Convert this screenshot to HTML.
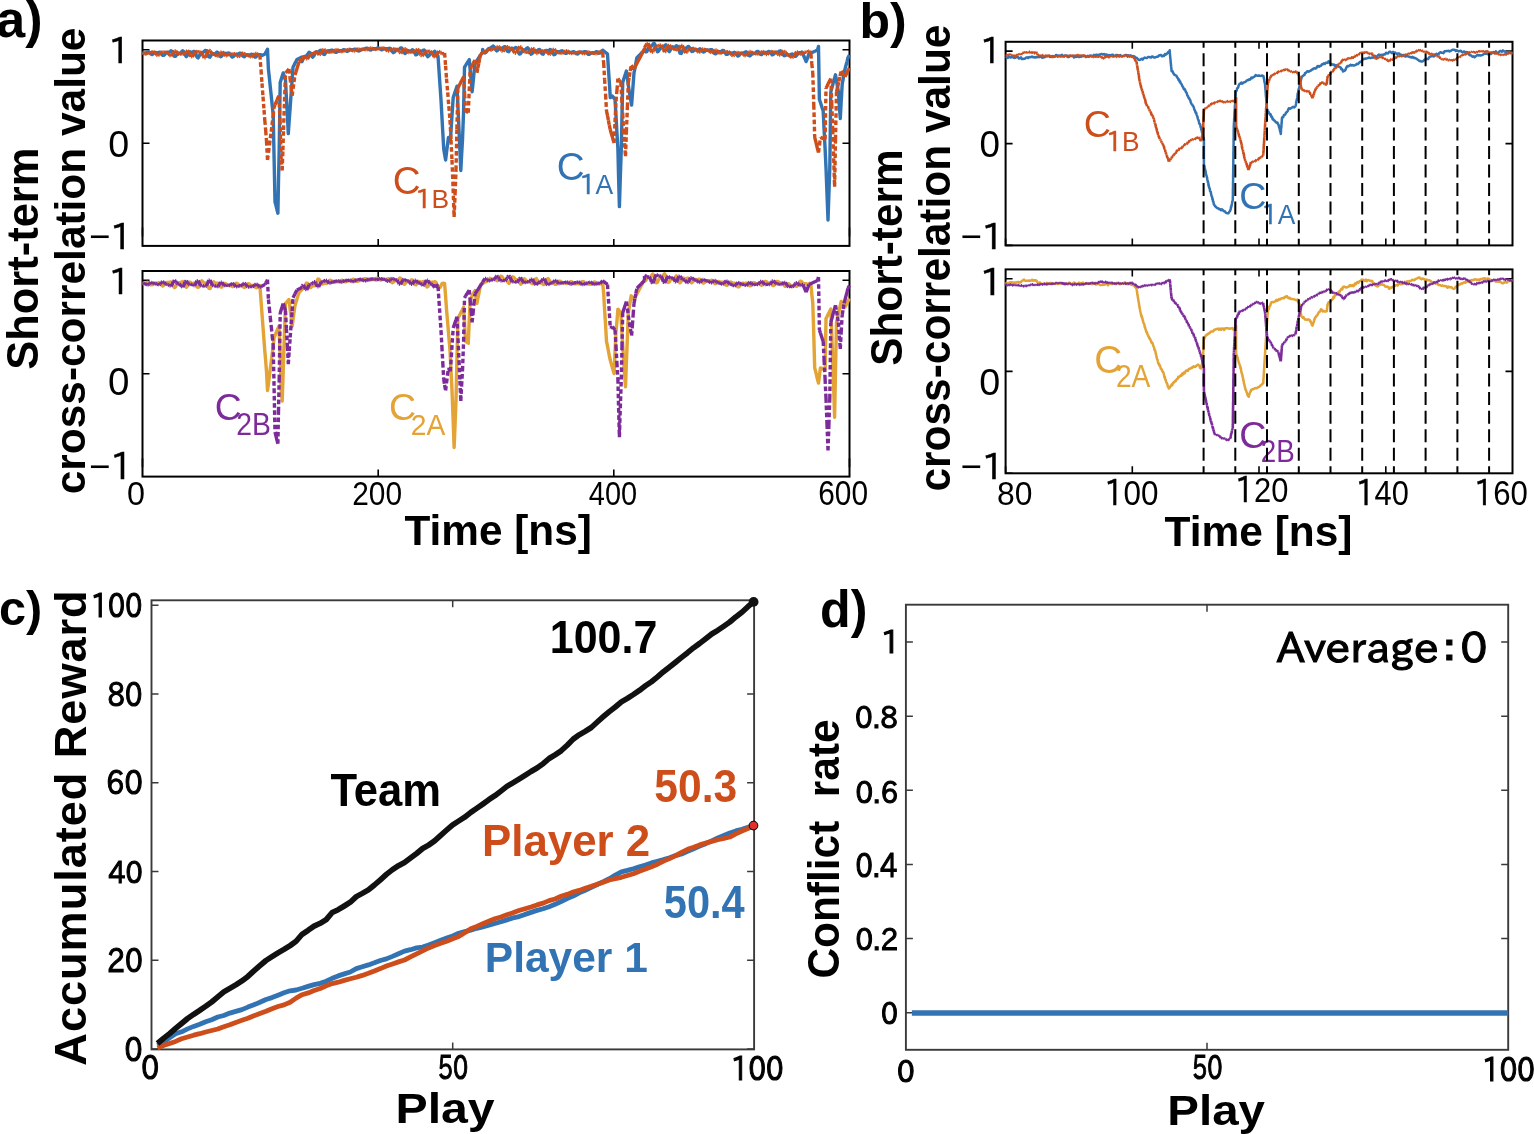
<!DOCTYPE html><html><head><meta charset="utf-8"><title>Figure</title><style>html,body{margin:0;padding:0;background:#fff;}svg{display:block;}text{font-family:'Liberation Sans','Noto Sans CJK JP',sans-serif;white-space:pre}.j{font-family:'IPAPGothic','Liberation Sans',sans-serif;stroke:#000;stroke-width:1.1px}.j1{font-family:IPAPGothic,'Liberation Sans',sans-serif;stroke-width:0.5px}</style></head><body>
<svg width="1534" height="1134" viewBox="0 0 1534 1134">
<rect x="0" y="0" width="1534" height="1134" fill="#fff"/>
<rect x="142.5" y="40.5" width="707" height="205.4" fill="none" stroke="#000" stroke-width="2.0"/>
<path d="M142.5 143.2h7M849.5 143.2h-7M142.5 49.8h7M849.5 49.8h-7M142.5 236.6v-9M849.5 236.6v-9M378.2 40.5v7M378.2 245.9v-7M613.8 40.5v7M613.8 245.9v-7" stroke="#000" stroke-width="1.6" fill="none"/>
<rect x="142.5" y="271" width="707" height="205.6" fill="none" stroke="#000" stroke-width="2.0"/>
<path d="M142.5 373.8h7M849.5 373.8h-7M142.5 280.3h7M849.5 280.3h-7M142.5 467.3v-9M849.5 467.3v-9M378.2 271v7M378.2 476.6v-7M613.8 271v7M613.8 476.6v-7" stroke="#000" stroke-width="1.6" fill="none"/>
<polyline points="142.5,53.5 143.1,53.2 143.7,52.9 144.3,52.9 144.9,52.9 145.5,52.9 146,52.8 146.6,52.5 147.2,52.2 147.8,52 148.4,51.7 149,52.1 149.6,52.4 150.2,53.1 150.8,53.9 151.4,54.2 152,54.6 152.6,54.2 153.1,53.9 153.7,53.3 154.3,52.7 154.9,52.6 155.5,52.4 156.1,52.6 156.7,52.8 157.3,52.8 157.9,52.7 158.5,52.5 159.1,52.2 159.7,52.2 160.2,52.2 160.8,52.9 161.4,53.6 162,54.4 162.6,55.2 163.2,55.3 163.8,55.4 164.4,54.8 165,54.1 165.6,53.4 166.2,52.7 166.8,52.5 167.3,52.2 167.9,52.3 168.5,52.3 169.1,52 169.7,51.7 170.3,51.3 170.9,50.8 171.5,51.1 172.1,51.3 172.7,52.6 173.3,53.8 173.9,55 174.4,56.3 175,56.3 175.6,56.4 176.2,55.4 176.8,54.5 177.4,53.8 178,53 178.6,53.1 179.2,53.1 179.8,53.2 180.4,53.2 181,52.6 181.5,51.9 182.1,51.4 182.7,50.8 183.3,51.3 183.9,51.9 184.5,53.4 185.1,54.8 185.7,55.7 186.3,56.6 186.9,55.9 187.5,55.3 188.1,54 188.6,52.8 189.2,52.3 189.8,51.7 190.4,52 191,52.3 191.6,52.4 192.2,52.4 192.8,52 193.4,51.5 194,51.4 194.6,51.4 195.2,52.5 195.7,53.7 196.3,55.3 196.9,56.9 197.5,57.4 198.1,57.9 198.7,56.9 199.3,55.9 199.9,54.6 200.5,53.3 201.1,52.8 201.7,52.4 202.2,52.4 202.8,52.5 203.4,52.1 204,51.8 204.6,51.1 205.2,50.4 205.8,50.6 206.4,50.7 207,52.2 207.6,53.6 208.2,55.2 208.8,56.8 209.3,57 209.9,57.2 210.5,56.2 211.1,55.3 211.7,54.4 212.3,53.6 212.9,53.6 213.5,53.6 214.1,53.8 214.7,54 215.3,53.6 215.9,53.2 216.4,52.6 217,52.1 217.6,52.5 218.2,52.9 218.8,54.1 219.4,55.2 220,56 220.6,56.7 221.2,56.4 221.8,56 222.4,55 223,54.1 223.5,53.6 224.1,53.1 224.7,53.3 225.3,53.4 225.9,53.5 226.5,53.6 227.1,53.4 227.7,53.2 228.3,53.1 228.9,53 229.5,53.6 230.1,54.2 230.6,55.2 231.2,56.2 231.8,56.6 232.4,57.1 233,56.7 233.6,56.3 234.2,55.6 234.8,54.9 235.4,54.6 236,54.3 236.6,54.3 237.2,54.3 237.7,54.2 238.3,54 238.9,53.6 239.5,53.2 240.1,53.2 240.7,53.1 241.3,53.8 241.9,54.5 242.5,55.3 243.1,56.2 243.7,56.4 244.3,56.7 244.8,56.2 245.4,55.8 246,55.3 246.6,54.8 247.2,54.8 247.8,54.8 248.4,54.9 249,55.1 249.6,55 250.2,54.8 250.8,54.5 251.4,54.2 251.9,54.3 252.5,54.5 253.1,55.2 253.7,55.9 254.3,56.5 254.9,57.1 255.5,57 256.1,56.9 256.7,56.2 257.3,55.5 257.9,55.1 258.5,54.6 259,54.6 259.6,54.6 260.2,54.7 260.8,54.8 261.4,55.1 262,55.5 263,55 264,54.5 265,54 265.8,52.4 266.7,50.8 267.5,49.2 268.4,69 269.4,78.1 270.3,87.2 271.3,96.4 272.2,105.5 273.2,114.6 274.1,158.2 275,201.8 276,205.6 276.9,209.4 277.9,213.2 278.5,180.9 279.2,148.7 280.2,82.4 281.2,79.2 282.2,76.1 283.2,72.9 284.4,76.5 285.5,80 286.4,97.9 287.4,115.7 288.3,133.6 289.2,120.3 290.2,107 291.1,93.7 292.1,80.5 293,67.2 294,65.3 294.9,63.4 295.9,61.5 296.9,59.6 297.9,59.1 298.9,58.6 300,58 301,57.5 302,57 302,61.7 302.6,60.2 303.2,58.8 303.8,57.7 304.4,56.6 305,56.3 305.6,56.1 306.2,55.9 306.7,55.7 307.3,54.8 307.9,53.9 308.5,53.1 309.1,52.2 309.7,52.6 310.3,53 310.9,54.3 311.5,55.7 312.1,56.4 312.7,57.2 313.3,56.5 313.9,55.8 314.5,54.5 315,53.1 315.6,52.5 316.2,51.8 316.8,51.9 317.4,52 318,51.9 318.6,51.8 319.2,51.2 319.8,50.6 320.4,50.4 321,50.3 321.6,51.1 322.2,52 322.8,53.1 323.3,54.1 323.9,54.3 324.5,54.5 325.1,53.7 325.7,53 326.3,52.1 326.9,51.3 327.5,51.1 328.1,50.8 328.7,50.8 329.3,50.9 329.9,50.7 330.5,50.6 331.1,50.3 331.6,50.1 332.2,50.2 332.8,50.2 333.4,50.7 334,51.2 334.6,51.7 335.2,52.2 335.8,52.2 336.4,52.3 337,51.9 337.6,51.5 338.2,51.2 338.8,50.8 339.4,50.8 339.9,50.7 340.5,50.7 341.1,50.7 341.7,50.5 342.3,50.3 342.9,50 343.5,49.7 344.1,49.8 344.7,49.9 345.3,50.4 345.9,50.8 346.5,51.1 347.1,51.4 347.7,51.2 348.2,51 348.8,50.6 349.4,50.1 350,49.9 350.6,49.6 351.2,49.7 351.8,49.7 352.4,49.7 353,49.7 353.6,49.5 354.2,49.3 354.8,49.2 355.4,49.1 356,49.4 356.5,49.7 357.1,50.2 357.7,50.7 358.3,50.9 358.9,51 359.5,50.7 360.1,50.4 360.7,50 361.3,49.5 361.9,49.3 362.5,49.1 363.1,49.1 363.7,49.1 364.3,48.9 364.8,48.8 365.4,48.5 366,48.2 366.6,48.2 367.2,48.2 367.8,48.6 368.4,48.9 369,49.4 369.6,49.8 370.2,49.9 370.8,50 371.4,49.6 372,49.3 372.6,49 373.2,48.7 373.7,48.7 374.3,48.6 374.9,48.7 375.5,48.7 376.1,48.5 376.7,48.3 377.3,48.1 377.9,47.8 378.5,48 379.1,48.1 379.7,48.6 380.3,49 380.9,49.4 381.5,49.7 382,49.7 382.6,49.6 383.2,49.3 383.8,49 384.4,48.8 385,48.7 385.6,48.7 386.2,48.8 386.8,48.8 387.4,48.9 388,48.7 388.6,48.5 389.2,48.4 389.8,48.3 390.3,48.8 390.9,49.3 391.5,50.3 392.1,51.3 392.7,52 393.3,52.7 393.9,52.3 394.5,52 395.1,51.2 395.7,50.4 396.3,50.1 396.9,49.7 397.5,49.7 398.1,49.8 398.6,49.5 399.2,49.3 399.8,48.7 400.4,48 401,48 401.6,47.9 402.2,48.9 402.8,50 403.4,51.3 404,52.7 404.6,53.1 405.2,53.5 405.8,52.8 406.4,52.2 406.9,51.5 407.5,50.8 408.1,50.8 408.7,50.8 409.3,51.1 409.9,51.3 410.5,51.1 411.1,50.8 411.7,50.3 412.3,49.8 412.9,50.1 413.5,50.4 414.1,51.6 414.7,52.8 415.2,53.8 415.8,54.8 416.4,54.6 417,54.4 417.6,53.4 418.2,52.3 418.8,51.6 419.4,50.9 420,50.9 420.6,51 421.2,51.1 421.8,51.2 422.4,50.8 423,50.4 423.5,50.2 424.1,49.9 424.7,50.8 425.3,51.6 425.9,53.2 426.5,54.8 427.1,55.7 427.7,56.7 428.3,56.3 428.9,55.8 429.5,54.8 430.1,53.8 430.7,53.4 431.3,52.9 431.8,53 432.4,53.1 433,52.9 433.6,52.6 434.2,51.9 434.8,51.2 435.4,52.6 436,54 437,55 438,56 439,70.7 440,85.3 441,100 441.9,116.2 442.8,132.5 443.7,148.7 444.6,154.3 445.6,160 446.5,152.5 447.5,144.9 448.4,137.4 449.4,139.2 450.3,141 451.3,126.5 452.2,112.1 453.2,97.6 454.1,94.8 455.1,91.9 456.1,89 457,86.2 458,108.1 459,130 459.9,150.2 460.8,170.5 461.6,155.2 462.5,140 463.6,110.8 464.5,67.2 465.5,65.7 466.4,64.2 467.4,62.6 468.3,61.1 469.3,59.6 470.2,70.4 471.2,81.1 472.1,91.9 473.1,82.4 474,72.9 475,63.4 476.1,61.8 477.2,60.1 478.3,58.5 479.3,56.9 480.4,55.3 481.5,53.6 482.6,52 482.6,49.4 483.2,50.5 483.8,51.5 484.4,52.2 485,53 485.6,52.5 486.2,52.1 486.8,51.1 487.3,50 487.9,49.3 488.5,48.6 489.1,48.5 489.7,48.4 490.3,48.2 490.9,47.9 491.5,47.3 492.1,46.7 492.7,46.4 493.3,46 493.9,46.7 494.5,47.3 495.1,48.5 495.6,49.7 496.2,50.3 496.8,50.9 497.4,50.4 498,50 498.6,49.3 499.2,48.6 499.8,48.4 500.4,48.2 501,48.4 501.6,48.6 502.2,48.4 502.8,48.2 503.4,47.5 503.9,46.9 504.5,46.8 505.1,46.7 505.7,47.7 506.3,48.8 506.9,50 507.5,51.3 508.1,51.5 508.7,51.7 509.3,50.8 509.9,49.9 510.5,49.1 511.1,48.3 511.7,48.3 512.2,48.3 512.8,48.6 513.4,48.9 514,48.6 514.6,48.3 515.2,47.9 515.8,47.5 516.4,48.1 517,48.6 517.6,50.2 518.2,51.7 518.8,52.9 519.4,54.1 520,53.9 520.5,53.7 521.1,52.6 521.7,51.5 522.3,50.7 522.9,50 523.5,50 524.1,50 524.7,49.9 525.3,49.8 525.9,49.1 526.5,48.5 527.1,48.1 527.7,47.8 528.3,48.6 528.8,49.3 529.4,50.9 530,52.4 530.6,53.3 531.2,54.2 531.8,53.7 532.4,53.3 533,52.4 533.6,51.5 534.2,51.3 534.8,51 535.4,51.2 536,51.4 536.6,51.2 537.1,51.1 537.7,50.4 538.3,49.8 538.9,49.6 539.5,49.5 540.1,50.4 540.7,51.3 541.3,52.5 541.9,53.8 542.5,54 543.1,54.2 543.7,53.3 544.3,52.4 544.9,51.5 545.5,50.6 546,50.5 546.6,50.4 547.2,50.6 547.8,50.8 548.4,50.5 549,50.3 549.6,49.9 550.2,49.5 550.8,49.9 551.4,50.3 552,51.5 552.6,52.8 553.2,53.7 553.8,54.7 554.3,54.5 554.9,54.4 555.5,53.6 556.1,52.9 556.7,52.4 557.3,51.8 557.9,51.8 558.5,51.8 559.1,51.7 559.7,51.7 560.3,51.4 560.9,51.1 561.5,51 562.1,50.8 562.6,51.1 563.2,51.3 563.8,52 564.4,52.6 565,53 565.6,53.4 566.2,53.3 566.8,53.1 567.4,52.8 568,52.4 568.6,52.3 569.2,52.2 569.8,52.3 570.4,52.4 570.9,52.4 571.5,52.4 572.1,52.1 572.7,51.9 573.3,51.8 573.9,51.7 574.5,52.1 575.1,52.5 575.7,53.1 576.3,53.7 576.9,53.8 577.5,54 578.1,53.6 578.7,53.2 579.2,52.8 579.8,52.3 580.4,52.2 581,52.1 581.6,52.2 582.2,52.2 582.8,52.1 583.4,52 584,51.8 584.6,51.6 585.2,51.7 585.8,51.8 586.4,52.4 587,53 587.5,53.6 588.1,54.2 588.7,54.3 589.3,54.3 589.9,53.9 590.5,53.5 591.1,53.2 591.7,52.9 592.3,52.8 592.9,52.8 593.5,52.8 594.1,52.7 594.7,52.5 595.3,52.2 595.8,51.9 596.4,51.7 597,51.9 597.6,52.1 598.2,52.7 598.8,53.2 599.4,53.1 600,53 600.9,52.1 601.8,51.1 602.7,50.2 603.7,51 604.6,51.7 605.6,52.5 606.5,53.2 607.5,54 608.4,68.5 609.4,83.1 610.3,97.6 611.3,96.8 612.3,96 613.2,97.2 614.1,98.3 615,99.5 616,115.9 616.9,132.3 617.9,148.7 618.6,177.6 619.4,206.6 620.3,177.6 621.3,148.7 622,115.5 622.7,82.4 623.6,79.6 624.5,76.7 625.5,73.8 626.4,71 627.4,78 628.3,84.9 629.3,91.9 630.5,98.5 631.6,105.1 632.4,94.4 633.2,83.6 634,72.9 635,67.8 635.9,62.8 636.9,57.7 638,56.6 639.1,55.5 640.2,54.4 641.2,53.3 642.3,52.2 643.4,51.1 644.5,50 644.5,49 645.1,50.4 645.7,51.8 646.3,51.7 646.9,51.6 647.5,50.2 648,48.8 648.6,47.7 649.2,46.6 649.8,46.4 650.4,46.3 651,46.2 651.6,46 652.2,45.2 652.8,44.4 653.4,43.7 654,43.1 654.6,44 655.1,44.9 655.7,46.9 656.3,49 656.9,50.4 657.5,51.8 658.1,51.4 658.7,51 659.3,49.8 659.9,48.5 660.5,48 661.1,47.5 661.7,47.7 662.2,47.9 662.8,47.7 663.4,47.5 664,46.5 664.6,45.6 665.2,45.2 665.8,44.7 666.4,45.8 667,46.9 667.6,48.6 668.2,50.4 668.7,51 669.3,51.6 669.9,50.7 670.5,49.7 671.1,48.5 671.7,47.3 672.3,47.1 672.9,46.8 673.5,47.2 674.1,47.5 674.7,47.3 675.3,47 675.8,46.4 676.4,45.7 677,46 677.6,46.3 678.2,47.9 678.8,49.6 679.4,51.4 680,53.1 680.6,53.3 681.2,53.5 681.8,52.3 682.4,51 682.9,49.9 683.5,48.8 684.1,48.6 684.7,48.4 685.3,48.4 685.9,48.4 686.5,47.9 687.1,47.3 687.7,46.9 688.3,46.4 688.9,46.9 689.4,47.4 690,48.6 690.6,49.8 691.2,50.7 691.8,51.5 692.4,51.4 693,51.3 693.6,50.7 694.2,50.2 694.8,49.9 695.4,49.7 696,49.8 696.5,50 697.1,50 697.7,50 698.3,49.6 698.9,49.3 699.5,49.1 700.1,48.8 700.7,49.2 701.3,49.7 701.9,50.5 702.5,51.3 703.1,51.7 703.6,52.1 704.2,51.8 704.8,51.4 705.4,50.8 706,50.2 706.6,50 707.2,49.9 707.8,50 708.4,50.2 709,50.2 709.6,50.1 710.1,49.8 710.7,49.6 711.3,49.6 711.9,49.7 712.5,50.5 713.1,51.3 713.7,52.3 714.3,53.3 714.9,53.6 715.5,53.9 716.1,53.5 716.7,53 717.2,52.5 717.8,51.9 718.4,51.8 719,51.7 719.6,51.8 720.2,51.8 720.8,51.5 721.4,51.2 722,50.8 722.6,50.4 723.2,50.5 723.8,50.7 724.3,51.6 724.9,52.5 725.5,53.3 726.1,54.2 726.7,54.3 727.3,54.4 727.9,53.9 728.5,53.4 729.1,53.1 729.7,52.8 730.3,53 730.8,53.1 731.4,53.3 732,53.4 732.6,53.1 733.2,52.8 733.8,52.6 734.4,52.3 735,52.7 735.6,53.1 736.2,54 736.8,54.9 737.4,55.5 737.9,56.1 738.5,55.7 739.1,55.4 739.7,54.6 740.3,53.9 740.9,53.5 741.5,53.1 742.1,53.1 742.7,53.1 743.3,53 743.9,52.9 744.4,52.5 745,52.1 745.6,52 746.2,51.8 746.8,52.5 747.4,53.1 748,54.1 748.6,55.1 749.2,55.5 749.8,55.9 750.4,55.5 751,55 751.5,54.4 752.1,53.8 752.7,53.5 753.3,53.3 753.9,53.3 754.5,53.3 755.1,53 755.7,52.6 756.3,52.1 756.9,51.5 757.5,51.5 758.1,51.4 758.6,52 759.2,52.7 759.8,53.5 760.4,54.3 761,54.5 761.6,54.6 762.2,54 762.8,53.5 763.4,53 764,52.5 764.6,52.5 765.1,52.5 765.7,52.6 766.3,52.7 766.9,52.4 767.5,52.1 768.1,51.8 768.7,51.4 769.3,51.6 769.9,51.8 770.5,52.7 771.1,53.5 771.7,54.2 772.2,54.9 772.8,54.7 773.4,54.5 774,53.8 774.6,53.1 775.2,52.6 775.8,52.1 776.4,52.1 777,52.1 777.6,52.1 778.2,52 778.8,51.6 779.3,51.2 779.9,51 780.5,50.8 781.1,51.3 781.7,51.9 782.3,53 782.9,54.1 783.5,54.9 784.1,55.7 784.7,55.6 785.3,55.6 785.8,55.1 786.4,54.7 787,54.6 787.6,54.6 788.2,54.8 788.8,55.1 789.4,55.1 790,55 790.6,54.6 791.2,54.3 791.8,54.1 792.4,54 792.9,54.4 793.5,54.8 794.1,55.5 794.7,56.2 795.3,56.3 795.9,56.3 796.5,55.5 797.1,54.8 797.7,54 798.3,53.2 798.9,52.9 799.5,52.6 800,52.6 800.6,52.7 801.2,52.4 801.8,52.1 802.4,53 803,54 804,56.5 805.1,59.1 806.1,61.6 807.1,59.1 808,56.5 809,54 810.1,53.5 811.1,53 812.2,52.5 813.2,52 814.3,51.5 815.4,51 816.4,50.5 817.5,50 818.5,46.5 819.4,99.5 820.4,102.3 821.3,105.2 822.2,108.1 823.2,110.9 824.1,129.9 825.1,148.8 826,167.8 827,193.9 828,220 828.9,193.9 829.8,167.8 830.8,91.9 832,87.6 833.1,83.3 834.3,79.1 835.5,74.8 836.5,80.5 837.4,86.2 838.4,91.9 839.3,105.2 840.3,118.5 841.2,101.4 842.2,84.3 843.2,78.6 844.1,72.9 845,69.1 846,65.3 847,61.6 847.9,57.8 848.7,56.4 849.5,55" fill="none" stroke="#3273b3" stroke-width="3.4" stroke-linejoin="round"/><path d="M142.5 52.7L143.1 53.2M143.1 53.2L143.7 53.8M143.7 53.8L144.3 54M144.3 54L144.9 54.2M144.9 54.2L145.5 54.1M145.5 54.1L146.1 53.9M146.1 53.9L146.7 53.6M146.7 53.6L147.2 53.3M147.2 53.3L147.8 53.1M147.8 53.1L148.4 52.9M148.4 52.9L149 52.9M149 52.9L149.6 52.9M149.6 52.9L150.2 52.8M150.2 52.8L150.8 52.7M150.8 52.7L151.4 52.4M151.4 52.4L152 52.1M152 52.1L152.6 51.8M152.6 51.8L153.2 51.6M153.2 51.6L153.8 51.8M153.8 51.8L154.4 51.9M154.4 51.9L155 52.6M155 52.6L155.5 53.3M155.5 53.3L156.1 54.1M156.1 54.1L156.7 54.9M156.7 54.9L157.3 55.2M157.3 55.2L157.9 55.5M157.9 55.5L158.5 55.1M158.5 55.1L159.1 54.7M159.1 54.7L159.7 54M159.7 54L160.3 53.2M160.3 53.2L160.9 52.6M160.9 52.6L161.5 52.1M161.5 52.1L162.1 52M162.1 52L162.7 51.9M162.7 51.9L163.3 52M163.3 52L163.8 52.2M163.8 52.2L164.4 52.3M164.4 52.3L165 52.4M165 52.4L165.6 52.3M165.6 52.3L166.2 52.3M166.2 52.3L166.8 52.4M166.8 52.4L167.4 52.6M167.4 52.6L168 53.2M168 53.2L168.6 53.8M168.6 53.8L169.2 54.6M169.2 54.6L169.8 55.4M169.8 55.4L170.4 55.7M170.4 55.7L171 56M171 56L171.6 55.5M171.6 55.5L172.1 54.9M172.1 54.9L172.7 53.7M172.7 53.7L173.3 52.5M173.3 52.5L173.9 51.6M173.9 51.6L174.5 50.7M174.5 50.7L175.1 50.8M175.1 50.8L175.7 50.8M175.7 50.8L176.3 51.7M176.3 51.7L176.9 52.5M176.9 52.5L177.5 53.3M177.5 53.3L178.1 54.1M178.1 54.1L178.7 54.3M178.7 54.3L179.3 54.5M179.3 54.5L179.9 54.2M179.9 54.2L180.4 53.9M180.4 53.9L181 53.7M181 53.7L181.6 53.6M181.6 53.6L182.2 53.8M182.2 53.8L182.8 54.1M182.8 54.1L183.4 54.2M183.4 54.2L184 54.4M184 54.4L184.6 53.9M184.6 53.9L185.2 53.4M185.2 53.4L185.8 52.5M185.8 52.5L186.4 51.5M186.4 51.5L187 51M187 51L187.6 50.5M187.6 50.5L188.2 51.1M188.2 51.1L188.7 51.6M188.7 51.6L189.3 53.1M189.3 53.1L189.9 54.5M189.9 54.5L190.5 55.7M190.5 55.7L191.1 56.8M191.1 56.8L191.7 56.9M191.7 56.9L192.3 56.9M192.3 56.9L192.9 55.9M192.9 55.9L193.5 54.9M193.5 54.9L194.1 53.7M194.1 53.7L194.7 52.5M194.7 52.5L195.3 51.9M195.3 51.9L195.9 51.4M195.9 51.4L196.5 51.5M196.5 51.5L197 51.6M197 51.6L197.6 51.8M197.6 51.8L198.2 52M198.2 52L198.8 52M198.8 52L199.4 51.9M199.4 51.9L200 51.9M200 51.9L200.6 52M200.6 52L201.2 52.6M201.2 52.6L201.8 53.3M201.8 53.3L202.4 54.5M202.4 54.5L203 55.8M203 55.8L203.6 56.8M203.6 56.8L204.2 57.9M204.2 57.9L204.8 57.8M204.8 57.8L205.4 57.6M205.4 57.6L205.9 56.3M205.9 56.3L206.5 54.9M206.5 54.9L207.1 53.3M207.1 53.3L207.7 51.6M207.7 51.6L208.3 50.8M208.3 50.8L208.9 50M208.9 50L209.5 50.4M209.5 50.4L210.1 50.8M210.1 50.8L210.7 51.8M210.7 51.8L211.3 52.7M211.3 52.7L211.9 53.4M211.9 53.4L212.5 54M212.5 54L213.1 54.2M213.1 54.2L213.7 54.3M213.7 54.3L214.2 54.4M214.2 54.4L214.8 54.6M214.8 54.6L215.4 55M215.4 55L216 55.4M216 55.4L216.6 55.8M216.6 55.8L217.2 56.2M217.2 56.2L217.8 56.1M217.8 56.1L218.4 56M218.4 56L219 55.2M219 55.2L219.6 54.3M219.6 54.3L220.2 53.3M220.2 53.3L220.8 52.4M220.8 52.4L221.4 52.1M221.4 52.1L222 51.7M222 51.7L222.5 52.3M222.5 52.3L223.1 52.9M223.1 52.9L223.7 53.8M223.7 53.8L224.3 54.8M224.3 54.8L224.9 55.3M224.9 55.3L225.5 55.9M225.5 55.9L226.1 55.8M226.1 55.8L226.7 55.6M226.7 55.6L227.3 55.2M227.3 55.2L227.9 54.7M227.9 54.7L228.5 54.4M228.5 54.4L229.1 54.1M229.1 54.1L229.7 54.1M229.7 54.1L230.3 54.1M230.3 54.1L230.8 54.2M230.8 54.2L231.4 54.3M231.4 54.3L232 54.3M232 54.3L232.6 54.2M232.6 54.2L233.2 54M233.2 54L233.8 53.8M233.8 53.8L234.4 53.8M234.4 53.8L235 53.8M235 53.8L235.6 54.3M235.6 54.3L236.2 54.7M236.2 54.7L236.8 55.5M236.8 55.5L237.4 56.2M237.4 56.2L238 56.5M238 56.5L238.6 56.9M238.6 56.9L239.1 56.6M239.1 56.6L239.7 56.3M239.7 56.3L240.3 55.5M240.3 55.5L240.9 54.7M240.9 54.7L241.5 54M241.5 54L242.1 53.3M242.1 53.3L242.7 53.2M242.7 53.2L243.3 53.1M243.3 53.1L243.9 53.4M243.9 53.4L244.5 53.8M244.5 53.8L245.1 54.2M245.1 54.2L245.7 54.7M245.7 54.7L246.3 54.9M246.3 54.9L246.9 55.1M246.9 55.1L247.4 55.3M247.4 55.3L248 55.4M248 55.4L248.6 55.6M248.6 55.6L249.2 55.9M249.2 55.9L249.8 56.2M249.8 56.2L250.4 56.6M250.4 56.6L251 56.8M251 56.8L251.6 57M251.6 57L252.2 56.7M252.2 56.7L252.8 56.3M252.8 56.3L253.4 55.6M253.4 55.6L254 54.8M254 54.8L254.6 54.1M254.6 54.1L255.2 53.4M255.2 53.4L255.7 53.3M255.7 53.3L256.3 53.3M256.3 53.3L256.9 53.8M256.9 53.8L257.5 54.4M257.5 54.4L258.1 55.1M258.1 55.1L258.7 55.8M258.7 55.8L259.3 55.4M259.3 55.4L259.9 55M259.9 55L261 70M261 70L262 83.3M262 83.3L263 96.7M263 96.7L264 110M264 110L264.8 120.3M264.8 120.3L265.7 130.7M265.7 130.7L266.5 141M266.5 141L267.5 160M267.5 160L268.5 152.5M268.5 152.5L269.5 145M269.5 145L270.3 138.3M270.3 138.3L271.2 131.7M271.2 131.7L272 125M272 125L273.1 116M273.1 116L274.1 107M274.1 107L275.1 104.7M275.1 104.7L276 102.5M276 102.5L277 100.2M277 100.2L277.9 98M277.9 98L278.9 95.7M278.9 95.7L280 120M280 120L280.6 140M280.6 140L281.2 160M281.2 160L282.2 170.5M282.2 170.5L282.9 150.2M282.9 150.2L283.5 130M283.5 130L284.5 101.5M284.5 101.5L285.5 72.9M285.5 72.9L286.7 71.6M286.7 71.6L287.8 70.3M287.8 70.3L289 69M289 69L290 77.9M290 77.9L291.1 86.8M291.1 86.8L292.1 95.7M292.1 95.7L293.1 88.8M293.1 88.8L294 81.9M294 81.9L295 75M295 75L296 71.8M296 71.8L297 68.5M297 68.5L298 65.2M298 65.2L299 62M299 62L300 61M300 61L301 60M301 60L302 59M302 59L303 58M303 58L304 57M304 57L305 56M305 56L305 56.4M305 56.4L305.6 57.6M305.6 57.6L306.2 58.8M306.2 58.8L306.8 59M306.8 59L307.4 59.1M307.4 59.1L308 58.1M308 58.1L308.5 57.2M308.5 57.2L309.1 56.1M309.1 56.1L309.7 55M309.7 55L310.3 54.4M310.3 54.4L310.9 53.9M310.9 53.9L311.5 53.9M311.5 53.9L312.1 53.9M312.1 53.9L312.7 53.8M312.7 53.8L313.3 53.7M313.3 53.7L313.9 53.3M313.9 53.3L314.5 52.8M314.5 52.8L315.1 52.3M315.1 52.3L315.6 51.9M315.6 51.9L316.2 52M316.2 52L316.8 52.1M316.8 52.1L317.4 52.9M317.4 52.9L318 53.6M318 53.6L318.6 54.2M318.6 54.2L319.2 54.8M319.2 54.8L319.8 54.4M319.8 54.4L320.4 54.1M320.4 54.1L321 53.1M321 53.1L321.6 52M321.6 52L322.2 51M322.2 51L322.7 50M322.7 50L323.3 49.7M323.3 49.7L323.9 49.4M323.9 49.4L324.5 49.9M324.5 49.9L325.1 50.4M325.1 50.4L325.7 51M325.7 51L326.3 51.7M326.3 51.7L326.9 52M326.9 52L327.5 52.4M327.5 52.4L328.1 52.3M328.1 52.3L328.7 52.3M328.7 52.3L329.3 52.1M329.3 52.1L329.8 52M329.8 52L330.4 52M330.4 52L331 51.9M331 51.9L331.6 51.9M331.6 51.9L332.2 51.9M332.2 51.9L332.8 51.8M332.8 51.8L333.4 51.6M333.4 51.6L334 51.2M334 51.2L334.6 50.7M334.6 50.7L335.2 50.3M335.2 50.3L335.8 49.8M335.8 49.8L336.4 49.6M336.4 49.6L336.9 49.5M336.9 49.5L337.5 49.8M337.5 49.8L338.1 50.1M338.1 50.1L338.7 50.6M338.7 50.6L339.3 51.1M339.3 51.1L339.9 51.5M339.9 51.5L340.5 51.9M340.5 51.9L341.1 51.8M341.1 51.8L341.7 51.8M341.7 51.8L342.3 51.5M342.3 51.5L342.9 51.3M342.9 51.3L343.4 51M343.4 51L344 50.7M344 50.7L344.6 50.6M344.6 50.6L345.2 50.5M345.2 50.5L345.8 50.4M345.8 50.4L346.4 50.3M346.4 50.3L347 50.1M347 50.1L347.6 49.9M347.6 49.9L348.2 49.7M348.2 49.7L348.8 49.4M348.8 49.4L349.4 49.3M349.4 49.3L350 49.2M350 49.2L350.5 49.4M350.5 49.4L351.1 49.7M351.1 49.7L351.7 50.1M351.7 50.1L352.3 50.5M352.3 50.5L352.9 50.8M352.9 50.8L353.5 51.1M353.5 51.1L354.1 51M354.1 51L354.7 50.9M354.7 50.9L355.3 50.5M355.3 50.5L355.9 50M355.9 50L356.5 49.6M356.5 49.6L357.1 49.2M357.1 49.2L357.6 49.1M357.6 49.1L358.2 49M358.2 49L358.8 49.1M358.8 49.1L359.4 49.3M359.4 49.3L360 49.4M360 49.4L360.6 49.6M360.6 49.6L361.2 49.6M361.2 49.6L361.8 49.6M361.8 49.6L362.4 49.5M362.4 49.5L363 49.4M363 49.4L363.6 49.4M363.6 49.4L364.2 49.4M364.2 49.4L364.7 49.5M364.7 49.5L365.3 49.7M365.3 49.7L365.9 49.7M365.9 49.7L366.5 49.8M366.5 49.8L367.1 49.6M367.1 49.6L367.7 49.5M367.7 49.5L368.3 49.1M368.3 49.1L368.9 48.7M368.9 48.7L369.5 48.3M369.5 48.3L370.1 47.9M370.1 47.9L370.7 47.9M370.7 47.9L371.3 47.9M371.3 47.9L371.8 48.2M371.8 48.2L372.4 48.5M372.4 48.5L373 48.9M373 48.9L373.6 49.3M373.6 49.3L374.2 49.5M374.2 49.5L374.8 49.7M374.8 49.7L375.4 49.5M375.4 49.5L376 49.4M376 49.4L376.6 49.2M376.6 49.2L377.2 48.9M377.2 48.9L377.8 48.8M377.8 48.8L378.3 48.6M378.3 48.6L378.9 48.6M378.9 48.6L379.5 48.6M379.5 48.6L380.1 48.6M380.1 48.6L380.7 48.5M380.7 48.5L381.3 48.4M381.3 48.4L381.9 48.2M381.9 48.2L382.5 48.1M382.5 48.1L383.1 47.9M383.1 47.9L383.7 48M383.7 48L384.3 48.1M384.3 48.1L384.9 48.6M384.9 48.6L385.4 49M385.4 49L386 49.6M386 49.6L386.6 50.2M386.6 50.2L387.2 50.7M387.2 50.7L387.8 51.1M387.8 51.1L388.4 51M388.4 51L389 51M389 51L389.6 50.5M389.6 50.5L390.2 50M390.2 50L390.8 49.5M390.8 49.5L391.4 49M391.4 49L392 48.9M392 48.9L392.5 48.7M392.5 48.7L393.1 48.9M393.1 48.9L393.7 49.1M393.7 49.1L394.3 49.2M394.3 49.2L394.9 49.3M394.9 49.3L395.5 49.2M395.5 49.2L396.1 49.1M396.1 49.1L396.7 49.1M396.7 49.1L397.3 49.2M397.3 49.2L397.9 49.8M397.9 49.8L398.5 50.4M398.5 50.4L399.1 51.3M399.1 51.3L399.6 52.2M399.6 52.2L400.2 52.6M400.2 52.6L400.8 53.1M400.8 53.1L401.4 52.6M401.4 52.6L402 52.2M402 52.2L402.6 51.1M402.6 51.1L403.2 50.1M403.2 50.1L403.8 49.3M403.8 49.3L404.4 48.5M404.4 48.5L405 48.6M405 48.6L405.6 48.8M405.6 48.8L406.2 49.7M406.2 49.7L406.7 50.6M406.7 50.6L407.3 51.4M407.3 51.4L407.9 52.3M407.9 52.3L408.5 52.6M408.5 52.6L409.1 52.8M409.1 52.8L409.7 52.5M409.7 52.5L410.3 52.3M410.3 52.3L410.9 52M410.9 52L411.5 51.8M411.5 51.8L412.1 51.8M412.1 51.8L412.7 51.9M412.7 51.9L413.2 52M413.2 52L413.8 52.1M413.8 52.1L414.4 51.8M414.4 51.8L415 51.4M415 51.4L415.6 50.7M415.6 50.7L416.2 50M416.2 50L416.8 49.6M416.8 49.6L417.4 49.1M417.4 49.1L418 49.6M418 49.6L418.6 50.1M418.6 50.1L419.2 51.4M419.2 51.4L419.8 52.7M419.8 52.7L420.3 54M420.3 54L420.9 55.3M420.9 55.3L421.5 55.7M421.5 55.7L422.1 56M422.1 56L422.7 55.4M422.7 55.4L423.3 54.7M423.3 54.7L423.9 53.7M423.9 53.7L424.5 52.6M424.5 52.6L425.1 52M425.1 52L425.7 51.3M425.7 51.3L426.3 51.3M426.3 51.3L426.9 51.2M426.9 51.2L427.4 51.4M427.4 51.4L428 51.5M428 51.5L428.6 51.4M428.6 51.4L429.2 51.3M429.2 51.3L429.8 51.3M429.8 51.3L430.4 51.2M430.4 51.2L431 51.7M431 51.7L431.6 52.1M431.6 52.1L432.2 53.2M432.2 53.2L432.8 54.4M432.8 54.4L433.4 55.5M433.4 55.5L434 56.6M434 56.6L434.5 57M434.5 57L435.1 57.3M435.1 57.3L435.7 56.4M435.7 56.4L436.3 55.6M436.3 55.6L436.9 54.3M436.9 54.3L437.5 52.9M437.5 52.9L438.1 52.1M438.1 52.1L438.7 51.3M438.7 51.3L439.3 51.5M439.3 51.5L439.9 51.7M439.9 51.7L440.5 52.3M440.5 52.3L441.1 53M441.1 53L441.6 53.4M441.6 53.4L442.2 53.9M442.2 53.9L442.8 53.9M442.8 53.9L443.4 53.9M443.4 53.9L444 53.5M444 53.5L444.6 53M444.6 53L445.6 65.8M445.6 65.8L446.5 78.6M446.5 78.6L447.7 92.4M447.7 92.4L448.8 106.2M448.8 106.2L450 120M450 120L451 140M451 140L452 160M452 160L453.1 188.5M453.1 188.5L454.1 217M454.1 217L455.1 193.5M455.1 193.5L456 170M456 170L456.9 129M456.9 129L457.9 88M457.9 88L459 85.7M459 85.7L460.2 83.5M460.2 83.5L461.3 81.2M461.3 81.2L462.5 79M462.5 79L463.6 76.7M463.6 76.7L464.6 93.8M464.6 93.8L465.5 110.8M465.5 110.8L466.4 111.4M466.4 111.4L467.4 112.1M467.4 112.1L468.3 112.7M468.3 112.7L469.2 90.9M469.2 90.9L470.2 69.1M470.2 69.1L471.2 67.3M471.2 67.3L472.1 65.5M472.1 65.5L473.1 63.6M473.1 63.6L474 61.8M474 61.8L475 60M475 60L475.9 66.5M475.9 66.5L476.9 72.9M476.9 72.9L477.8 68.2M477.8 68.2L478.8 63.5M478.8 63.5L479.7 58.7M479.7 58.7L480.6 54M480.6 54L481.8 53.4M481.8 53.4L483 52.8M483 52.8L484.1 52.1M484.1 52.1L485.3 51.5M485.3 51.5L486.5 50.9M486.5 50.9L487.6 50.2M487.6 50.2L488.8 49.6M488.8 49.6L490 49M490 49L490 50.5M490 50.5L490.6 50.2M490.6 50.2L491.2 49.9M491.2 49.9L491.8 49.4M491.8 49.4L492.4 49M492.4 49L493 48.8M493 48.8L493.6 48.6M493.6 48.6L494.2 48.7M494.2 48.7L494.7 48.7M494.7 48.7L495.3 48.5M495.3 48.5L495.9 48.3M495.9 48.3L496.5 47.7M496.5 47.7L497.1 47.2M497.1 47.2L497.7 46.8M497.7 46.8L498.3 46.4M498.3 46.4L498.9 46.7M498.9 46.7L499.5 46.9M499.5 46.9L500.1 47.8M500.1 47.8L500.7 48.8M500.7 48.8L501.3 49.8M501.3 49.8L501.9 50.9M501.9 50.9L502.5 51.2M502.5 51.2L503 51.5M503 51.5L503.6 50.8M503.6 50.8L504.2 50.1M504.2 50.1L504.8 49M504.8 49L505.4 47.9M505.4 47.9L506 47.2M506 47.2L506.6 46.6M506.6 46.6L507.2 46.7M507.2 46.7L507.8 46.8M507.8 46.8L508.4 47.4M508.4 47.4L509 48M509 48L509.6 48.3M509.6 48.3L510.2 48.7M510.2 48.7L510.8 48.9M510.8 48.9L511.4 49.1M511.4 49.1L511.9 49.4M511.9 49.4L512.5 49.8M512.5 49.8L513.1 50.6M513.1 50.6L513.7 51.4M513.7 51.4L514.3 52.3M514.3 52.3L514.9 53.1M514.9 53.1L515.5 53.2M515.5 53.2L516.1 53.3M516.1 53.3L516.7 52.2M516.7 52.2L517.3 51.2M517.3 51.2L517.9 49.6M517.9 49.6L518.5 48.1M518.5 48.1L519.1 47.2M519.1 47.2L519.7 46.4M519.7 46.4L520.3 46.7M520.3 46.7L520.8 47M520.8 47L521.4 48.2M521.4 48.2L522 49.3M522 49.3L522.6 50.3M522.6 50.3L523.2 51.4M523.2 51.4L523.8 51.7M523.8 51.7L524.4 52.1M524.4 52.1L525 52.1M525 52.1L525.6 52M525.6 52L526.2 52.1M526.2 52.1L526.8 52.2M526.8 52.2L527.4 52.4M527.4 52.4L528 52.6M528 52.6L528.6 52.6M528.6 52.6L529.1 52.6M529.1 52.6L529.7 52M529.7 52L530.3 51.4M530.3 51.4L530.9 50.4M530.9 50.4L531.5 49.3M531.5 49.3L532.1 48.8M532.1 48.8L532.7 48.2M532.7 48.2L533.3 48.6M533.3 48.6L533.9 49.1M533.9 49.1L534.5 50.3M534.5 50.3L535.1 51.5M535.1 51.5L535.7 52.5M535.7 52.5L536.3 53.5M536.3 53.5L536.9 53.6M536.9 53.6L537.5 53.6M537.5 53.6L538 52.9M538 52.9L538.6 52.2M538.6 52.2L539.2 51.4M539.2 51.4L539.8 50.7M539.8 50.7L540.4 50.5M540.4 50.5L541 50.3M541 50.3L541.6 50.5M541.6 50.5L542.2 50.8M542.2 50.8L542.8 51M542.8 51L543.4 51.2M543.4 51.2L544 51.1M544 51.1L544.6 51M544.6 51L545.2 50.9M545.2 50.9L545.8 50.8M545.8 50.8L546.4 51.2M546.4 51.2L546.9 51.6M546.9 51.6L547.5 52.4M547.5 52.4L548.1 53.3M548.1 53.3L548.7 53.9M548.7 53.9L549.3 54.5M549.3 54.5L549.9 54.2M549.9 54.2L550.5 53.9M550.5 53.9L551.1 52.8M551.1 52.8L551.7 51.7M551.7 51.7L552.3 50.6M552.3 50.6L552.9 49.6M552.9 49.6L553.5 49.4M553.5 49.4L554.1 49.2M554.1 49.2L554.7 49.8M554.7 49.8L555.2 50.3M555.2 50.3L555.8 51.1M555.8 51.1L556.4 51.8M556.4 51.8L557 52.2M557 52.2L557.6 52.7M557.6 52.7L558.2 52.7M558.2 52.7L558.8 52.8M558.8 52.8L559.4 52.8M559.4 52.8L560 52.8M560 52.8L560.6 52.9M560.6 52.9L561.2 53M561.2 53L561.8 53M561.8 53L562.4 53.1M562.4 53.1L563 53M563 53L563.6 52.8M563.6 52.8L564.1 52.3M564.1 52.3L564.7 51.9M564.7 51.9L565.3 51.4M565.3 51.4L565.9 50.9M565.9 50.9L566.5 50.8M566.5 50.8L567.1 50.7M567.1 50.7L567.7 51M567.7 51L568.3 51.4M568.3 51.4L568.9 52M568.9 52L569.5 52.7M569.5 52.7L570.1 53.1M570.1 53.1L570.7 53.5M570.7 53.5L571.3 53.5M571.3 53.5L571.9 53.5M571.9 53.5L572.4 53.2M572.4 53.2L573 53M573 53L573.6 52.8M573.6 52.8L574.2 52.6M574.2 52.6L574.8 52.6M574.8 52.6L575.4 52.6M575.4 52.6L576 52.7M576 52.7L576.6 52.7M576.6 52.7L577.2 52.5M577.2 52.5L577.8 52.3M577.8 52.3L578.4 52.1M578.4 52.1L579 51.9M579 51.9L579.6 51.8M579.6 51.8L580.2 51.8M580.2 51.8L580.8 52.1M580.8 52.1L581.3 52.4M581.3 52.4L581.9 52.9M581.9 52.9L582.5 53.4M582.5 53.4L583.1 53.6M583.1 53.6L583.7 53.9M583.7 53.9L584.3 53.7M584.3 53.7L584.9 53.5M584.9 53.5L585.5 53M585.5 53L586.1 52.6M586.1 52.6L586.7 52.2M586.7 52.2L587.3 51.8M587.3 51.8L587.9 51.8M587.9 51.8L588.5 51.9M588.5 51.9L589.1 52.2M589.1 52.2L589.7 52.5M589.7 52.5L590.2 52.7M590.2 52.7L590.8 53M590.8 53L591.4 53.1M591.4 53.1L592 53.2M592 53.2L592.6 53.1M592.6 53.1L593.2 53.1M593.2 53.1L593.8 53.2M593.8 53.2L594.4 53.3M594.4 53.3L595 53.5M595 53.5L595.6 53.7M595.6 53.7L596.2 53.7M596.2 53.7L596.8 53.8M596.8 53.8L597.4 53.5M597.4 53.5L598 53.2M598 53.2L598.5 52.7M598.5 52.7L599.1 52.1M599.1 52.1L599.7 51.7M599.7 51.7L600.3 51.3M600.3 51.3L600.9 51.4M600.9 51.4L601.5 51.5M601.5 51.5L602.1 52.2M602.1 52.2L602.7 53M602.7 53L603.7 63.4M603.7 63.4L604.6 79.2M604.6 79.2L605.6 95M605.6 95L606.5 110.8M606.5 110.8L607.5 115.5M607.5 115.5L608.4 120.3M608.4 120.3L609.3 125.1M609.3 125.1L610.3 129.8M610.3 129.8L611.2 133.1M611.2 133.1L612.2 136.4M612.2 136.4L613.1 139.7M613.1 139.7L614.1 143M614.1 143L615 122.2M615 122.2L616 101.3M616 101.3L617 89.9M617 89.9L617.9 78.6M617.9 78.6L618.9 79.9M618.9 79.9L619.8 81.1M619.8 81.1L620.8 82.4M620.8 82.4L621.7 98.2M621.7 98.2L622.7 114M622.7 114L623.6 129.8M623.6 129.8L624.5 143.1M624.5 143.1L625.5 156.3M625.5 156.3L626.4 131.7M626.4 131.7L627.4 107M627.4 107L628.3 82.4M628.3 82.4L629.3 76.7M629.3 76.7L630.2 71M630.2 71L631.2 65.3M631.2 65.3L632.1 66.6M632.1 66.6L633.1 67.8M633.1 67.8L634 69.1M634 69.1L635 67.2M635 67.2L635.9 65.3M635.9 65.3L636.9 63.4M636.9 63.4L638 61.3M638 61.3L639.1 59.3M639.1 59.3L640.2 57.2M640.2 57.2L641.2 55.2M641.2 55.2L642.3 53.1M642.3 53.1L643.4 51.1M643.4 51.1L644.5 49M644.5 49L644.5 47.7M644.5 47.7L645.1 46.7M645.1 46.7L645.7 45.7M645.7 45.7L646.3 44.6M646.3 44.6L646.9 43.5M646.9 43.5L647.5 43.3M647.5 43.3L648 43.1M648 43.1L648.6 44.4M648.6 44.4L649.2 45.7M649.2 45.7L649.8 47.7M649.8 47.7L650.4 49.7M650.4 49.7L651 51.1M651 51.1L651.6 52.4M651.6 52.4L652.2 52.2M652.2 52.2L652.8 52M652.8 52L653.4 50.7M653.4 50.7L653.9 49.4M653.9 49.4L654.5 48.2M654.5 48.2L655.1 47M655.1 47L655.7 46.5M655.7 46.5L656.3 46.1M656.3 46.1L656.9 46.1M656.9 46.1L657.5 46.1M657.5 46.1L658.1 45.9M658.1 45.9L658.7 45.8M658.7 45.8L659.3 45.4M659.3 45.4L659.8 45M659.8 45L660.4 44.9M660.4 44.9L661 44.9M661 44.9L661.6 45.9M661.6 45.9L662.2 46.8M662.2 46.8L662.8 48.3M662.8 48.3L663.4 49.9M663.4 49.9L664 50.9M664 50.9L664.6 52M664.6 52L665.2 51.7M665.2 51.7L665.7 51.4M665.7 51.4L666.3 49.9M666.3 49.9L666.9 48.4M666.9 48.4L667.5 47M667.5 47L668.1 45.6M668.1 45.6L668.7 45.3M668.7 45.3L669.3 45M669.3 45L669.9 45.8M669.9 45.8L670.5 46.6M670.5 46.6L671.1 47.6M671.1 47.6L671.6 48.6M671.6 48.6L672.2 49M672.2 49L672.8 49.4M672.8 49.4L673.4 49.2M673.4 49.2L674 49M674 49L674.6 48.9M674.6 48.9L675.2 48.8M675.2 48.8L675.8 49.1M675.8 49.1L676.4 49.5M676.4 49.5L677 49.9M677 49.9L677.5 50.2M677.5 50.2L678.1 49.9M678.1 49.9L678.7 49.5M678.7 49.5L679.3 48.4M679.3 48.4L679.9 47.3M679.9 47.3L680.5 46.3M680.5 46.3L681.1 45.3M681.1 45.3L681.7 45.4M681.7 45.4L682.3 45.5M682.3 45.5L682.9 46.9M682.9 46.9L683.4 48.3M683.4 48.3L684 49.9M684 49.9L684.6 51.4M684.6 51.4L685.2 52.1M685.2 52.1L685.8 52.7M685.8 52.7L686.4 52.2M686.4 52.2L687 51.7M687 51.7L687.6 50.9M687.6 50.9L688.2 50M688.2 50L688.8 49.4M688.8 49.4L689.3 48.9M689.3 48.9L689.9 48.8M689.9 48.8L690.5 48.7M690.5 48.7L691.1 48.7M691.1 48.7L691.7 48.7M691.7 48.7L692.3 48.6M692.3 48.6L692.9 48.5M692.9 48.5L693.5 48.4M693.5 48.4L694.1 48.3M694.1 48.3L694.7 48.5M694.7 48.5L695.2 48.7M695.2 48.7L695.8 49.3M695.8 49.3L696.4 49.9M696.4 49.9L697 50.7M697 50.7L697.6 51.5M697.6 51.5L698.2 52M698.2 52L698.8 52.4M698.8 52.4L699.4 52.1M699.4 52.1L700 51.8M700 51.8L700.6 51.1M700.6 51.1L701.1 50.4M701.1 50.4L701.7 49.7M701.7 49.7L702.3 49.1M702.3 49.1L702.9 49M702.9 49L703.5 48.9M703.5 48.9L704.1 49.2M704.1 49.2L704.7 49.5M704.7 49.5L705.3 49.8M705.3 49.8L705.9 50.1M705.9 50.1L706.5 50.2M706.5 50.2L707 50.3M707 50.3L707.6 50.4M707.6 50.4L708.2 50.5M708.2 50.5L708.8 50.8M708.8 50.8L709.4 51.1M709.4 51.1L710 51.6M710 51.6L710.6 52.1M710.6 52.1L711.2 52.4M711.2 52.4L711.8 52.7M711.8 52.7L712.4 52.5M712.4 52.5L712.9 52.3M712.9 52.3L713.5 51.6M713.5 51.6L714.1 51M714.1 51L714.7 50.4M714.7 50.4L715.3 49.9M715.3 49.9L715.9 50M715.9 50L716.5 50.1M716.5 50.1L717.1 50.7M717.1 50.7L717.7 51.4M717.7 51.4L718.3 52.1M718.3 52.1L718.8 52.8M718.8 52.8L719.4 53.1M719.4 53.1L720 53.4M720 53.4L720.6 53.2M720.6 53.2L721.2 52.9M721.2 52.9L721.8 52.6M721.8 52.6L722.4 52.3M722.4 52.3L723 52.3M723 52.3L723.6 52.2M723.6 52.2L724.2 52.3M724.2 52.3L724.7 52.4M724.7 52.4L725.3 52.4M725.3 52.4L725.9 52.4M725.9 52.4L726.5 52.1M726.5 52.1L727.1 51.9M727.1 51.9L727.7 51.7M727.7 51.7L728.3 51.5M728.3 51.5L728.9 51.8M728.9 51.8L729.5 52M729.5 52L730.1 52.8M730.1 52.8L730.7 53.6M730.7 53.6L731.2 54.5M731.2 54.5L731.8 55.3M731.8 55.3L732.4 55.6M732.4 55.6L733 55.9M733 55.9L733.6 55.4M733.6 55.4L734.2 55M734.2 55L734.8 54.2M734.8 54.2L735.4 53.4M735.4 53.4L736 52.9M736 52.9L736.6 52.4M736.6 52.4L737.1 52.4M737.1 52.4L737.7 52.4M737.7 52.4L738.3 52.6M738.3 52.6L738.9 52.9M738.9 52.9L739.5 53M739.5 53L740.1 53.2M740.1 53.2L740.7 53.2M740.7 53.2L741.3 53.3M741.3 53.3L741.9 53.4M741.9 53.4L742.5 53.6M742.5 53.6L743 54.1M743 54.1L743.6 54.5M743.6 54.5L744.2 55.1M744.2 55.1L744.8 55.6M744.8 55.6L745.4 55.8M745.4 55.8L746 55.9M746 55.9L746.6 55.3M746.6 55.3L747.2 54.8M747.2 54.8L747.8 53.8M747.8 53.8L748.4 52.9M748.4 52.9L748.9 52.2M748.9 52.2L749.5 51.5M749.5 51.5L750.1 51.5M750.1 51.5L750.7 51.5M750.7 51.5L751.3 52.1M751.3 52.1L751.9 52.6M751.9 52.6L752.5 53.1M752.5 53.1L753.1 53.7M753.1 53.7L753.7 53.8M753.7 53.8L754.3 54M754.3 54L754.8 53.8M754.8 53.8L755.4 53.7M755.4 53.7L756 53.6M756 53.6L756.6 53.5M756.6 53.5L757.2 53.7M757.2 53.7L757.8 53.8M757.8 53.8L758.4 53.9M758.4 53.9L759 53.9M759 53.9L759.6 53.6M759.6 53.6L760.2 53.4M760.2 53.4L760.7 52.8M760.7 52.8L761.3 52.2M761.3 52.2L761.9 51.8M761.9 51.8L762.5 51.4M762.5 51.4L763.1 51.5M763.1 51.5L763.7 51.7M763.7 51.7L764.3 52.4M764.3 52.4L764.9 53.1M764.9 53.1L765.5 53.7M765.5 53.7L766.1 54.4M766.1 54.4L766.6 54.5M766.6 54.5L767.2 54.6M767.2 54.6L767.8 54M767.8 54L768.4 53.5M768.4 53.5L769 52.8M769 52.8L769.6 52.1M769.6 52.1L770.2 51.8M770.2 51.8L770.8 51.4M770.8 51.4L771.4 51.5M771.4 51.5L772 51.7M772 51.7L772.5 51.9M772.5 51.9L773.1 52.1M773.1 52.1L773.7 52.1M773.7 52.1L774.3 52.1M774.3 52.1L774.9 52.1M774.9 52.1L775.5 52.1M775.5 52.1L776.1 52.4M776.1 52.4L776.7 52.7M776.7 52.7L777.3 53.3M777.3 53.3L777.9 54M777.9 54L778.4 54.5M778.4 54.5L779 55.1M779 55.1L779.6 55.1M779.6 55.1L780.2 55.1M780.2 55.1L780.8 54.4M780.8 54.4L781.4 53.7M781.4 53.7L782 52.7M782 52.7L782.6 51.7M782.6 51.7L783.2 51.2M783.2 51.2L783.8 50.8M783.8 50.8L784.3 51.2M784.3 51.2L784.9 51.5M784.9 51.5L785.5 52.4M785.5 52.4L786.1 53.2M786.1 53.2L786.7 53.9M786.7 53.9L787.3 54.6M787.3 54.6L787.9 55M787.9 55L788.5 55.4M788.5 55.4L789.1 55.6M789.1 55.6L789.7 55.9M789.7 55.9L790.2 56.3M790.2 56.3L790.8 56.7M790.8 56.7L791.4 57.1M791.4 57.1L792 57.6M792 57.6L792.6 57.3M792.6 57.3L793.2 57.1M793.2 57.1L793.8 56.3M793.8 56.3L794.4 55.4M794.4 55.4L795 54.4M795 54.4L795.6 53.3M795.6 53.3L796.1 52.5M796.1 52.5L796.7 51.8M796.7 51.8L797.3 51.9M797.3 51.9L797.9 51.9M797.9 51.9L798.5 52.5M798.5 52.5L799.1 53.2M799.1 53.2L799.7 53.7M799.7 53.7L800.3 54.2M800.3 54.2L800.9 54.3M800.9 54.3L801.5 54.3M801.5 54.3L802 53.9M802 53.9L802.6 53.4M802.6 53.4L803.2 52.9M803.2 52.9L803.8 52.5M803.8 52.5L804.4 52.3M804.4 52.3L805 52.2M805 52.2L805.6 52.2M805.6 52.2L806.2 52.3M806.2 52.3L806.8 52.1M806.8 52.1L807.4 52M807.4 52L807.9 51.6M807.9 51.6L808.5 51.2M808.5 51.2L809.1 51M809.1 51L809.7 50.7M809.7 50.7L810.3 52.4M810.3 52.4L810.9 54M810.9 54L811.8 63.5M811.8 63.5L812.8 73M812.8 73L813.8 105.2M813.8 105.2L814.7 137.4M814.7 137.4L815.7 141.2M815.7 141.2L816.6 145M816.6 145L817.5 148.8M817.5 148.8L818.5 152.6M818.5 152.6L819.5 145M819.5 145L820.4 137.4M820.4 137.4L821.6 137.9M821.6 137.9L822.8 138.4M822.8 138.4L823.9 138.8M823.9 138.8L825.1 139.3M825.1 139.3L826 88.1M826 88.1L827 86.2M827 86.2L827.9 84.3M827.9 84.3L828.9 82.4M828.9 82.4L829.8 80.5M829.8 80.5L830.8 78.6M830.8 78.6L831.8 104.2M831.8 104.2L832.7 129.8M832.7 129.8L833.7 158.3M833.7 158.3L834.6 186.8M834.6 186.8L835.5 139.4M835.5 139.4L836.5 91.9M836.5 91.9L837.7 86.7M837.7 86.7L838.9 81.5M838.9 81.5L840 76.2M840 76.2L841.2 71M841.2 71L842.2 72.4M842.2 72.4L843.1 73.8M843.1 73.8L844 75.3M844 75.3L845 76.7M845 76.7L846 74.8M846 74.8L846.9 72.9M846.9 72.9L847.8 71M847.8 71L848.8 69.1M848.8 69.1L849.5 68" fill="none" stroke="#cd4d1b" stroke-width="3.4" stroke-dasharray="4.6 2.6"/><polyline points="142.5,283.5 143.1,283.5 143.7,283.5 144.3,283.5 144.9,283.5 145.5,283.2 146.1,283 146.7,282.7 147.2,282.3 147.8,282.5 148.4,282.6 149,283.2 149.6,283.9 150.2,284.4 150.8,284.9 151.4,284.8 152,284.8 152.6,284.2 153.2,283.6 153.8,283.3 154.4,282.9 155,283 155.5,283 156.1,283.2 156.7,283.4 157.3,283.2 157.9,283.1 158.5,282.9 159.1,282.7 159.7,283 160.3,283.4 160.9,284.1 161.5,284.9 162.1,285.4 162.7,286 163.3,285.6 163.8,285.3 164.4,284.5 165,283.6 165.6,283 166.2,282.4 166.8,282.4 167.4,282.4 168,282.5 168.6,282.6 169.2,282.4 169.8,282.2 170.4,282 171,281.9 171.6,282.5 172.1,283.2 172.7,284.5 173.3,285.9 173.9,286.7 174.5,287.6 175.1,287.1 175.7,286.6 176.3,285.4 176.9,284.1 177.5,283.3 178.1,282.6 178.7,282.6 179.3,282.7 179.9,282.8 180.4,282.8 181,282.4 181.6,282 182.2,281.7 182.8,281.4 183.4,282.2 184,283 184.6,284.4 185.2,285.9 185.8,286.6 186.4,287.2 187,286.4 187.6,285.6 188.2,284.3 188.7,283 189.3,282.5 189.9,282 190.5,282.5 191.1,282.9 191.7,283.3 192.3,283.7 192.9,283.5 193.5,283.3 194.1,283.2 194.7,283.1 195.3,283.9 195.9,284.7 196.5,285.8 197,287 197.6,287.2 198.2,287.4 198.8,286.2 199.4,284.9 200,283.4 200.6,281.8 201.2,281.3 201.8,280.8 202.4,281.4 203,282 203.6,282.5 204.2,283 204.8,283 205.4,283.1 205.9,283.3 206.5,283.5 207.1,284.6 207.7,285.7 208.3,287 208.9,288.3 209.5,288.5 210.1,288.6 210.7,287.2 211.3,285.8 211.9,284.3 212.5,282.7 213.1,282.3 213.7,281.8 214.2,282.3 214.8,282.8 215.4,283.1 216,283.4 216.6,283.3 217.2,283.2 217.8,283.4 218.4,283.5 219,284.4 219.6,285.3 220.2,286.2 220.8,287.1 221.4,287.1 222,287.1 222.5,286.1 223.1,285.2 223.7,284.4 224.3,283.5 224.9,283.5 225.5,283.5 226.1,284 226.7,284.5 227.3,284.8 227.9,285 228.5,284.9 229.1,284.8 229.7,284.8 230.3,284.9 230.8,285.3 231.4,285.8 232,286.2 232.6,286.7 233.2,286.5 233.8,286.2 234.4,285.4 235,284.6 235.6,283.9 236.2,283.3 236.8,283.4 237.4,283.6 238,284.1 238.6,284.7 239.1,285.1 239.7,285.5 240.3,285.5 240.9,285.5 241.5,285.7 242.1,285.9 242.7,286.4 243.3,286.9 243.9,287.2 244.5,287.6 245.1,287.2 245.7,286.8 246.3,285.9 246.9,285 247.4,284.3 248,283.7 248.6,283.8 249.2,283.9 249.8,284.4 250.4,284.9 251,285.2 251.6,285.5 252.2,285.5 252.8,285.5 253.4,285.7 254,285.9 254.6,286.5 255.2,287 255.7,287.4 256.3,287.7 256.9,287.4 257.5,287.1 258.1,286.3 258.7,285.5 259.3,285.5 259.9,285.5 261,300.5 262,313.8 263,327.2 264,340.5 264.8,350.8 265.7,361.2 266.5,371.5 267.5,390.5 268.5,383 269.5,375.5 270.3,368.8 271.2,362.2 272,355.5 273.1,346.5 274.1,337.5 275.1,335.2 276,333 277,330.7 277.9,328.5 278.9,326.2 280,350.5 280.6,370.5 281.2,390.5 282.2,401 282.9,380.8 283.5,360.5 284.5,331.9 285.5,303.4 286.7,302.1 287.8,300.8 289,299.5 290,308.4 291.1,317.3 292.1,326.2 293.1,319.3 294,312.4 295,305.5 296,302.2 297,299 298,295.8 299,292.5 300,291.5 301,290.5 302,289.5 303,288.5 304,287.5 305,286.5 305,286.2 305.6,284.8 306.2,283.3 306.8,283.3 307.4,283.3 308,284.5 308.5,285.7 309.1,286.7 309.7,287.7 310.3,287.6 310.9,287.5 311.5,286.8 312.1,286.2 312.7,285.9 313.3,285.6 313.9,285.6 314.5,285.7 315.1,285 315.6,284.4 316.2,282.9 316.8,281.5 317.4,280.2 318,279 318.6,279.2 319.2,279.4 319.8,280.6 320.4,281.9 321,282.9 321.6,283.9 322.2,284 322.7,284.1 323.3,283.8 323.9,283.5 324.5,283.4 325.1,283.4 325.7,283.4 326.3,283.5 326.9,283.1 327.5,282.8 328.1,282 328.7,281.2 329.3,280.7 329.8,280.2 330.4,280.4 331,280.5 331.6,281 332.2,281.6 332.8,281.9 333.4,282.2 334,282.2 334.6,282.1 335.2,281.9 335.8,281.7 336.4,281.7 336.9,281.7 337.5,281.8 338.1,281.9 338.7,281.8 339.3,281.6 339.9,281.2 340.5,280.8 341.1,280.5 341.7,280.2 342.3,280.3 342.9,280.5 343.4,281 344,281.4 344.6,281.7 345.2,281.9 345.8,281.7 346.4,281.6 347,281.3 347.6,281 348.2,280.9 348.8,280.8 349.4,280.8 350,280.8 350.5,280.6 351.1,280.4 351.7,280 352.3,279.6 352.9,279.4 353.5,279.2 354.1,279.5 354.7,279.8 355.3,280.3 355.9,280.8 356.5,281.1 357.1,281.4 357.6,281.3 358.2,281.1 358.8,280.8 359.4,280.6 360,280.5 360.6,280.4 361.2,280.3 361.8,280.3 362.4,280 363,279.7 363.6,279.3 364.2,278.9 364.7,278.7 365.3,278.5 365.9,278.7 366.5,279 367.1,279.4 367.7,279.9 368.3,280.1 368.9,280.4 369.5,280.2 370.1,280.1 370.7,279.8 371.3,279.6 371.8,279.6 372.4,279.5 373,279.5 373.6,279.6 374.2,279.4 374.8,279.2 375.4,278.8 376,278.5 376.6,278.4 377.2,278.2 377.8,278.5 378.3,278.8 378.9,279.3 379.5,279.7 380.1,279.9 380.7,280.1 381.3,279.9 381.9,279.7 382.5,279.5 383.1,279.3 383.7,279.3 384.3,279.3 384.9,279.4 385.4,279.5 386,279.4 386.6,279.3 387.2,279 387.8,278.8 388.4,278.8 389,278.8 389.6,279.5 390.2,280.1 390.8,281.1 391.4,282 392,282.4 392.5,282.7 393.1,282.3 393.7,281.9 394.3,281.2 394.9,280.6 395.5,280.4 396.1,280.2 396.7,280.2 397.3,280.1 397.9,279.7 398.5,279.2 399.1,278.6 399.6,278 400.2,278.1 400.8,278.3 401.4,279.5 402,280.8 402.6,282.2 403.2,283.6 403.8,283.9 404.4,284.3 405,283.7 405.6,283 406.2,282.4 406.7,281.7 407.3,281.7 407.9,281.6 408.5,281.8 409.1,281.9 409.7,281.5 410.3,281.1 410.9,280.5 411.5,279.8 412.1,280 412.7,280.1 413.2,281.2 413.8,282.3 414.4,283.5 415,284.6 415.6,284.6 416.2,284.7 416.8,283.8 417.4,282.9 418,282.2 418.6,281.5 419.2,281.6 419.8,281.6 420.3,282 420.9,282.3 421.5,282.1 422.1,282 422.7,281.7 423.3,281.4 423.9,281.8 424.5,282.2 425.1,283.5 425.7,284.8 426.3,285.8 426.9,286.9 427.4,286.7 428,286.4 428.6,285.2 429.2,284.1 429.8,283.1 430.4,282.2 431,282.1 431.6,282.1 432.2,282.2 432.8,282.4 433.4,282.2 434,282 434.5,281.8 435.1,281.6 435.7,282.2 436.3,282.9 436.9,284.3 437.5,285.8 438.1,286.9 438.7,288.1 439.3,287.8 439.9,287.6 440.5,286.5 441.1,285.3 441.6,284.4 442.2,283.5 442.8,283.4 443.4,283.3 444,283.4 444.6,283.5 445.6,296.3 446.5,309.1 447.7,322.9 448.8,336.7 450,350.5 451,370.5 452,390.5 453.1,419 454.1,447.5 455.1,424 456,400.5 456.9,359.5 457.9,318.5 459,316.2 460.2,314 461.3,311.7 462.5,309.5 463.6,307.2 464.6,324.2 465.5,341.3 466.4,341.9 467.4,342.6 468.3,343.2 469.2,321.4 470.2,299.6 471.2,297.8 472.1,296 473.1,294.1 474,292.3 475,290.5 475.9,296.9 476.9,303.4 477.8,298.7 478.8,293.9 479.7,289.2 480.6,284.5 481.8,283.9 483,283.2 484.1,282.6 485.3,282 486.5,281.4 487.6,280.8 488.8,280.1 490,279.5 490,278.3 490.6,278.7 491.2,279.1 491.8,279.2 492.4,279.4 493,279.1 493.6,278.8 494.2,278.8 494.7,278.8 495.3,279.3 495.9,279.9 496.5,280.3 497.1,280.8 497.7,280.4 498.3,280.1 498.9,278.9 499.5,277.8 500.1,277 500.7,276.2 501.3,276.4 501.9,276.6 502.5,277.4 503,278.2 503.6,278.7 504.2,279.2 504.8,279.3 505.4,279.4 506,279.8 506.6,280.2 507.2,281.2 507.8,282.1 508.4,282.8 509,283.4 509.6,282.7 510.2,282.1 510.8,280.5 511.4,278.9 511.9,277.8 512.5,276.8 513.1,277 513.7,277.3 514.3,278.1 514.9,279 515.5,279.4 516.1,279.8 516.7,279.8 517.3,279.9 517.9,280.3 518.5,280.8 519.1,281.9 519.7,282.9 520.3,283.5 520.8,284.2 521.4,283.5 522,282.9 522.6,281.5 523.2,280.1 523.8,279.4 524.4,278.8 525,279.3 525.6,279.8 526.2,280.6 526.8,281.5 527.4,281.7 528,281.9 528.6,281.7 529.1,281.5 529.7,281.7 530.3,281.9 530.9,282.6 531.5,283.2 532.1,283.5 532.7,283.7 533.3,282.8 533.9,282 534.5,280.7 535.1,279.4 535.7,279 536.3,278.6 536.9,279.5 537.5,280.3 538,281.3 538.6,282.4 539.2,282.8 539.8,283.1 540.4,283 541,283 541.6,283.2 542.2,283.4 542.8,283.9 543.4,284.5 544,284.4 544.6,284.3 545.2,283.2 545.8,282.1 546.4,280.7 546.9,279.3 547.5,279 548.1,278.6 548.7,279.4 549.3,280.2 549.9,281.2 550.5,282.2 551.1,282.5 551.7,282.8 552.3,282.8 552.9,282.8 553.5,283.1 554.1,283.4 554.7,283.9 555.2,284.3 555.8,284.3 556.4,284.2 557,283.4 557.6,282.7 558.2,281.9 558.8,281.2 559.4,281.2 560,281.1 560.6,281.6 561.2,282.1 561.8,282.5 562.4,282.9 563,282.9 563.6,283 564.1,282.9 564.7,282.8 565.3,282.9 565.9,283 566.5,283.2 567.1,283.5 567.7,283.4 568.3,283.4 568.9,282.9 569.5,282.5 570.1,282.1 570.7,281.7 571.3,281.8 571.9,281.9 572.4,282.4 573,283 573.6,283.4 574.2,283.8 574.8,283.9 575.4,283.9 576,283.7 576.6,283.6 577.2,283.6 577.8,283.6 578.4,283.7 579,283.8 579.6,283.6 580.2,283.4 580.8,282.9 581.3,282.3 581.9,281.9 582.5,281.5 583.1,281.7 583.7,281.8 584.3,282.4 584.9,283 585.5,283.5 586.1,283.9 586.7,284 587.3,284.1 587.9,284 588.5,283.9 589.1,284 589.7,284.1 590.2,284.2 590.8,284.3 591.4,284.1 592,283.8 592.6,283.3 593.2,282.7 593.8,282.3 594.4,281.9 595,282.1 595.6,282.3 596.2,282.8 596.8,283.3 597.4,283.7 598,284 598.5,283.9 599.1,283.9 599.7,283.8 600.3,283.6 600.9,283.7 601.5,283.8 602.1,283.7 602.7,283.5 603.7,293.9 604.6,309.7 605.6,325.5 606.5,341.3 607.5,346.1 608.4,350.8 609.3,355.6 610.3,360.3 611.2,363.6 612.2,366.9 613.1,370.2 614.1,373.5 615,352.6 616,331.8 617,320.5 617.9,309.1 618.9,310.4 619.8,311.6 620.8,312.9 621.7,328.7 622.7,344.5 623.6,360.3 624.5,373.6 625.5,386.8 626.4,362.2 627.4,337.5 628.3,312.9 629.3,307.2 630.2,301.5 631.2,295.8 632.1,297.1 633.1,298.3 634,299.6 635,297.7 635.9,295.8 636.9,293.9 638,291.8 639.1,289.8 640.2,287.7 641.2,285.7 642.3,283.6 643.4,281.6 644.5,279.5 644.5,281.1 645.1,280.9 645.7,280.6 646.3,279.6 646.9,278.5 647.5,277.9 648,277.2 648.6,277.3 649.2,277.4 649.8,277.3 650.4,277.2 651,276.3 651.6,275.4 652.2,274.8 652.8,274.1 653.4,275 653.9,275.8 654.5,277.9 655.1,279.9 655.7,281.3 656.3,282.8 656.9,282.5 657.5,282.2 658.1,280.9 658.7,279.6 659.3,278.8 659.8,277.9 660.4,277.8 661,277.8 661.6,277.4 662.2,277.1 662.8,276.1 663.4,275.1 664,274.4 664.6,273.7 665.2,274.6 665.7,275.5 666.3,277.5 666.9,279.5 667.5,280.9 668.1,282.4 668.7,282.2 669.3,281.9 669.9,280.9 670.5,279.8 671.1,279.3 671.6,278.8 672.2,279 672.8,279.2 673.4,279 674,278.9 674.6,278 675.2,277.1 675.8,276.5 676.4,275.9 677,276.7 677.5,277.5 678.1,279.2 678.7,280.9 679.3,281.8 679.9,282.8 680.5,282.2 681.1,281.5 681.7,280.2 682.3,279 682.9,278.5 683.4,278 684,278.3 684.6,278.7 685.2,278.8 685.8,279 686.4,278.6 687,278.3 687.6,278.2 688.2,278.2 688.8,279 689.3,279.8 689.9,280.9 690.5,282 691.1,282.4 691.7,282.8 692.3,282.2 692.9,281.6 693.5,280.9 694.1,280.1 694.7,279.8 695.2,279.4 695.8,279.5 696.4,279.6 697,279.6 697.6,279.6 698.2,279.4 698.8,279.1 699.4,279.1 700,279.1 700.6,279.7 701.1,280.3 701.7,281.2 702.3,282.2 702.9,282.6 703.5,283.1 704.1,282.7 704.7,282.4 705.3,281.7 705.9,281.1 706.5,280.9 707,280.6 707.6,280.8 708.2,280.9 708.8,280.9 709.4,280.9 710,280.7 710.6,280.4 711.2,280.4 711.8,280.3 712.4,280.9 712.9,281.4 713.5,282.3 714.1,283.1 714.7,283.4 715.3,283.8 715.9,283.3 716.5,282.9 717.1,282.3 717.7,281.6 718.3,281.5 718.8,281.4 719.4,281.7 720,282 720.6,282.2 721.2,282.4 721.8,282.3 722.4,282.2 723,282.3 723.6,282.4 724.2,283 724.7,283.6 725.3,284.3 725.9,285.1 726.5,285.2 727.1,285.4 727.7,284.7 728.3,284 728.9,283.2 729.5,282.5 730.1,282.2 730.7,282 731.2,282.3 731.8,282.6 732.4,282.9 733,283.1 733.6,283.1 734.2,283.1 734.8,283.3 735.4,283.5 736,284.3 736.6,285 737.1,285.9 737.7,286.7 738.3,286.8 738.9,286.9 739.5,286.1 740.1,285.4 740.7,284.5 741.3,283.7 741.9,283.4 742.5,283.1 743,283.2 743.6,283.4 744.2,283.5 744.8,283.5 745.4,283.3 746,283.1 746.6,283.2 747.2,283.2 747.8,283.8 748.4,284.3 748.9,285 749.5,285.7 750.1,285.7 750.7,285.7 751.3,285 751.9,284.3 752.5,283.6 753.1,282.8 753.7,282.7 754.3,282.7 754.8,283 755.4,283.4 756,283.6 756.6,283.8 757.2,283.6 757.8,283.5 758.4,283.5 759,283.5 759.6,283.9 760.2,284.4 760.7,284.8 761.3,285.3 761.9,285.1 762.5,284.9 763.1,284 763.7,283.1 764.3,282.3 764.9,281.5 765.5,281.4 766.1,281.4 766.6,281.9 767.2,282.4 767.8,282.7 768.4,283 769,283 769.6,283 770.2,283.2 770.8,283.4 771.4,284 772,284.6 772.5,285.1 773.1,285.6 773.7,285.4 774.3,285.1 774.9,284.2 775.5,283.2 776.1,282.4 776.7,281.5 777.3,281.5 777.9,281.4 778.4,281.9 779,282.3 779.6,282.6 780.2,282.9 780.8,282.9 781.4,282.9 782,283.1 782.6,283.2 783.2,284 783.8,284.7 784.3,285.5 784.9,286.2 785.5,286.2 786.1,286.2 786.7,285.5 787.3,284.8 787.9,284.3 788.5,283.8 789.1,284.1 789.7,284.4 790.2,285.1 790.8,285.9 791.4,286.3 792,286.8 792.6,286.4 793.2,286.1 793.8,285.9 794.4,285.6 795,285.9 795.6,286.1 796.1,286.2 796.7,286.3 797.3,285.7 797.9,285 798.5,283.9 799.1,282.7 799.7,281.9 800.3,281.1 800.9,281.3 801.5,281.6 802,282.3 802.6,283 803.2,283.4 803.8,283.8 804.4,283.7 805,283.6 805.6,283.6 806.2,283.6 806.8,284 807.4,284.3 807.9,284.5 808.5,284.6 809.1,284 809.7,283.3 810.3,283.9 810.9,284.5 811.8,294 812.8,303.5 813.8,335.7 814.7,367.9 815.7,371.7 816.6,375.5 817.5,379.3 818.5,383.1 819.5,375.5 820.4,367.9 821.6,368.4 822.8,368.9 823.9,369.3 825.1,369.8 826,318.6 827,316.7 827.9,314.8 828.9,312.9 829.8,311 830.8,309.1 831.8,334.7 832.7,360.3 833.7,388.8 834.6,417.3 835.5,369.9 836.5,322.4 837.7,317.2 838.9,311.9 840,306.7 841.2,301.5 842.2,302.9 843.1,304.4 844,305.8 845,307.2 846,305.3 846.9,303.4 847.8,301.5 848.8,299.6 849.5,298.5" fill="none" stroke="#e3a335" stroke-width="3.4" stroke-linejoin="round"/><path d="M142.5 283.2L143.1 283.1M143.1 283.1L143.7 283.1M143.7 283.1L144.3 283.2M144.3 283.2L144.9 283.4M144.9 283.4L145.5 283.9M145.5 283.9L146 284.3M146 284.3L146.6 284.7M146.6 284.7L147.2 285.1M147.2 285.1L147.8 284.9M147.8 284.9L148.4 284.6M148.4 284.6L149 284M149 284L149.6 283.3M149.6 283.3L150.2 282.8M150.2 282.8L150.8 282.4M150.8 282.4L151.4 282.5M151.4 282.5L152 282.7M152 282.7L152.6 283.1M152.6 283.1L153.1 283.5M153.1 283.5L153.7 283.7M153.7 283.7L154.3 283.8M154.3 283.8L154.9 283.7M154.9 283.7L155.5 283.6M155.5 283.6L156.1 283.7M156.1 283.7L156.7 283.8M156.7 283.8L157.3 284.2M157.3 284.2L157.9 284.5M157.9 284.5L158.5 284.8M158.5 284.8L159.1 285M159.1 285L159.7 284.5M159.7 284.5L160.2 284.1M160.2 284.1L160.8 283.3M160.8 283.3L161.4 282.4M161.4 282.4L162 282M162 282L162.6 281.6M162.6 281.6L163.2 281.9M163.2 281.9L163.8 282.3M163.8 282.3L164.4 283M164.4 283L165 283.6M165 283.6L165.6 284M165.6 284L166.2 284.3M166.2 284.3L166.8 284.3M166.8 284.3L167.3 284.3M167.3 284.3L167.9 284.6M167.9 284.6L168.5 284.8M168.5 284.8L169.1 285.3M169.1 285.3L169.7 285.9M169.7 285.9L170.3 286M170.3 286L170.9 286.2M170.9 286.2L171.5 285.4M171.5 285.4L172.1 284.6M172.1 284.6L172.7 283.1M172.7 283.1L173.3 281.7M173.3 281.7L173.9 281M173.9 281L174.4 280.2M174.4 280.2L175 280.7M175 280.7L175.6 281.2M175.6 281.2L176.2 282.2M176.2 282.2L176.8 283.1M176.8 283.1L177.4 283.6M177.4 283.6L178 284M178 284L178.6 284M178.6 284L179.2 284M179.2 284L179.8 284.4M179.8 284.4L180.4 284.8M180.4 284.8L181 285.7M181 285.7L181.5 286.5M181.5 286.5L182.1 286.8M182.1 286.8L182.7 287.1M182.7 287.1L183.3 286.1M183.3 286.1L183.9 285M183.9 285L184.5 283.5M184.5 283.5L185.1 281.9M185.1 281.9L185.7 281.3M185.7 281.3L186.3 280.7M186.3 280.7L186.9 281.5M186.9 281.5L187.5 282.3M187.5 282.3L188.1 283.3M188.1 283.3L188.6 284.4M188.6 284.4L189.2 284.6M189.2 284.6L189.8 284.8M189.8 284.8L190.4 284.5M190.4 284.5L191 284.2M191 284.2L191.6 284.3M191.6 284.3L192.2 284.4M192.2 284.4L192.8 285M192.8 285L193.4 285.6M193.4 285.6L194 285.6M194 285.6L194.6 285.7M194.6 285.7L195.2 284.6M195.2 284.6L195.7 283.5M195.7 283.5L196.3 282.1M196.3 282.1L196.9 280.8M196.9 280.8L197.5 280.7M197.5 280.7L198.1 280.5M198.1 280.5L198.7 281.7M198.7 281.7L199.3 282.9M199.3 282.9L199.9 284.2M199.9 284.2L200.5 285.5M200.5 285.5L201.1 285.9M201.1 285.9L201.7 286.2M201.7 286.2L202.2 286M202.2 286L202.8 285.7M202.8 285.7L203.4 285.7M203.4 285.7L204 285.7M204 285.7L204.6 286.1M204.6 286.1L205.2 286.5M205.2 286.5L205.8 286.2M205.8 286.2L206.4 285.9M206.4 285.9L207 284.5M207 284.5L207.6 283.1M207.6 283.1L208.2 281.6M208.2 281.6L208.8 280.2M208.8 280.2L209.3 280.1M209.3 280.1L209.9 280M209.9 280L210.5 281.3M210.5 281.3L211.1 282.6M211.1 282.6L211.7 283.9M211.7 283.9L212.3 285.3M212.3 285.3L212.9 285.6M212.9 285.6L213.5 286M213.5 286L214.1 285.8M214.1 285.8L214.7 285.7M214.7 285.7L215.3 285.9M215.3 285.9L215.9 286.1M215.9 286.1L216.4 286.5M216.4 286.5L217 286.9M217 286.9L217.6 286.7M217.6 286.7L218.2 286.4M218.2 286.4L218.8 285.3M218.8 285.3L219.4 284.2M219.4 284.2L220 283.2M220 283.2L220.6 282.2M220.6 282.2L221.2 282.3M221.2 282.3L221.8 282.3M221.8 282.3L222.4 283.2M222.4 283.2L223 284.1M223 284.1L223.5 284.9M223.5 284.9L224.1 285.6M224.1 285.6L224.7 285.6M224.7 285.6L225.3 285.6M225.3 285.6L225.9 285.4M225.9 285.4L226.5 285.1M226.5 285.1L227.1 285.2M227.1 285.2L227.7 285.2M227.7 285.2L228.3 285.5M228.3 285.5L228.9 285.7M228.9 285.7L229.5 285.6M229.5 285.6L230.1 285.5M230.1 285.5L230.6 284.9M230.6 284.9L231.2 284.3M231.2 284.3L231.8 283.8M231.8 283.8L232.4 283.3M232.4 283.3L233 283.5M233 283.5L233.6 283.8M233.6 283.8L234.2 284.6M234.2 284.6L234.8 285.5M234.8 285.5L235.4 286.1M235.4 286.1L236 286.7M236 286.7L236.6 286.7M236.6 286.7L237.2 286.6M237.2 286.6L237.7 286.3M237.7 286.3L238.3 285.9M238.3 285.9L238.9 285.8M238.9 285.8L239.5 285.8M239.5 285.8L240.1 285.8M240.1 285.8L240.7 285.9M240.7 285.9L241.3 285.6M241.3 285.6L241.9 285.3M241.9 285.3L242.5 284.6M242.5 284.6L243.1 284M243.1 284L243.7 283.5M243.7 283.5L244.3 283.1M244.3 283.1L244.8 283.5M244.8 283.5L245.4 283.9M245.4 283.9L246 284.8M246 284.8L246.6 285.7M246.6 285.7L247.2 286.3M247.2 286.3L247.8 287M247.8 287L248.4 287M248.4 287L249 287M249 287L249.6 286.8M249.6 286.8L250.2 286.5M250.2 286.5L250.8 286.5M250.8 286.5L251.4 286.5M251.4 286.5L251.9 286.6M251.9 286.6L252.5 286.7M252.5 286.7L253.1 286.4M253.1 286.4L253.7 286.1M253.7 286.1L254.3 285.4M254.3 285.4L254.9 284.7M254.9 284.7L255.5 284.3M255.5 284.3L256.1 283.9M256.1 283.9L256.7 284.2M256.7 284.2L257.3 284.5M257.3 284.5L257.9 285.3M257.9 285.3L258.5 286.1M258.5 286.1L259 286.6M259 286.6L259.6 287.1M259.6 287.1L260.2 287M260.2 287L260.8 286.9M260.8 286.9L261.4 286.4M261.4 286.4L262 286M262 286L263 285.5M263 285.5L264 285M264 285L265 284.5M265 284.5L265.8 282.9M265.8 282.9L266.7 281.3M266.7 281.3L267.5 279.7M267.5 279.7L268.4 299.5M268.4 299.5L269.4 308.6M269.4 308.6L270.3 317.7M270.3 317.7L271.3 326.9M271.3 326.9L272.2 336M272.2 336L273.2 345.1M273.2 345.1L274.1 388.7M274.1 388.7L275 432.3M275 432.3L276 436.1M276 436.1L276.9 439.9M276.9 439.9L277.9 443.7M277.9 443.7L278.5 411.4M278.5 411.4L279.2 379.2M279.2 379.2L280.2 312.9M280.2 312.9L281.2 309.7M281.2 309.7L282.2 306.6M282.2 306.6L283.2 303.4M283.2 303.4L284.4 306.9M284.4 306.9L285.5 310.5M285.5 310.5L286.4 328.4M286.4 328.4L287.4 346.2M287.4 346.2L288.3 364.1M288.3 364.1L289.2 350.8M289.2 350.8L290.2 337.5M290.2 337.5L291.1 324.2M291.1 324.2L292.1 311M292.1 311L293 297.7M293 297.7L294 295.8M294 295.8L294.9 293.9M294.9 293.9L295.9 292M295.9 292L296.9 290.1M296.9 290.1L297.9 289.6M297.9 289.6L298.9 289.1M298.9 289.1L300 288.5M300 288.5L301 288M301 288L302 287.5M302 287.5L302 285.8M302 285.8L302.6 285.3M302.6 285.3L303.2 284.8M303.2 284.8L303.8 285.8M303.8 285.8L304.4 286.7M304.4 286.7L305 288.1M305 288.1L305.6 289.4M305.6 289.4L306.2 289.7M306.2 289.7L306.7 289.9M306.7 289.9L307.3 288.7M307.3 288.7L307.9 287.6M307.9 287.6L308.5 286.2M308.5 286.2L309.1 284.9M309.1 284.9L309.7 284.5M309.7 284.5L310.3 284M310.3 284L310.9 284M310.9 284L311.5 284.1M311.5 284.1L312.1 283.7M312.1 283.7L312.7 283.3M312.7 283.3L313.3 282.5M313.3 282.5L313.9 281.8M313.9 281.8L314.5 281.8M314.5 281.8L315 281.8M315 281.8L315.6 282.9M315.6 282.9L316.2 284.1M316.2 284.1L316.8 285.4M316.8 285.4L317.4 286.8M317.4 286.8L318 286.8M318 286.8L318.6 286.9M318.6 286.9L319.2 285.7M319.2 285.7L319.8 284.4M319.8 284.4L320.4 283.3M320.4 283.3L321 282.3M321 282.3L321.6 281.9M321.6 281.9L322.2 281.6M322.2 281.6L322.8 281.6M322.8 281.6L323.3 281.6M323.3 281.6L323.9 281.3M323.9 281.3L324.5 280.9M324.5 280.9L325.1 280.5M325.1 280.5L325.7 280.1M325.7 280.1L326.3 280.3M326.3 280.3L326.9 280.4M326.9 280.4L327.5 281.2M327.5 281.2L328.1 282M328.1 282L328.7 282.7M328.7 282.7L329.3 283.4M329.3 283.4L329.9 283.3M329.9 283.3L330.5 283.3M330.5 283.3L331.1 282.8M331.1 282.8L331.6 282.3M331.6 282.3L332.2 282M332.2 282L332.8 281.6M332.8 281.6L333.4 281.5M333.4 281.5L334 281.5M334 281.5L334.6 281.5M334.6 281.5L335.2 281.5M335.2 281.5L335.8 281.4M335.8 281.4L336.4 281.2M336.4 281.2L337 281M337 281L337.6 280.7M337.6 280.7L338.2 280.8M338.2 280.8L338.8 280.8M338.8 280.8L339.4 281.2M339.4 281.2L339.9 281.6M339.9 281.6L340.5 281.9M340.5 281.9L341.1 282.2M341.1 282.2L341.7 282.1M341.7 282.1L342.3 282M342.3 282L342.9 281.5M342.9 281.5L343.5 281.1M343.5 281.1L344.1 280.7M344.1 280.7L344.7 280.4M344.7 280.4L345.3 280.4M345.3 280.4L345.9 280.4M345.9 280.4L346.5 280.5M346.5 280.5L347.1 280.6M347.1 280.6L347.7 280.5M347.7 280.5L348.2 280.4M348.2 280.4L348.8 280.3M348.8 280.3L349.4 280.2M349.4 280.2L350 280.4M350 280.4L350.6 280.5M350.6 280.5L351.2 280.9M351.2 280.9L351.8 281.4M351.8 281.4L352.4 281.6M352.4 281.6L353 281.9M353 281.9L353.6 281.7M353.6 281.7L354.2 281.5M354.2 281.5L354.8 280.9M354.8 280.9L355.4 280.4M355.4 280.4L356 280M356 280L356.5 279.6M356.5 279.6L357.1 279.6M357.1 279.6L357.7 279.5M357.7 279.5L358.3 279.6M358.3 279.6L358.9 279.6M358.9 279.6L359.5 279.5M359.5 279.5L360.1 279.4M360.1 279.4L360.7 279.3M360.7 279.3L361.3 279.2M361.3 279.2L361.9 279.4M361.9 279.4L362.5 279.6M362.5 279.6L363.1 280.1M363.1 280.1L363.7 280.5M363.7 280.5L364.3 280.8M364.3 280.8L364.8 281.1M364.8 281.1L365.4 280.9M365.4 280.9L366 280.7M366 280.7L366.6 280.2M366.6 280.2L367.2 279.7M367.2 279.7L367.8 279.4M367.8 279.4L368.4 279.1M368.4 279.1L369 279.1M369 279.1L369.6 279.2M369.6 279.2L370.2 279.2M370.2 279.2L370.8 279.2M370.8 279.2L371.4 279.1M371.4 279.1L372 279M372 279L372.6 278.9M372.6 278.9L373.2 278.7M373.2 278.7L373.7 278.9M373.7 278.9L374.3 279M374.3 279L374.9 279.4M374.9 279.4L375.5 279.7M375.5 279.7L376.1 279.9M376.1 279.9L376.7 280M376.7 280L377.3 279.7M377.3 279.7L377.9 279.4M377.9 279.4L378.5 279.1M378.5 279.1L379.1 278.7M379.1 278.7L379.7 278.6M379.7 278.6L380.3 278.5M380.3 278.5L380.9 278.7M380.9 278.7L381.5 278.9M381.5 278.9L382 279.1M382 279.1L382.6 279.3M382.6 279.3L383.2 279.4M383.2 279.4L383.8 279.4M383.8 279.4L384.4 279.5M384.4 279.5L385 279.5M385 279.5L385.6 279.8M385.6 279.8L386.2 280.1M386.2 280.1L386.8 280.6M386.8 280.6L387.4 281.1M387.4 281.1L388 281.3M388 281.3L388.6 281.5M388.6 281.5L389.2 281.1M389.2 281.1L389.8 280.6M389.8 280.6L390.3 279.8M390.3 279.8L390.9 279M390.9 279L391.5 278.6M391.5 278.6L392.1 278.3M392.1 278.3L392.7 278.5M392.7 278.5L393.3 278.8M393.3 278.8L393.9 279.2M393.9 279.2L394.5 279.6M394.5 279.6L395.1 279.7M395.1 279.7L395.7 279.7M395.7 279.7L396.3 279.9M396.3 279.9L396.9 280M396.9 280L397.5 280.9M397.5 280.9L398.1 281.8M398.1 281.8L398.6 282.9M398.6 282.9L399.2 284M399.2 284L399.8 284.2M399.8 284.2L400.4 284.4M400.4 284.4L401 283.4M401 283.4L401.6 282.4M401.6 282.4L402.2 281.2M402.2 281.2L402.8 279.9M402.8 279.9L403.4 279.5M403.4 279.5L404 279.2M404 279.2L404.6 279.6M404.6 279.6L405.2 280.1M405.2 280.1L405.8 280.5M405.8 280.5L406.4 280.9M406.4 280.9L406.9 280.8M406.9 280.8L407.5 280.7M407.5 280.7L408.1 280.7M408.1 280.7L408.7 280.8M408.7 280.8L409.3 281.6M409.3 281.6L409.9 282.3M409.9 282.3L410.5 283.3M410.5 283.3L411.1 284.2M411.1 284.2L411.7 284.3M411.7 284.3L412.3 284.4M412.3 284.4L412.9 283.3M412.9 283.3L413.5 282.3M413.5 282.3L414.1 281.3M414.1 281.3L414.7 280.3M414.7 280.3L415.2 280.3M415.2 280.3L415.8 280.3M415.8 280.3L416.4 281.1M416.4 281.1L417 281.9M417 281.9L417.6 282.4M417.6 282.4L418.2 283M418.2 283L418.8 283M418.8 283L419.4 283M419.4 283L420 283M420 283L420.6 283.1M420.6 283.1L421.2 283.7M421.2 283.7L421.8 284.3M421.8 284.3L422.4 285M422.4 285L423 285.6M423 285.6L423.5 285.3M423.5 285.3L424.1 284.9M424.1 284.9L424.7 283.6M424.7 283.6L425.3 282.2M425.3 282.2L425.9 281.1M425.9 281.1L426.5 280M426.5 280L427.1 280.2M427.1 280.2L427.7 280.3M427.7 280.3L428.3 281.3M428.3 281.3L428.9 282.2M428.9 282.2L429.5 283M429.5 283L430.1 283.7M430.1 283.7L430.7 283.8M430.7 283.8L431.3 284M431.3 284L431.8 284.3M431.8 284.3L432.4 284.6M432.4 284.6L433 285.4M433 285.4L433.6 286.2M433.6 286.2L434.2 286.9M434.2 286.9L434.8 287.5M434.8 287.5L435.4 286M435.4 286L436 284.5M436 284.5L437 285.5M437 285.5L438 286.5M438 286.5L439 301.2M439 301.2L440 315.8M440 315.8L441 330.5M441 330.5L441.9 346.7M441.9 346.7L442.8 363M442.8 363L443.7 379.2M443.7 379.2L444.6 384.9M444.6 384.9L445.6 390.5M445.6 390.5L446.5 383M446.5 383L447.5 375.4M447.5 375.4L448.4 367.9M448.4 367.9L449.4 369.7M449.4 369.7L450.3 371.5M450.3 371.5L451.3 357M451.3 357L452.2 342.6M452.2 342.6L453.2 328.1M453.2 328.1L454.1 325.2M454.1 325.2L455.1 322.4M455.1 322.4L456.1 319.6M456.1 319.6L457 316.7M457 316.7L458 338.6M458 338.6L459 360.5M459 360.5L459.9 380.8M459.9 380.8L460.8 401M460.8 401L461.6 385.8M461.6 385.8L462.5 370.5M462.5 370.5L463.6 341.3M463.6 341.3L464.5 297.7M464.5 297.7L465.5 296.2M465.5 296.2L466.4 294.7M466.4 294.7L467.4 293.1M467.4 293.1L468.3 291.6M468.3 291.6L469.3 290.1M469.3 290.1L470.2 300.9M470.2 300.9L471.2 311.6M471.2 311.6L472.1 322.4M472.1 322.4L473.1 312.9M473.1 312.9L474 303.4M474 303.4L475 293.9M475 293.9L476.1 292.3M476.1 292.3L477.2 290.6M477.2 290.6L478.3 289M478.3 289L479.3 287.4M479.3 287.4L480.4 285.8M480.4 285.8L481.5 284.1M481.5 284.1L482.6 282.5M482.6 282.5L482.6 282.2M482.6 282.2L483.2 281.2M483.2 281.2L483.8 280.3M483.8 280.3L484.4 279.4M484.4 279.4L485 278.4M485 278.4L485.6 278.4M485.6 278.4L486.2 278.4M486.2 278.4L486.8 279.1M486.8 279.1L487.3 279.9M487.3 279.9L487.9 280.4M487.9 280.4L488.5 281M488.5 281L489.1 280.8M489.1 280.8L489.7 280.6M489.7 280.6L490.3 280.2M490.3 280.2L490.9 279.8M490.9 279.8L491.5 279.8M491.5 279.8L492.1 279.8M492.1 279.8L492.7 279.9M492.7 279.9L493.3 280.1M493.3 280.1L493.9 279.7M493.9 279.7L494.5 279.3M494.5 279.3L495.1 278.2M495.1 278.2L495.6 277.2M495.6 277.2L496.2 276.4M496.2 276.4L496.8 275.7M496.8 275.7L497.4 276.2M497.4 276.2L498 276.6M498 276.6L498.6 277.9M498.6 277.9L499.2 279.1M499.2 279.1L499.8 280M499.8 280L500.4 280.9M500.4 280.9L501 280.9M501 280.9L501.6 280.9M501.6 280.9L502.2 280.6M502.2 280.6L502.8 280.3M502.8 280.3L503.4 280.4M503.4 280.4L503.9 280.5M503.9 280.5L504.5 280.6M504.5 280.6L505.1 280.8M505.1 280.8L505.7 280.2M505.7 280.2L506.3 279.6M506.3 279.6L506.9 278.4M506.9 278.4L507.5 277.1M507.5 277.1L508.1 276.3M508.1 276.3L508.7 275.6M508.7 275.6L509.3 276.2M509.3 276.2L509.9 276.8M509.9 276.8L510.5 278.3M510.5 278.3L511.1 279.8M511.1 279.8L511.7 280.9M511.7 280.9L512.2 281.9M512.2 281.9L512.8 281.9M512.8 281.9L513.4 281.9M513.4 281.9L514 281.7M514 281.7L514.6 281.4M514.6 281.4L515.2 281.7M515.2 281.7L515.8 281.9M515.8 281.9L516.4 282.2M516.4 282.2L517 282.5M517 282.5L517.6 281.9M517.6 281.9L518.2 281.3M518.2 281.3L518.8 280.1M518.8 280.1L519.4 278.9M519.4 278.9L520 278.3M520 278.3L520.5 277.6M520.5 277.6L521.1 278.4M521.1 278.4L521.7 279.1M521.7 279.1L522.3 280.5M522.3 280.5L522.9 281.8M522.9 281.8L523.5 282.5M523.5 282.5L524.1 283.1M524.1 283.1L524.7 282.7M524.7 282.7L525.3 282.4M525.3 282.4L525.9 282M525.9 282L526.5 281.5M526.5 281.5L527.1 281.7M527.1 281.7L527.7 281.8M527.7 281.8L528.3 282M528.3 282L528.8 282.2M528.8 282.2L529.4 281.7M529.4 281.7L530 281.2M530 281.2L530.6 280.2M530.6 280.2L531.2 279.3M531.2 279.3L531.8 279.1M531.8 279.1L532.4 279M532.4 279L533 280M533 280L533.6 281.1M533.6 281.1L534.2 282.5M534.2 282.5L534.8 283.8M534.8 283.8L535.4 284.3M535.4 284.3L536 284.8M536 284.8L536.6 284.2M536.6 284.2L537.1 283.7M537.1 283.7L537.7 283.1M537.7 283.1L538.3 282.4M538.3 282.4L538.9 282.3M538.9 282.3L539.5 282.2M539.5 282.2L540.1 282.1M540.1 282.1L540.7 282M540.7 282L541.3 281.3M541.3 281.3L541.9 280.6M541.9 280.6L542.5 279.7M542.5 279.7L543.1 278.8M543.1 278.8L543.7 278.8M543.7 278.8L544.3 278.7M544.3 278.7L544.9 279.9M544.9 279.9L545.5 281.1M545.5 281.1L546 282.5M546 282.5L546.6 284M546.6 284L547.2 284.4M547.2 284.4L547.8 284.9M547.8 284.9L548.4 284.5M548.4 284.5L549 284M549 284L549.6 283.6M549.6 283.6L550.2 283.1M550.2 283.1L550.8 283.1M550.8 283.1L551.4 283.1M551.4 283.1L552 283M552 283L552.6 283M552.6 283L553.2 282.3M553.2 282.3L553.8 281.7M553.8 281.7L554.3 281.1M554.3 281.1L554.9 280.4M554.9 280.4L555.5 280.4M555.5 280.4L556.1 280.5M556.1 280.5L556.7 281.3M556.7 281.3L557.3 282.1M557.3 282.1L557.9 282.8M557.9 282.8L558.5 283.5M558.5 283.5L559.1 283.6M559.1 283.6L559.7 283.7M559.7 283.7L560.3 283.3M560.3 283.3L560.9 283M560.9 283L561.5 282.7M561.5 282.7L562.1 282.5M562.1 282.5L562.6 282.6M562.6 282.6L563.2 282.7M563.2 282.7L563.8 282.7M563.8 282.7L564.4 282.8M564.4 282.8L565 282.6M565 282.6L565.6 282.4M565.6 282.4L566.2 282.1M566.2 282.1L566.8 281.8M566.8 281.8L567.4 282M567.4 282L568 282.1M568 282.1L568.6 282.7M568.6 282.7L569.2 283.3M569.2 283.3L569.8 283.8M569.8 283.8L570.4 284.2M570.4 284.2L570.9 284.2M570.9 284.2L571.5 284.1M571.5 284.1L572.1 283.7M572.1 283.7L572.7 283.3M572.7 283.3L573.3 283M573.3 283L573.9 282.7M573.9 282.7L574.5 282.7M574.5 282.7L575.1 282.7M575.1 282.7L575.7 282.7M575.7 282.7L576.3 282.7M576.3 282.7L576.9 282.4M576.9 282.4L577.5 282.2M577.5 282.2L578.1 282M578.1 282L578.7 281.8M578.7 281.8L579.2 282.1M579.2 282.1L579.8 282.4M579.8 282.4L580.4 283M580.4 283L581 283.7M581 283.7L581.6 284.2M581.6 284.2L582.2 284.7M582.2 284.7L582.8 284.6M582.8 284.6L583.4 284.6M583.4 284.6L584 284.2M584 284.2L584.6 283.8M584.6 283.8L585.2 283.5M585.2 283.5L585.8 283.2M585.8 283.2L586.4 283.2M586.4 283.2L587 283.2M587 283.2L587.5 283.1M587.5 283.1L588.1 283.1M588.1 283.1L588.7 282.8M588.7 282.8L589.3 282.5M589.3 282.5L589.9 282.2M589.9 282.2L590.5 282M590.5 282L591.1 282.3M591.1 282.3L591.7 282.5M591.7 282.5L592.3 283.1M592.3 283.1L592.9 283.7M592.9 283.7L593.5 284.1M593.5 284.1L594.1 284.5M594.1 284.5L594.7 284.4M594.7 284.4L595.3 284.3M595.3 284.3L595.8 283.9M595.8 283.9L596.4 283.5M596.4 283.5L597 283.3M597 283.3L597.6 283.2M597.6 283.2L598.2 283.3M598.2 283.3L598.8 283.4M598.8 283.4L599.4 283.4M599.4 283.4L600 283.5M600 283.5L600.9 282.6M600.9 282.6L601.8 281.6M601.8 281.6L602.7 280.7M602.7 280.7L603.7 281.5M603.7 281.5L604.6 282.2M604.6 282.2L605.6 283M605.6 283L606.5 283.7M606.5 283.7L607.5 284.5M607.5 284.5L608.4 299M608.4 299L609.4 313.6M609.4 313.6L610.3 328.1M610.3 328.1L611.3 327.3M611.3 327.3L612.3 326.5M612.3 326.5L613.2 327.7M613.2 327.7L614.1 328.8M614.1 328.8L615 330M615 330L616 346.4M616 346.4L616.9 362.8M616.9 362.8L617.9 379.2M617.9 379.2L618.6 408.1M618.6 408.1L619.4 437.1M619.4 437.1L620.3 408.1M620.3 408.1L621.3 379.2M621.3 379.2L622 346M622 346L622.7 312.9M622.7 312.9L623.6 310M623.6 310L624.5 307.2M624.5 307.2L625.5 304.4M625.5 304.4L626.4 301.5M626.4 301.5L627.4 308.5M627.4 308.5L628.3 315.4M628.3 315.4L629.3 322.4M629.3 322.4L630.5 329M630.5 329L631.6 335.6M631.6 335.6L632.4 324.9M632.4 324.9L633.2 314.1M633.2 314.1L634 303.4M634 303.4L635 298.3M635 298.3L635.9 293.3M635.9 293.3L636.9 288.2M636.9 288.2L638 287.1M638 287.1L639.1 286M639.1 286L640.2 284.9M640.2 284.9L641.2 283.8M641.2 283.8L642.3 282.7M642.3 282.7L643.4 281.6M643.4 281.6L644.5 280.5M644.5 280.5L644.5 275.2M644.5 275.2L645.1 275.5M645.1 275.5L645.7 275.9M645.7 275.9L646.3 276.4M646.3 276.4L646.9 277M646.9 277L647.5 277M647.5 277L648 277M648 277L648.6 277M648.6 277L649.2 276.9M649.2 276.9L649.8 277.9M649.8 277.9L650.4 278.9M650.4 278.9L651 280.5M651 280.5L651.6 282.1M651.6 282.1L652.2 282.7M652.2 282.7L652.8 283.2M652.8 283.2L653.4 281.9M653.4 281.9L654 280.6M654 280.6L654.6 278.6M654.6 278.6L655.1 276.6M655.1 276.6L655.7 275.6M655.7 275.6L656.3 274.6M656.3 274.6L656.9 274.9M656.9 274.9L657.5 275.2M657.5 275.2L658.1 275.7M658.1 275.7L658.7 276.1M658.7 276.1L659.3 276M659.3 276L659.9 275.9M659.9 275.9L660.5 276M660.5 276L661.1 276.1M661.1 276.1L661.7 277.2M661.7 277.2L662.2 278.4M662.2 278.4L662.8 280.1M662.8 280.1L663.4 281.8M663.4 281.8L664 282.4M664 282.4L664.6 283M664.6 283L665.2 281.9M665.2 281.9L665.8 280.7M665.8 280.7L666.4 279M666.4 279L667 277.4M667 277.4L667.6 276.8M667.6 276.8L668.2 276.1M668.2 276.1L668.7 276.7M668.7 276.7L669.3 277.2M669.3 277.2L669.9 277.7M669.9 277.7L670.5 278.2M670.5 278.2L671.1 278M671.1 278L671.7 277.8M671.7 277.8L672.3 277.7M672.3 277.7L672.9 277.6M672.9 277.6L673.5 278.4M673.5 278.4L674.1 279.3M674.1 279.3L674.7 280.6M674.7 280.6L675.3 281.8M675.3 281.8L675.8 282M675.8 282L676.4 282.2M676.4 282.2L677 280.9M677 280.9L677.6 279.5M677.6 279.5L678.2 278M678.2 278L678.8 276.4M678.8 276.4L679.4 276.2M679.4 276.2L680 276M680 276L680.6 276.9M680.6 276.9L681.2 277.9M681.2 277.9L681.8 278.7M681.8 278.7L682.4 279.6M682.4 279.6L682.9 279.7M682.9 279.7L683.5 279.7M683.5 279.7L684.1 279.8M684.1 279.8L684.7 279.9M684.7 279.9L685.3 280.7M685.3 280.7L685.9 281.4M685.9 281.4L686.5 282.1M686.5 282.1L687.1 282.9M687.1 282.9L687.7 282.6M687.7 282.6L688.3 282.4M688.3 282.4L688.9 281.1M688.9 281.1L689.4 279.9M689.4 279.9L690 278.9M690 278.9L690.6 277.9M690.6 277.9L691.2 277.8M691.2 277.8L691.8 277.7M691.8 277.7L692.4 278.3M692.4 278.3L693 278.9M693 278.9L693.6 279.4M693.6 279.4L694.2 279.8M694.2 279.8L694.8 279.9M694.8 279.9L695.4 280M695.4 280L696 280.2M696 280.2L696.5 280.3M696.5 280.3L697.1 280.9M697.1 280.9L697.7 281.4M697.7 281.4L698.3 282M698.3 282L698.9 282.5M698.9 282.5L699.5 282.5M699.5 282.5L700.1 282.4M700.1 282.4L700.7 281.7M700.7 281.7L701.3 280.9M701.3 280.9L701.9 280.2M701.9 280.2L702.5 279.5M702.5 279.5L703.1 279.5M703.1 279.5L703.6 279.4M703.6 279.4L704.2 279.8M704.2 279.8L704.8 280.3M704.8 280.3L705.4 280.6M705.4 280.6L706 280.9M706 280.9L706.6 280.9M706.6 280.9L707.2 280.9M707.2 280.9L707.8 280.9M707.8 280.9L708.4 281M708.4 281L709 281.5M709 281.5L709.6 282M709.6 282L710.1 282.4M710.1 282.4L710.7 282.9M710.7 282.9L711.3 282.8M711.3 282.8L711.9 282.7M711.9 282.7L712.5 282M712.5 282L713.1 281.3M713.1 281.3L713.7 280.8M713.7 280.8L714.3 280.2M714.3 280.2L714.9 280.4M714.9 280.4L715.5 280.7M715.5 280.7L716.1 281.3M716.1 281.3L716.7 282M716.7 282L717.2 282.5M717.2 282.5L717.8 282.9M717.8 282.9L718.4 283M718.4 283L719 283M719 283L719.6 283M719.6 283L720.2 283.1M720.2 283.1L720.8 283.4M720.8 283.4L721.4 283.8M721.4 283.8L722 284.1M722 284.1L722.6 284.4M722.6 284.4L723.2 284M723.2 284L723.8 283.7M723.8 283.7L724.3 282.8M724.3 282.8L724.9 281.9M724.9 281.9L725.5 281.3M725.5 281.3L726.1 280.8M726.1 280.8L726.7 281.1M726.7 281.1L727.3 281.3M727.3 281.3L727.9 282.1M727.9 282.1L728.5 282.9M728.5 282.9L729.1 283.5M729.1 283.5L729.7 284M729.7 284L730.3 284.1M730.3 284.1L730.8 284.2M730.8 284.2L731.4 284.4M731.4 284.4L732 284.6M732 284.6L732.6 285M732.6 285L733.2 285.5M733.2 285.5L733.8 285.8M733.8 285.8L734.4 286.1M734.4 286.1L735 285.7M735 285.7L735.6 285.3M735.6 285.3L736.2 284.4M736.2 284.4L736.8 283.5M736.8 283.5L737.4 283M737.4 283L737.9 282.4M737.9 282.4L738.5 282.6M738.5 282.6L739.1 282.8M739.1 282.8L739.7 283.4M739.7 283.4L740.3 284M740.3 284L740.9 284.3M740.9 284.3L741.5 284.6M741.5 284.6L742.1 284.5M742.1 284.5L742.7 284.4M742.7 284.4L743.3 284.4M743.3 284.4L743.9 284.4M743.9 284.4L744.4 284.8M744.4 284.8L745 285.1M745 285.1L745.6 285.3M745.6 285.3L746.2 285.5M746.2 285.5L746.8 285.1M746.8 285.1L747.4 284.7M747.4 284.7L748 283.9M748 283.9L748.6 283M748.6 283L749.2 282.6M749.2 282.6L749.8 282.2M749.8 282.2L750.4 282.6M750.4 282.6L751 283M751 283L751.5 283.7M751.5 283.7L752.1 284.4M752.1 284.4L752.7 284.7M752.7 284.7L753.3 284.9M753.3 284.9L753.9 284.7M753.9 284.7L754.5 284.5M754.5 284.5L755.1 284.3M755.1 284.3L755.7 284.2M755.7 284.2L756.3 284.3M756.3 284.3L756.9 284.5M756.9 284.5L757.5 284.5M757.5 284.5L758.1 284.5M758.1 284.5L758.6 283.9M758.6 283.9L759.2 283.3M759.2 283.3L759.8 282.5M759.8 282.5L760.4 281.6M760.4 281.6L761 281.4M761 281.4L761.6 281.1M761.6 281.1L762.2 281.6M762.2 281.6L762.8 282.2M762.8 282.2L763.4 283.1M763.4 283.1L764 283.9M764 283.9L764.6 284.3M764.6 284.3L765.1 284.7M765.1 284.7L765.7 284.6M765.7 284.6L766.3 284.4M766.3 284.4L766.9 284.3M766.9 284.3L767.5 284.3M767.5 284.3L768.1 284.4M768.1 284.4L768.7 284.6M768.7 284.6L769.3 284.5M769.3 284.5L769.9 284.5M769.9 284.5L770.5 283.7M770.5 283.7L771.1 283M771.1 283L771.7 282.1M771.7 282.1L772.2 281.2M772.2 281.2L772.8 280.9M772.8 280.9L773.4 280.7M773.4 280.7L774 281.3M774 281.3L774.6 281.9M774.6 281.9L775.2 282.7M775.2 282.7L775.8 283.5M775.8 283.5L776.4 283.8M776.4 283.8L777 284.2M777 284.2L777.6 284M777.6 284L778.2 283.9M778.2 283.9L778.8 283.9M778.8 283.9L779.3 283.9M779.3 283.9L779.9 284.2M779.9 284.2L780.5 284.5M780.5 284.5L781.1 284.5M781.1 284.5L781.7 284.6M781.7 284.6L782.3 284M782.3 284L782.9 283.5M782.9 283.5L783.5 282.9M783.5 282.9L784.1 282.3M784.1 282.3L784.7 282.4M784.7 282.4L785.3 282.4M785.3 282.4L785.8 283.3M785.8 283.3L786.4 284.2M786.4 284.2L787 285.2M787 285.2L787.6 286.1M787.6 286.1L788.2 286.4M788.2 286.4L788.8 286.8M788.8 286.8L789.4 286.6M789.4 286.6L790 286.4M790 286.4L790.6 286.4M790.6 286.4L791.2 286.4M791.2 286.4L791.8 286.5M791.8 286.5L792.4 286.7M792.4 286.7L792.9 286.4M792.9 286.4L793.5 286.1M793.5 286.1L794.1 285.3M794.1 285.3L794.7 284.5M794.7 284.5L795.3 283.6M795.3 283.6L795.9 282.8M795.9 282.8L796.5 282.7M796.5 282.7L797.1 282.6M797.1 282.6L797.7 283.3M797.7 283.3L798.3 284.1M798.3 284.1L798.9 284.8M798.9 284.8L799.5 285.4M799.5 285.4L800 285.5M800 285.5L800.6 285.5M800.6 285.5L801.2 285M801.2 285L801.8 284.5M801.8 284.5L802.4 284.5M802.4 284.5L803 284.5M803 284.5L804 287M804 287L805.1 289.6M805.1 289.6L806.1 292.1M806.1 292.1L807.1 289.6M807.1 289.6L808 287M808 287L809 284.5M809 284.5L810.1 284M810.1 284L811.1 283.5M811.1 283.5L812.2 283M812.2 283L813.2 282.5M813.2 282.5L814.3 282M814.3 282L815.4 281.5M815.4 281.5L816.4 281M816.4 281L817.5 280.5M817.5 280.5L818.5 277M818.5 277L819.4 330M819.4 330L820.4 332.9M820.4 332.9L821.3 335.7M821.3 335.7L822.2 338.5M822.2 338.5L823.2 341.4M823.2 341.4L824.1 360.4M824.1 360.4L825.1 379.3M825.1 379.3L826 398.3M826 398.3L827 424.4M827 424.4L828 450.5M828 450.5L828.9 424.4M828.9 424.4L829.8 398.3M829.8 398.3L830.8 322.4M830.8 322.4L832 318.1M832 318.1L833.1 313.9M833.1 313.9L834.3 309.6M834.3 309.6L835.5 305.3M835.5 305.3L836.5 311M836.5 311L837.4 316.7M837.4 316.7L838.4 322.4M838.4 322.4L839.3 335.7M839.3 335.7L840.3 349M840.3 349L841.2 331.9M841.2 331.9L842.2 314.8M842.2 314.8L843.2 309.1M843.2 309.1L844.1 303.4M844.1 303.4L845 299.6M845 299.6L846 295.9M846 295.9L847 292.1M847 292.1L847.9 288.3M847.9 288.3L848.7 286.9M848.7 286.9L849.5 285.5" fill="none" stroke="#7d2a9a" stroke-width="3.4" stroke-dasharray="4.6 2.6"/>
<rect x="1005.6" y="41.8" width="506.9" height="203.6" fill="none" stroke="#000" stroke-width="2.0"/>
<path d="M1005.6 143.6h7M1512.5 143.6h-7M1005.6 51.1h7M1512.5 51.1h-7M1005.6 245.4v-7M1005.6 245.4h7M1132.3 41.8v7M1132.3 245.4v-7M1259 41.8v7M1259 245.4v-7M1385.8 41.8v7M1385.8 245.4v-7" stroke="#000" stroke-width="1.6" fill="none"/>
<rect x="1005.6" y="269.4" width="506.9" height="203.9" fill="none" stroke="#000" stroke-width="2.0"/>
<path d="M1005.6 371.4h7M1512.5 371.4h-7M1005.6 278.7h7M1512.5 278.7h-7M1005.6 473.3v-7M1005.6 473.3h7M1132.3 269.4v7M1132.3 473.3v-7M1259 269.4v7M1259 473.3v-7M1385.8 269.4v7M1385.8 473.3v-7" stroke="#000" stroke-width="1.6" fill="none"/>
<polyline points="1005.6,56.9 1006.6,57.2 1007.7,57.9 1008.7,57.1 1009.8,57.2 1010.8,57.4 1011.9,56.8 1012.9,57.4 1014,57.7 1015,58 1016,56.9 1017,57.3 1018,57.1 1019,58.5 1020,58.3 1021,57.3 1022,59.1 1023,59.1 1024,58.7 1025,58.7 1026,57.7 1027,57.3 1028,58.1 1029,57.1 1030,57.2 1031,57.1 1032,56.6 1033,57.2 1034,57 1035,57.6 1036,57 1037,57.2 1038,56.9 1039,57.2 1040,56.8 1041,56.4 1042,57.7 1043,57.6 1044,57.3 1045,57 1046,56.3 1047,56.1 1048,56.2 1049,55.8 1050,57 1051,56.2 1052,56.9 1053,56 1054,56.9 1055,56.6 1056,55 1057,55.3 1058,56.4 1059,55.5 1060,56.4 1061,55.4 1062,54.9 1063,56 1064,56.4 1065,55.6 1066,55.4 1067,55.9 1068,57.1 1069,56.9 1070,55.8 1071,56.1 1072,56 1073,56 1074,57.4 1075,56.4 1076,57 1077,56.8 1078,56.2 1079,57.2 1080,56 1081,56.9 1082,55.8 1083,56.3 1084,55.9 1085,55.9 1086,57.1 1087,56.7 1088,55.8 1089,56.8 1090,55.5 1091,55.7 1092,56.4 1093,55.9 1094,54.8 1095,56.3 1096,54.8 1097,54.8 1098,55.6 1099,54.7 1100,54.5 1101,54 1102,53.9 1103,54.6 1104,54.1 1105,54.8 1106,54.5 1107,54.7 1108,55.7 1109,55 1110,55.2 1111,55.8 1112,54.7 1113,54.7 1114,56.2 1115,56.1 1116,55.1 1117.1,55 1118.1,56 1119.2,56.4 1120.2,55.1 1121.3,56.5 1122.3,56.4 1123.4,55.9 1124.4,55.6 1125.5,55 1126.5,54.9 1127.6,56.6 1128.6,55.3 1129.7,56.2 1130.7,55.4 1131.8,56.5 1132.8,56.1 1133.7,56.2 1134.7,56.6 1135.6,58.2 1136.5,57.7 1137.5,58.6 1138.4,59.8 1139.5,60.1 1140.5,59.5 1141.6,58.7 1142.6,59.7 1143.7,58.2 1144.7,57.6 1145.8,57.9 1146.8,58 1147.9,57.1 1148.9,57.1 1150,57.3 1151,57.5 1152,56.5 1153,56.8 1154,57.6 1155,57.6 1156,56.9 1157,56.8 1158,56.5 1159,55.5 1160,55.2 1161,54.9 1162,56.3 1163,55.8 1164,56 1165,54.1 1165.8,54.6 1166.6,53.7 1167.3,53.5 1168.1,52.1 1168.9,52.6 1169.7,50.3 1169.8,52.2 1169.9,53.6 1170,55 1170.1,55.7 1170.2,56.7 1170.3,57.9 1170.4,59.2 1170.5,59.2 1170.6,60.9 1170.7,62.3 1170.8,63.3 1170.9,63.5 1171,65.2 1171.1,66.4 1171.2,66.9 1171.3,68.1 1171.4,68.7 1171.5,70.1 1171.6,71.2 1172.4,71 1173.2,72.9 1174,74.3 1174.8,74.9 1175.6,75.4 1176.4,75.6 1176.9,77.1 1177.5,77.7 1178,78.4 1178.5,80 1179,79.5 1179.6,81.6 1180.1,81.2 1180.6,83.1 1181.2,83.8 1181.7,84.3 1182.2,86 1182.7,86.5 1183.3,87.6 1183.8,89.1 1184.3,88.8 1184.8,89.2 1185.4,90.6 1185.9,92.2 1186.3,92.3 1186.8,93.1 1187.2,95.3 1187.7,95.8 1188.1,96.3 1188.6,98 1189,97.9 1189.5,99.4 1189.9,99.5 1190.4,100.8 1190.8,102.4 1191.3,103.5 1191.7,104.3 1192.2,104.4 1192.6,105.6 1193.1,106 1193.5,106.6 1194,108.2 1194.4,109.7 1194.9,110.6 1195.3,111.3 1195.6,112.7 1196,112.5 1196.3,113.3 1196.6,114.8 1197,115.5 1197.3,116.4 1197.6,117.7 1198,119.1 1198.3,119.9 1198.7,120.6 1199,122.5 1199.3,123.8 1199.7,123.8 1200,124.1 1200.3,125.1 1200.7,127.6 1201,127.1 1201.2,129.3 1201.5,130 1201.7,130.6 1202,132.5 1202.2,132.1 1202.5,133.3 1202.7,134.9 1202.9,135.1 1203.2,137.6 1203.4,137.5 1203.7,138.3 1203.9,139.2 1203.9,141.2 1203.9,141.9 1203.9,143.2 1203.9,144.3 1203.9,145.6 1203.9,146.8 1203.9,147.3 1203.9,147.5 1203.9,149 1203.9,149.4 1203.9,150.1 1203.9,151.9 1203.9,153.4 1203.9,153.4 1203.9,154.6 1203.9,155.7 1203.9,157.4 1203.9,158 1203.9,159.2 1203.9,160.5 1203.9,160.8 1203.9,162.5 1203.9,163.7 1203.9,163.3 1204.1,165.8 1204.3,166.4 1204.6,166.3 1204.8,167.9 1205,169.2 1205.2,170.7 1205.5,170.7 1205.7,172 1205.9,173.6 1206.1,174.4 1206.4,175.7 1206.6,175.8 1206.8,177.1 1207,177.3 1207.3,179.3 1207.5,180.4 1207.7,181.1 1207.9,182.2 1208.2,182.3 1208.4,184.5 1208.6,185.7 1208.9,186.7 1209.1,186.9 1209.4,188.3 1209.7,188.5 1210,190.5 1210.2,191.4 1210.5,191.5 1210.8,192 1211,193.7 1211.3,194.8 1211.6,196.2 1211.9,196.7 1212.1,196.9 1212.4,199.3 1212.7,198.9 1212.9,201.3 1213.2,201.1 1213.5,202.4 1213.8,204.2 1214,204.1 1214.3,205.1 1215.2,206.3 1216.2,207.2 1217.2,208 1218.1,208.2 1219,209.3 1220,209 1221,210.3 1221.9,209.3 1222.8,210.1 1223.8,211.2 1224.8,211.3 1225.7,212.6 1226.6,213 1227.6,213.3 1228.4,213.3 1229.2,212.1 1230,211 1230.3,210.1 1230.5,209.9 1230.8,208.9 1231,206.7 1231.3,206.8 1231.5,206 1231.8,204.2 1232,203.2 1232.3,201.5 1232.5,201.1 1232.8,200 1232.8,199.2 1232.8,197.1 1232.8,197.8 1232.9,196 1232.9,194.8 1232.9,194.5 1232.9,193.1 1232.9,192 1232.9,191.3 1232.9,189.2 1232.9,189.1 1233,187.8 1233,187.8 1233,186.8 1233,184.6 1233,184 1233,182.3 1233,181.9 1233.1,181.6 1233.1,180.7 1233.1,179 1233.1,177.7 1233.1,176.4 1233.1,176.2 1233.1,175.8 1233.2,173.3 1233.2,173.5 1233.2,171.1 1233.2,170.4 1233.2,169.5 1233.2,169.3 1233.2,167.7 1233.2,166.7 1233.3,166.2 1233.3,164.3 1233.3,164.4 1233.3,162.3 1233.3,162 1233.3,160.6 1233.3,159.5 1233.4,159.1 1233.4,157.9 1233.4,156.8 1233.4,155.8 1233.4,155.1 1233.4,153.4 1233.4,152.5 1233.4,152.2 1233.5,151.2 1233.5,150.1 1233.5,149.6 1233.5,148.2 1233.5,147.6 1233.5,145.5 1233.5,145.4 1233.6,144.6 1233.6,143.7 1233.6,141.7 1233.6,140.7 1233.6,140.8 1233.6,138.5 1233.6,138.9 1233.7,137.7 1233.7,135.3 1233.7,134.5 1233.7,134.4 1233.7,132.6 1233.7,131.3 1233.7,131.6 1233.7,129.9 1233.8,129.5 1233.8,127.3 1233.8,126.8 1233.8,126.3 1233.9,124.1 1233.9,123.5 1234,123.3 1234,122.7 1234.1,121.8 1234.1,119.3 1234.2,119 1234.2,118.4 1234.3,117 1234.4,116.3 1234.4,114.4 1234.5,113.2 1234.5,112.3 1234.6,111.1 1234.6,111 1234.7,110 1234.8,109.1 1234.8,107.3 1234.9,106.4 1234.9,105.4 1235,105.6 1235,104.8 1235.1,103.7 1235.1,101.2 1235.2,100.1 1235.3,100.7 1235.3,98.9 1235.4,98.4 1235.4,96.6 1235.5,95.9 1235.5,94.9 1235.6,93.8 1235.6,93.1 1235.7,91 1236.2,91.3 1236.7,90.6 1237.1,88.5 1237.6,88 1238.1,87.6 1238.5,86 1239,84.7 1239.5,83.7 1240.4,83.8 1241.4,82.5 1242.3,83.6 1243.2,82.9 1244.2,82.3 1245.1,82.1 1246.1,81.2 1247,80.3 1247.9,80.2 1248.7,79.5 1249.6,79.8 1250.5,79 1251.3,77.5 1252.2,78.1 1253,77.3 1253.9,76.9 1254.8,76.4 1255.6,75.1 1256.5,75.5 1257.6,75.7 1258.7,75.5 1259.8,75.8 1261,75.9 1262.1,75.5 1263.2,76.2 1263.4,76.1 1263.7,77.6 1263.9,78.8 1264.1,79 1264.3,80.7 1264.5,82.2 1264.8,83.2 1265,83.5 1265.1,85.8 1265.2,86.4 1265.2,86.8 1265.3,88.4 1265.4,89.3 1265.5,90.3 1265.6,91.1 1265.7,93.2 1265.8,93.6 1265.8,94.7 1265.9,95.9 1266,97.3 1266.1,96.6 1266.2,98.7 1266.2,100 1266.3,100.2 1266.4,101.5 1266.5,101.9 1266.6,103.2 1266.7,104.5 1266.8,105.1 1266.8,106.4 1266.9,108.6 1267,109 1267.5,109.8 1268,111.5 1268.5,111.7 1269,113.3 1269.5,113.5 1270,114.7 1270.6,114.3 1271.1,116.1 1271.6,117.3 1272.1,116.9 1272.6,119.3 1273.1,118.8 1273.6,120.2 1274.5,120.4 1275.5,121.8 1276.4,122.7 1277.4,122.5 1278.3,124.8 1278.6,124.9 1278.9,126.2 1279.1,127.4 1279.4,128 1279.7,128.9 1280,130.7 1280.2,131.6 1280.5,132.1 1280.8,134 1280.9,132.2 1281,130.6 1281,130 1281.1,128.6 1281.2,127.8 1281.3,127.8 1281.4,126.1 1281.4,126 1281.5,124.7 1281.6,122.4 1281.7,123 1281.8,121.9 1281.8,119.3 1281.9,119.8 1282,117.9 1282.6,117.1 1283.2,117.2 1283.9,115.1 1284.5,114.7 1285.1,114.7 1285.7,113.4 1286.3,112.2 1286.9,112.2 1287.6,111.1 1288.2,109.9 1288.8,108.2 1289.9,108.8 1291,108.2 1292.1,107.4 1293.2,106.8 1294.3,107.4 1295.4,106.3 1295.6,105.9 1295.8,105.3 1296,103.9 1296.1,102.5 1296.3,102.1 1296.5,100.8 1296.7,100.5 1296.9,99 1297.1,98.8 1297.3,97.7 1297.5,96.3 1297.6,94.4 1297.8,93.2 1298,93.6 1298.2,92.4 1298.4,91.1 1298.6,89.6 1298.9,88.4 1299.1,88.1 1299.3,86.9 1299.5,85.9 1299.8,85 1300,84.2 1300.2,82.1 1300.4,81.2 1300.7,81.5 1300.9,80.4 1301.1,79.3 1301.8,77 1302.4,76.2 1303.1,75.7 1303.8,75.2 1304.5,74.8 1305.1,73 1305.8,73 1306.8,71.7 1307.7,71.2 1308.7,71.8 1309.6,71.1 1310.5,70.8 1311.5,69.8 1312.5,69.5 1313.4,68.6 1314.3,68.3 1315.3,68.6 1316.2,68.3 1317.2,66.4 1318.2,66 1319.1,66.8 1320,66 1321,65.8 1322,64.3 1322.9,64.2 1323.8,63.4 1324.8,64 1325.8,62.7 1326.7,62.7 1327.6,62.9 1328.6,61.2 1329.5,62.3 1330.4,63.3 1331.2,64.4 1332.1,64.2 1333,64.8 1334,64.6 1335,66.2 1336,65.1 1337,65.4 1338,66.5 1339,66.7 1340,67.3 1340.6,67.5 1341.2,69.2 1341.8,68.7 1342.5,69.8 1343.1,71.5 1343.7,71.2 1344.3,70.7 1345,70.5 1345.6,69.5 1346.2,67.8 1346.9,66.6 1347.5,66 1348.5,66.4 1349.6,65.5 1350.6,64.8 1351.6,65.6 1352.7,65.1 1353.7,65.5 1354.8,65.2 1355.8,64.9 1356.8,63.8 1357.9,64.2 1358.9,63 1359.7,62.3 1360.4,61.7 1361.2,61.9 1361.9,61.1 1362.7,59.1 1363.7,59.1 1364.8,58.8 1365.8,58.6 1366.8,58.4 1367.8,58.1 1368.9,57.5 1369.9,57.9 1370.9,58.1 1371.9,57.4 1373,57.7 1374,56.9 1375,55.9 1376,56.7 1377,56.7 1378,55.3 1379,54.6 1380,55.2 1381,54.9 1382,54.7 1383.1,55.2 1384.1,54.3 1385.1,54.3 1386.1,52.7 1387.1,53.3 1388.1,53.4 1389.1,51.9 1390.1,51.6 1391.1,52.5 1392.1,53.1 1393.1,51.9 1394.1,53.1 1395.2,52.5 1396.2,53.8 1397.2,53.9 1398.2,53.4 1399.2,53.6 1400.2,54.9 1401.2,54.7 1402.2,55.4 1403.3,54.9 1404.3,55.1 1405.3,56.5 1406.3,56.2 1407.3,56.1 1408.4,56.4 1409.4,56.9 1410.5,57.1 1411.5,57.6 1412.6,56.9 1413.6,57.9 1414.7,57.8 1415.7,58.3 1416.7,58.9 1417.6,59.6 1418.6,60.3 1419.5,61.1 1420.5,61.1 1421.4,61.5 1422.4,61.4 1423.3,61.1 1424.2,59.9 1425.2,59.5 1426.2,58.5 1427.1,59.1 1428.1,59.1 1429,57.5 1430,56.7 1430.9,56.3 1431.9,56.3 1432.8,55.7 1433.8,56.5 1434.7,54.5 1435.7,54.6 1436.6,53.8 1437.6,54.4 1438.5,54.3 1439.5,52.8 1440.4,52.2 1441.4,52.7 1442.4,52.7 1443.5,53.1 1444.5,51.3 1445.5,51.2 1446.5,51.1 1447.6,51 1448.6,50.8 1449.6,51.5 1450.6,51 1451.7,50.1 1452.7,49.8 1453.7,49.8 1454.7,49.8 1455.7,51 1456.7,50.3 1457.8,50.9 1458.8,51.5 1459.8,51 1460.8,50.8 1461.8,52.1 1462.8,52.3 1463.9,51.4 1464.9,51.9 1465.9,52.8 1466.9,52.1 1467.7,52.3 1468.5,52.6 1469.3,54.9 1470.2,55.3 1471,55.3 1471.8,56.2 1472.6,56.8 1473.6,56.2 1474.6,57.3 1475.7,56.4 1476.7,55.5 1477.7,54.8 1478.7,55.5 1479.8,55.1 1480.8,55.6 1481.8,55.2 1482.8,54.8 1483.9,53.8 1484.9,53.6 1485.9,53.7 1486.9,53.4 1487.9,54.3 1488.9,53.5 1489.9,53.6 1490.9,54 1491.9,52.6 1492.9,52.9 1493.9,52 1494.9,53 1495.9,51.4 1496.9,52.7 1497.9,52.6 1498.9,52.4 1499.9,50.9 1500.9,51 1501.9,51.7 1502.9,50.4 1504,51.3 1505,51.5 1506.1,52.6 1507.2,52.1 1508.2,52.8 1509.3,52 1510.4,53.1 1511.4,52.6 1512.5,53" fill="none" stroke="#3273b3" stroke-width="2.5" stroke-linejoin="round"/><path d="M1005.6 55L1006.6 55.3M1006.6 55.3L1007.7 55.4M1007.7 55.4L1008.7 54.5M1008.7 54.5L1009.8 54.3M1009.8 54.3L1010.8 55.1M1010.8 55.1L1011.9 54.9M1011.9 54.9L1012.9 55.9M1012.9 55.9L1014 55.8M1014 55.8L1015 55.7M1015 55.7L1016 55.4M1016 55.4L1017 55.4M1017 55.4L1018 54.2M1018 54.2L1019 54.5M1019 54.5L1020 53.8M1020 53.8L1021 54.9M1021 54.9L1022 53.2M1022 53.2L1023 53.8M1023 53.8L1024 51.7M1024 51.7L1025 52.8M1025 52.8L1026 52.2M1026 52.2L1027 52.3M1027 52.3L1028 53.1M1028 53.1L1029 51.6M1029 51.6L1030 51.7M1030 51.7L1031 53.2M1031 53.2L1032 52.5M1032 52.5L1033 51.8M1033 51.8L1034 53.4M1034 53.4L1035 53.3M1035 53.3L1036 51.8M1036 51.8L1036.7 53.4M1036.7 53.4L1037.3 53.8M1037.3 53.8L1038 55.2M1038 55.2L1039 55.8M1039 55.8L1040 55M1040 55L1041 56M1041 56L1042 54.9M1042 54.9L1043 55.1M1043 55.1L1044 56.3M1044 56.3L1045 55.6M1045 55.6L1046 55.7M1046 55.7L1047 56M1047 56L1048 55.9M1048 55.9L1049 55.8M1049 55.8L1050 55.2M1050 55.2L1051 56.5M1051 56.5L1052 56.9M1052 56.9L1053 57M1053 57L1054 56.5M1054 56.5L1055 56M1055 56L1056 56.1M1056 56.1L1057 56.7M1057 56.7L1058 56.7M1058 56.7L1059 55.8M1059 55.8L1060 56M1060 56L1061 56.2M1061 56.2L1062 56.4M1062 56.4L1063 56.9M1063 56.9L1064 56.2M1064 56.2L1065 55.3M1065 55.3L1066 56.7M1066 56.7L1067 55.9M1067 55.9L1068 56M1068 56L1069 55.4M1069 55.4L1070 55.7M1070 55.7L1071 55.6M1071 55.6L1072 56.2M1072 56.2L1073 54.9M1073 54.9L1074 55.7M1074 55.7L1075 54.9M1075 54.9L1076 55.9M1076 55.9L1077 54.7M1077 54.7L1078 55.2M1078 55.2L1079 55.4M1079 55.4L1080 55.9M1080 55.9L1081 54.9M1081 54.9L1082 55.7M1082 55.7L1083 55.2M1083 55.2L1084 55.4M1084 55.4L1085 55.8M1085 55.8L1086 56.7M1086 56.7L1087 55.9M1087 55.9L1088 56.8M1088 56.8L1089 55.4M1089 55.4L1090 56.8M1090 56.8L1091 55.9M1091 55.9L1092 55.7M1092 55.7L1093 56.8M1093 56.8L1094 57.2M1094 57.2L1095 55.7M1095 55.7L1096 56.3M1096 56.3L1097 57.3M1097 57.3L1098 56.6M1098 56.6L1099 56.6M1099 56.6L1100 56.3M1100 56.3L1101 56.4M1101 56.4L1102 57.6M1102 57.6L1103 58.4M1103 58.4L1104 58.3M1104 58.3L1105 57.2M1105 57.2L1106 56.2M1106 56.2L1107 56.6M1107 56.6L1108 57.3M1108 57.3L1109 57.2M1109 57.2L1110 56.8M1110 56.8L1111 55.9M1111 55.9L1112 56.4M1112 56.4L1113 56.3M1113 56.3L1114 56.5M1114 56.5L1115 55.7M1115 55.7L1116 56.9M1116 56.9L1117 56.7M1117 56.7L1118 55.4M1118 55.4L1119 55.5M1119 55.5L1120 56.5M1120 56.5L1121 55.4M1121 55.4L1122 56.5M1122 56.5L1123 55.7M1123 55.7L1124 55.9M1124 55.9L1125 55.9M1125 55.9L1126.1 55.2M1126.1 55.2L1127.2 55.5M1127.2 55.5L1128.3 55.6M1128.3 55.6L1129.5 56.6M1129.5 56.6L1130.6 56.8M1130.6 56.8L1131.7 56M1131.7 56L1132.8 57.5M1132.8 57.5L1133.5 57.6M1133.5 57.6L1134.3 58.2M1134.3 58.2L1135 59.5M1135 59.5L1135.8 61.4M1135.8 61.4L1136.5 61.6M1136.5 61.6L1136.7 62.7M1136.7 62.7L1136.8 64.2M1136.8 64.2L1137 65.3M1137 65.3L1137.2 65.9M1137.2 65.9L1137.3 66.3M1137.3 66.3L1137.5 67.6M1137.5 67.6L1137.7 69.2M1137.7 69.2L1137.8 70M1137.8 70L1138 70.6M1138 70.6L1138.2 71.1M1138.2 71.1L1138.3 72.2M1138.3 72.2L1138.5 73.8M1138.5 73.8L1138.6 74.5M1138.6 74.5L1138.8 74.5M1138.8 74.5L1139 76.7M1139 76.7L1139.1 78.1M1139.1 78.1L1139.3 78.9M1139.3 78.9L1139.5 80.1M1139.5 80.1L1139.6 81.1M1139.6 81.1L1139.8 81.4M1139.8 81.4L1140 82.8M1140 82.8L1140.1 83.1M1140.1 83.1L1140.3 83.6M1140.3 83.6L1140.6 85M1140.6 85L1140.9 86M1140.9 86L1141.2 88.1M1141.2 88.1L1141.5 88.6M1141.5 88.6L1141.8 89.4M1141.8 89.4L1142.1 90.5M1142.1 90.5L1142.4 90.6M1142.4 90.6L1142.7 92.4M1142.7 92.4L1143 93.7M1143 93.7L1143.3 94.1M1143.3 94.1L1143.6 94.8M1143.6 94.8L1143.9 96.1M1143.9 96.1L1144.2 97M1144.2 97L1144.5 98.6M1144.5 98.6L1144.8 98.7M1144.8 98.7L1145.1 99.6M1145.1 99.6L1145.4 101M1145.4 101L1145.7 102.7M1145.7 102.7L1146 103.8M1146 103.8L1146.5 104.5M1146.5 104.5L1147 106M1147 106L1147.4 105.9M1147.4 105.9L1147.9 106.2M1147.9 106.2L1148.4 108M1148.4 108L1148.8 108.9M1148.8 108.9L1149.3 109.3M1149.3 109.3L1149.8 111.2M1149.8 111.2L1150.3 111.5M1150.3 111.5L1150.8 112.3M1150.8 112.3L1151.2 113.4M1151.2 113.4L1151.7 115.4M1151.7 115.4L1152.2 114.7M1152.2 114.7L1152.6 116.3M1152.6 116.3L1153.1 117.1M1153.1 117.1L1153.6 117.9M1153.6 117.9L1153.9 119.3M1153.9 119.3L1154.2 119.9M1154.2 119.9L1154.4 122.2M1154.4 122.2L1154.7 122.4M1154.7 122.4L1155 123.8M1155 123.8L1155.3 123.8M1155.3 123.8L1155.6 125.4M1155.6 125.4L1155.9 126.6M1155.9 126.6L1156.1 128.1M1156.1 128.1L1156.4 128M1156.4 128L1156.7 129.4M1156.7 129.4L1157 131.1M1157 131.1L1157.3 132.1M1157.3 132.1L1157.6 132M1157.6 132L1157.8 133.6M1157.8 133.6L1158.1 135M1158.1 135L1158.4 135.3M1158.4 135.3L1158.9 136.8M1158.9 136.8L1159.3 137.7M1159.3 137.7L1159.8 139.2M1159.8 139.2L1160.3 139.4M1160.3 139.4L1160.8 140.6M1160.8 140.6L1161.2 140.9M1161.2 140.9L1161.7 142.6M1161.7 142.6L1162.2 142.8M1162.2 142.8L1162.6 144M1162.6 144L1163.1 144.7M1163.1 144.7L1163.4 145.6M1163.4 145.6L1163.8 146.2M1163.8 146.2L1164.1 147.3M1164.1 147.3L1164.4 148.9M1164.4 148.9L1164.8 149.3M1164.8 149.3L1165.1 149.9M1165.1 149.9L1165.4 152.2M1165.4 152.2L1165.8 152.2M1165.8 152.2L1166.1 154.3M1166.1 154.3L1166.5 154.6M1166.5 154.6L1166.8 155.2M1166.8 155.2L1167.1 157M1167.1 157L1167.5 158M1167.5 158L1167.8 157.9M1167.8 157.9L1168.1 158.5M1168.1 158.5L1168.5 160.4M1168.5 160.4L1168.8 161.7M1168.8 161.7L1169.5 160.5M1169.5 160.5L1170.2 160M1170.2 160L1170.8 158.5M1170.8 158.5L1171.5 158.1M1171.5 158.1L1172.2 156.6M1172.2 156.6L1172.9 156.1M1172.9 156.1L1173.5 155.2M1173.5 155.2L1174.2 154.4M1174.2 154.4L1174.9 153.7M1174.9 153.7L1175.6 153.6M1175.6 153.6L1176.3 151.6M1176.3 151.6L1176.9 150.9M1176.9 150.9L1177.6 150.2M1177.6 150.2L1178.3 150.6M1178.3 150.6L1179.1 149.2M1179.1 149.2L1179.9 147.8M1179.9 147.8L1180.7 148.6M1180.7 148.6L1181.5 148M1181.5 148L1182.3 147.3M1182.3 147.3L1183.1 145.9M1183.1 145.9L1183.9 145.9M1183.9 145.9L1184.8 144.5M1184.8 144.5L1185.6 143.6M1185.6 143.6L1186.4 144.3M1186.4 144.3L1187.2 143.6M1187.2 143.6L1188 141.9M1188 141.9L1188.8 142.5M1188.8 142.5L1189.6 140.3M1189.6 140.3L1190.5 140.5M1190.5 140.5L1191.5 139.6M1191.5 139.6L1192.4 139.5M1192.4 139.5L1193.4 139.1M1193.4 139.1L1194.3 139.7M1194.3 139.7L1195.2 138.6M1195.2 138.6L1196.2 138M1196.2 138L1197.1 137.6M1197.1 137.6L1198.1 137.4M1198.1 137.4L1199 138.1M1199 138.1L1199.5 138.5M1199.5 138.5L1200 138.6M1200 138.6L1200.5 140.6M1200.5 140.6L1201 141.3M1201 141.3L1201.2 140.1M1201.2 140.1L1201.4 139.1M1201.4 139.1L1201.6 138.3M1201.6 138.3L1201.8 137.5M1201.8 137.5L1202.1 135.9M1202.1 135.9L1202.3 135.1M1202.3 135.1L1202.5 133.8M1202.5 133.8L1202.7 133M1202.7 133L1202.9 131.5M1202.9 131.5L1203 130.5M1203 130.5L1203 129.6M1203 129.6L1203.1 129M1203.1 129L1203.1 127.1M1203.1 127.1L1203.2 127.3M1203.2 127.3L1203.2 125.4M1203.2 125.4L1203.2 125.1M1203.2 125.1L1203.3 123.7M1203.3 123.7L1203.4 123.2M1203.4 123.2L1203.4 121.6M1203.4 121.6L1203.5 120.1M1203.5 120.1L1203.5 119.1M1203.5 119.1L1203.6 118.4M1203.6 118.4L1203.6 117.6M1203.6 117.6L1203.7 116.7M1203.7 116.7L1203.7 114.4M1203.7 114.4L1203.8 113.2M1203.8 113.2L1203.8 112.3M1203.8 112.3L1203.9 111.2M1203.9 111.2L1203.9 110.1M1203.9 110.1L1204.6 109.2M1204.6 109.2L1205.2 108.8M1205.2 108.8L1205.9 107.8M1205.9 107.8L1206.6 108M1206.6 108L1207.3 107M1207.3 107L1207.9 106.9M1207.9 106.9L1208.6 106M1208.6 106L1209.5 105.3M1209.5 105.3L1210.5 105.2M1210.5 105.2L1211.4 103.2M1211.4 103.2L1212.4 103.2M1212.4 103.2L1213.3 104.1M1213.3 104.1L1214.3 102.9M1214.3 102.9L1215.2 102M1215.2 102L1216.2 102.6M1216.2 102.6L1217.1 101.6M1217.1 101.6L1218.1 101.5M1218.1 101.5L1219.1 101.1M1219.1 101.1L1220.1 100.9M1220.1 100.9L1221.1 100.7M1221.1 100.7L1222.1 101.6M1222.1 101.6L1223.1 102.2M1223.1 102.2L1224.1 102.3M1224.1 102.3L1225.1 101.9M1225.1 101.9L1226.1 102.2M1226.1 102.2L1227.2 101.2M1227.2 101.2L1228.2 101M1228.2 101L1229.2 102.2M1229.2 102.2L1230.2 101.6M1230.2 101.6L1231.2 101.7M1231.2 101.7L1232.2 100.5M1232.2 100.5L1233.2 100.9M1233.2 100.9L1234.2 101.4M1234.2 101.4L1235.2 101.8M1235.2 101.8L1235.5 100.7M1235.5 100.7L1235.8 99.3M1235.8 99.3L1236.1 97.3M1236.1 97.3L1236.1 98.4M1236.1 98.4L1236.1 100.3M1236.1 100.3L1236.1 101.5M1236.1 101.5L1236.1 101.6M1236.1 101.6L1236.1 102.1M1236.1 102.1L1236.1 103.9M1236.1 103.9L1236.1 104.8M1236.1 104.8L1236.1 105.5M1236.1 105.5L1236.1 106.2M1236.1 106.2L1236.1 107.5M1236.1 107.5L1236.1 109M1236.1 109L1236.1 109.1M1236.1 109.1L1236.1 110.9M1236.1 110.9L1236.1 112.6M1236.1 112.6L1236.1 113.3M1236.1 113.3L1236.1 113.4M1236.1 113.4L1236.1 114.7M1236.1 114.7L1236.1 115.1M1236.1 115.1L1236.1 117.3M1236.1 117.3L1236.1 118.1M1236.1 118.1L1236.1 118.3M1236.1 118.3L1236.1 120M1236.1 120L1236.1 121.1M1236.1 121.1L1236.1 122.1M1236.1 122.1L1236.1 122.7M1236.1 122.7L1236.1 123.6M1236.1 123.6L1236.1 124.7M1236.1 124.7L1236.1 126.9M1236.1 126.9L1236.4 126.7M1236.4 126.7L1236.7 128M1236.7 128L1237 129M1237 129L1237.4 129.5M1237.4 129.5L1237.7 130.9M1237.7 130.9L1238 131.5M1238 131.5L1238.3 132.8M1238.3 132.8L1238.6 133.9M1238.6 133.9L1238.9 134.8M1238.9 134.8L1239.2 136.9M1239.2 136.9L1239.5 136.8M1239.5 136.8L1239.9 137.9M1239.9 137.9L1240.2 139.5M1240.2 139.5L1240.5 140M1240.5 140L1240.8 141.2M1240.8 141.2L1241 142.5M1241 142.5L1241.2 142.4M1241.2 142.4L1241.5 144.5M1241.5 144.5L1241.7 144.5M1241.7 144.5L1241.9 145.8M1241.9 145.8L1242.1 147.8M1242.1 147.8L1242.4 149.1M1242.4 149.1L1242.6 149.5M1242.6 149.5L1242.8 149.6M1242.8 149.6L1243 151.1M1243 151.1L1243.3 151.8M1243.3 151.8L1243.5 153.8M1243.5 153.8L1243.7 153.7M1243.7 153.7L1243.9 154.7M1243.9 154.7L1244.2 156.4M1244.2 156.4L1244.4 157.4M1244.4 157.4L1244.6 158.4M1244.6 158.4L1244.9 159.1M1244.9 159.1L1245.2 160.9M1245.2 160.9L1245.5 161M1245.5 161L1245.9 162.8M1245.9 162.8L1246.2 162.8M1246.2 162.8L1246.5 163.8M1246.5 163.8L1246.8 164.6M1246.8 164.6L1247.1 166.2M1247.1 166.2L1247.5 167.2M1247.5 167.2L1247.8 167.2M1247.8 167.2L1248.1 168.7M1248.1 168.7L1248.4 170M1248.4 170L1248.8 168.7M1248.8 168.7L1249.1 168M1249.1 168L1249.5 167M1249.5 167L1249.8 166.2M1249.8 166.2L1250.2 164.6M1250.2 164.6L1250.5 163.6M1250.5 163.6L1250.9 162.1M1250.9 162.1L1251.2 162.7M1251.2 162.7L1252.3 162.1M1252.3 162.1L1253.3 161M1253.3 161L1254.4 161.7M1254.4 161.7L1255.4 161.2M1255.4 161.2L1256.5 159.5M1256.5 159.5L1257.5 160.2M1257.5 160.2L1258.4 158.9M1258.4 158.9L1259.4 158.1M1259.4 158.1L1260.3 157.5M1260.3 157.5L1261.3 157.2M1261.3 157.2L1262.2 156M1262.2 156L1263.2 155.5M1263.2 155.5L1263.3 154.6M1263.3 154.6L1263.3 153.9M1263.3 153.9L1263.4 152.7M1263.4 152.7L1263.4 151.6M1263.4 151.6L1263.5 151.9M1263.5 151.9L1263.6 150M1263.6 150L1263.6 149.2M1263.6 149.2L1263.7 148.4M1263.7 148.4L1263.7 148M1263.7 148L1263.8 145.6M1263.8 145.6L1263.9 144.7M1263.9 144.7L1263.9 144.9M1263.9 144.9L1264 144M1264 144L1264 143M1264 143L1264.1 141.3M1264.1 141.3L1264.2 139.9M1264.2 139.9L1264.2 138.6M1264.2 138.6L1264.3 138.9M1264.3 138.9L1264.4 137.6M1264.4 137.6L1264.4 136.2M1264.4 136.2L1264.5 135.6M1264.5 135.6L1264.5 133.7M1264.5 133.7L1264.6 133.2M1264.6 133.2L1264.7 132.8M1264.7 132.8L1264.7 130.4M1264.7 130.4L1264.8 130.3M1264.8 130.3L1264.9 128.5M1264.9 128.5L1264.9 128.6M1264.9 128.6L1265 127.6M1265 127.6L1265 126.3M1265 126.3L1265.1 124.9M1265.1 124.9L1265.2 123.1M1265.2 123.1L1265.2 122.9M1265.2 122.9L1265.3 121.7M1265.3 121.7L1265.4 120.8M1265.4 120.8L1265.4 119.2M1265.4 119.2L1265.5 119.7M1265.5 119.7L1265.6 117.9M1265.6 117.9L1265.6 117M1265.6 117L1265.7 116.5M1265.7 116.5L1265.7 115.6M1265.7 115.6L1265.8 113.9M1265.8 113.9L1265.9 112.9M1265.9 112.9L1265.9 112.4M1265.9 112.4L1266 110.6M1266 110.6L1266.1 110.5M1266.1 110.5L1266.1 107.9M1266.1 107.9L1266.2 108.3M1266.2 108.3L1266.3 106.8M1266.3 106.8L1266.3 105.9M1266.3 105.9L1266.4 105.6M1266.4 105.6L1266.5 103.2M1266.5 103.2L1266.5 102.5M1266.5 102.5L1266.6 102.2M1266.6 102.2L1266.7 101.1M1266.7 101.1L1266.7 99.7M1266.7 99.7L1266.8 99.1M1266.8 99.1L1266.9 97.9M1266.9 97.9L1267 97.3M1267 97.3L1267 95.9M1267 95.9L1267.1 94.3M1267.1 94.3L1267.2 93.2M1267.2 93.2L1267.2 91.8M1267.2 91.8L1267.3 90.9M1267.3 90.9L1267.4 89.7M1267.4 89.7L1267.4 90.4M1267.4 90.4L1267.5 87.8M1267.5 87.8L1267.6 87.7M1267.6 87.7L1267.6 85.8M1267.6 85.8L1267.7 86.3M1267.7 86.3L1267.8 84.5M1267.8 84.5L1267.8 82.8M1267.8 82.8L1267.9 83M1267.9 83L1268.4 82.1M1268.4 82.1L1268.9 81.4M1268.9 81.4L1269.3 79.1M1269.3 79.1L1269.8 78.4M1269.8 78.4L1270.3 77.9M1270.3 77.9L1270.8 76.3M1270.8 76.3L1271.2 75.9M1271.2 75.9L1271.7 75.2M1271.7 75.2L1272.7 74.9M1272.7 74.9L1273.6 74.7M1273.6 74.7L1274.5 74.2M1274.5 74.2L1275.5 73M1275.5 73L1276.5 73.5M1276.5 73.5L1277.4 72.6M1277.4 72.6L1278.3 71.8M1278.3 71.8L1279.3 71.1M1279.3 71.1L1280.2 71.9M1280.2 71.9L1281.2 71M1281.2 71L1282.2 70.2M1282.2 70.2L1283.1 70.5M1283.1 70.5L1284 70M1284 70L1285 69.5M1285 69.5L1286 69.6M1286 69.6L1286.9 69.2M1286.9 69.2L1287.8 69.6M1287.8 69.6L1288.8 70.9M1288.8 70.9L1289.7 71.3M1289.7 71.3L1290.6 70.7M1290.6 70.7L1291.6 72.2M1291.6 72.2L1292.5 71.7M1292.5 71.7L1293.7 72.8M1293.7 72.8L1294.9 71.2M1294.9 71.2L1296.1 71.7M1296.1 71.7L1297.3 72.8M1297.3 72.8L1297.7 73.2M1297.7 73.2L1298.1 74.3M1298.1 74.3L1298.5 74.3M1298.5 74.3L1298.9 75.1M1298.9 75.1L1299.3 77.5M1299.3 77.5L1299.7 76.9M1299.7 76.9L1300.1 78M1300.1 78L1300.2 79.5M1300.2 79.5L1300.3 81.3M1300.3 81.3L1300.4 82.1M1300.4 82.1L1300.5 83.7M1300.5 83.7L1300.7 84.4M1300.7 84.4L1300.8 84.8M1300.8 84.8L1300.9 86.7M1300.9 86.7L1301 86.7M1301 86.7L1301.1 87.3M1301.1 87.3L1301.9 89.6M1301.9 89.6L1302.7 90.1M1302.7 90.1L1303.4 90.3M1303.4 90.3L1304.2 90.6M1304.2 90.6L1305 90.7M1305 90.7L1305.8 91.4M1305.8 91.4L1307.1 91.1M1307.1 91.1L1308.3 91.2M1308.3 91.2L1309.6 91.9M1309.6 91.9L1310.1 93.5M1310.1 93.5L1310.5 94.5M1310.5 94.5L1311 94.7M1311 94.7L1311.5 95.9M1311.5 95.9L1311.9 96.5M1311.9 96.5L1312.4 98M1312.4 98L1312.8 96.9M1312.8 96.9L1313.1 96.5M1313.1 96.5L1313.5 95.3M1313.5 95.3L1313.8 94.1M1313.8 94.1L1314.2 93M1314.2 93L1314.6 91.3M1314.6 91.3L1314.9 90.9M1314.9 90.9L1315.3 89.9M1315.3 89.9L1315.9 88.5M1315.9 88.5L1316.6 87.8M1316.6 87.8L1317.2 87.3M1317.2 87.3L1317.8 86M1317.8 86L1318.5 86M1318.5 86L1319.1 84.6M1319.1 84.6L1319.7 85M1319.7 85L1320.4 83.6M1320.4 83.6L1321 82.4M1321 82.4L1322 82.6M1322 82.6L1322.9 82.8M1322.9 82.8L1323.8 82.8M1323.8 82.8L1324.8 84.5M1324.8 84.5L1325.8 84.7M1325.8 84.7L1326.7 84.6M1326.7 84.6L1326.8 83.5M1326.8 83.5L1327 81.5M1327 81.5L1327.1 81.1M1327.1 81.1L1327.2 79.4M1327.2 79.4L1327.3 78.6M1327.3 78.6L1327.5 77.9M1327.5 77.9L1327.6 76.1M1327.6 76.1L1328.3 75.5M1328.3 75.5L1328.9 75.6M1328.9 75.6L1329.6 74.4M1329.6 74.4L1330.2 74.4M1330.2 74.4L1330.9 72.3M1330.9 72.3L1331.6 71.4M1331.6 71.4L1332.2 72.2M1332.2 72.2L1332.9 70.8M1332.9 70.8L1333.5 70.2M1333.5 70.2L1334.2 69.2M1334.2 69.2L1334.9 67.7M1334.9 67.7L1335.7 68.5M1335.7 68.5L1336.4 66.9M1336.4 66.9L1337.1 66.9M1337.1 66.9L1337.9 64.8M1337.9 64.8L1338.6 64.3M1338.6 64.3L1339.3 64.1M1339.3 64.1L1340 62.8M1340 62.8L1340.8 63.2M1340.8 63.2L1341.5 61.4M1341.5 61.4L1342.2 60.3M1342.2 60.3L1343 59.7M1343 59.7L1343.7 59.2M1343.7 59.2L1344.8 60.2M1344.8 60.2L1345.8 59.9M1345.8 59.9L1346.9 59.3M1346.9 59.3L1347.9 58.6M1347.9 58.6L1349 57.7M1349 57.7L1350 58.9M1350 58.9L1351.1 57.4M1351.1 57.4L1352.1 57.4M1352.1 57.4L1353.2 57.6M1353.2 57.6L1354.1 57.8M1354.1 57.8L1354.9 56.1M1354.9 56.1L1355.8 55.4M1355.8 55.4L1356.7 56.4M1356.7 56.4L1357.5 54.3M1357.5 54.3L1358.4 55.1M1358.4 55.1L1359.2 53.5M1359.2 53.5L1360.1 53.3M1360.1 53.3L1361 52.6M1361 52.6L1361.8 52.5M1361.8 52.5L1362.7 52.9M1362.7 52.9L1363.8 52.9M1363.8 52.9L1364.8 52.6M1364.8 52.6L1365.9 52M1365.9 52L1366.9 52.4M1366.9 52.4L1368 52.8M1368 52.8L1369 53.9M1369 53.9L1370.1 54.3M1370.1 54.3L1371.1 52.9M1371.1 52.9L1372.2 53.7M1372.2 53.7L1372.9 55.8M1372.9 55.8L1373.7 55.3M1373.7 55.3L1374.4 56.1M1374.4 56.1L1375.2 57.3M1375.2 57.3L1375.9 59.4M1375.9 59.4L1376.9 58M1376.9 58L1377.8 58.5M1377.8 58.5L1378.8 57.1M1378.8 57.1L1379.7 57.7M1379.7 57.7L1380.6 56.5M1380.6 56.5L1381.6 57M1381.6 57L1382.5 57.7M1382.5 57.7L1383.5 58.4M1383.5 58.4L1384.5 58.1M1384.5 58.1L1385.4 59.6M1385.4 59.6L1386.3 59M1386.3 59L1387.3 60.5M1387.3 60.5L1388.2 60.9M1388.2 60.9L1389.2 61.5M1389.2 61.5L1390.2 59.5M1390.2 59.5L1391.1 59.4M1391.1 59.4L1392 59.8M1392 59.8L1393 59.7M1393 59.7L1394 58.2M1394 58.2L1394.9 58.7M1394.9 58.7L1395.8 57.8M1395.8 57.8L1396.8 56.6M1396.8 56.6L1397.8 56.3M1397.8 56.3L1398.7 55.8M1398.7 55.8L1399.6 55.8M1399.6 55.8L1400.6 56.7M1400.6 56.7L1401.7 56M1401.7 56L1402.8 56M1402.8 56L1403.9 55.8M1403.9 55.8L1404.9 54.6M1404.9 54.6L1406 54.9M1406 54.9L1407.1 54.5M1407.1 54.5L1408.2 54.3M1408.2 54.3L1409.2 52.9M1409.2 52.9L1410.3 54M1410.3 54L1411.3 52.3M1411.3 52.3L1412.3 52.5M1412.3 52.5L1413.3 52.6M1413.3 52.6L1414.4 52.4M1414.4 52.4L1415.4 52.2M1415.4 52.2L1416.4 50.9M1416.4 50.9L1417.4 50.5M1417.4 50.5L1418.5 51M1418.5 51L1419.5 49.4M1419.5 49.4L1420.5 51.2M1420.5 51.2L1421.4 50.5M1421.4 50.5L1422.3 51M1422.3 51L1423.3 51.1M1423.3 51.1L1424.2 52.2M1424.2 52.2L1425.2 51.5M1425.2 51.5L1426.2 51.8M1426.2 51.8L1427.1 52M1427.1 52L1428.1 52.4M1428.1 52.4L1429 53.6M1429 53.6L1430 54.6M1430 54.6L1430.9 53.1M1430.9 53.1L1431.9 54.3M1431.9 54.3L1432.8 54.5M1432.8 54.5L1433.8 54.8M1433.8 54.8L1434.7 55.3M1434.7 55.3L1435.7 55.3M1435.7 55.3L1436.6 56.2M1436.6 56.2L1437.5 56.3M1437.5 56.3L1438.5 56.3M1438.5 56.3L1439.5 56.9M1439.5 56.9L1440.4 58.7M1440.4 58.7L1441.3 58.7M1441.3 58.7L1442.3 59.6M1442.3 59.6L1443.3 59.4M1443.3 59.4L1444.4 59.5M1444.4 59.5L1445.4 58.7M1445.4 58.7L1446.4 58.7M1446.4 58.7L1447.5 60.4M1447.5 60.4L1448.5 60.1M1448.5 60.1L1449.6 60.3M1449.6 60.3L1450.6 59.4M1450.6 59.4L1451.6 60.8M1451.6 60.8L1452.7 60.5M1452.7 60.5L1453.7 59.9M1453.7 59.9L1454.7 59.5M1454.7 59.5L1455.6 60.3M1455.6 60.3L1456.5 59.1M1456.5 59.1L1457.5 57.5M1457.5 57.5L1458.5 56.9M1458.5 56.9L1459.4 57.5M1459.4 57.5L1460.3 56.2M1460.3 56.2L1461.3 55.9M1461.3 55.9L1462.3 54.9M1462.3 54.9L1463.4 54.6M1463.4 54.6L1464.4 54.9M1464.4 54.9L1465.4 54.4M1465.4 54.4L1466.4 53.6M1466.4 53.6L1467.5 53.2M1467.5 53.2L1468.5 53.4M1468.5 53.4L1469.5 52.4M1469.5 52.4L1470.5 52M1470.5 52L1471.6 52.4M1471.6 52.4L1472.6 51.3M1472.6 51.3L1473.6 52.4M1473.6 52.4L1474.6 52.4M1474.6 52.4L1475.7 52.2M1475.7 52.2L1476.7 52.6M1476.7 52.6L1477.7 51.1M1477.7 51.1L1478.7 51.5M1478.7 51.5L1479.8 51.4M1479.8 51.4L1480.8 50.7M1480.8 50.7L1481.8 52.1M1481.8 52.1L1482.8 50.5M1482.8 50.5L1483.9 52.1M1483.9 52.1L1484.9 51.5M1484.9 51.5L1485.9 52M1485.9 52L1486.9 50.5M1486.9 50.5L1487.9 52.3M1487.9 52.3L1488.9 52.6M1488.9 52.6L1489.9 52.5M1489.9 52.5L1490.9 52.4M1490.9 52.4L1491.9 52.7M1491.9 52.7L1492.9 52.6M1492.9 52.6L1493.9 53.5M1493.9 53.5L1494.9 53.3M1494.9 53.3L1495.9 53.4M1495.9 53.4L1496.9 53.4M1496.9 53.4L1497.9 54M1497.9 54L1498.9 54.2M1498.9 54.2L1499.9 55M1499.9 55L1500.9 54.9M1500.9 54.9L1501.9 54.4M1501.9 54.4L1502.9 55.3M1502.9 55.3L1504 54.2M1504 54.2L1505 54.4M1505 54.4L1506.1 54.3M1506.1 54.3L1507.2 54.5M1507.2 54.5L1508.2 53.1M1508.2 53.1L1509.3 53M1509.3 53L1510.4 52.9M1510.4 52.9L1511.4 53.4M1511.4 53.4L1512.5 53" fill="none" stroke="#cd4d1b" stroke-width="2.6" stroke-dasharray="4.2 2.2"/><polyline points="1005.6,282.2 1006.6,283 1007.7,283 1008.7,283.4 1009.8,282.3 1010.8,282.4 1011.9,282.3 1012.9,282.5 1014,283.5 1015,282.4 1016,282.9 1017,282.2 1018,282.1 1019,282.1 1020,282.6 1021,282 1022,280.7 1023,280.4 1024,279.5 1025,280.8 1026,280.7 1027,280.7 1028,280.7 1029,280.5 1030,280.9 1031,280.6 1032,279.7 1033,280.7 1034,280.1 1035,280.6 1036,280.2 1036.7,281 1037.3,281.9 1038,283 1039,282.8 1040,282.5 1041,283.8 1042,283.8 1043,284.2 1044,283.7 1045,283.5 1046,283.9 1047,282.8 1048,283.8 1049,283.5 1050,283 1051,283.1 1052,283.7 1053,283.3 1054,283.7 1055,284 1056,283.7 1057,283.3 1058,284 1059,283.6 1060,283.6 1061,283.5 1062,283.7 1063,283.1 1064,284.1 1065,284.6 1066,283.5 1067,284 1068,284.3 1069,282.7 1070,282.8 1071,283.9 1072,283.9 1073,283.5 1074,282.6 1075,282.9 1076,283.8 1077,283.9 1078,283.7 1079,282.7 1080,283.9 1081,283.1 1082,283.7 1083,282.7 1084,284.2 1085,283.6 1086,283.9 1087,283 1088,283.7 1089,283.7 1090,283.8 1091,283.5 1092,284.2 1093,283.7 1094,283.7 1095,283.6 1096,284.6 1097,283.7 1098,284 1099,283.9 1100,285 1101,285 1102,285.1 1103,284.3 1104,284.8 1105,284.5 1106,283.9 1107,283.6 1108,285.3 1109,283.6 1110,283.7 1111,283.6 1112,284.1 1113,283.1 1114,283.8 1115,283.5 1116,284.3 1117,282.7 1118,283.3 1119,283.5 1120,284.3 1121,283.4 1122,283.3 1123,283.5 1124,282.8 1125,282.3 1126.1,283.3 1127.2,284.2 1128.3,284.1 1129.5,283.4 1130.6,284.4 1131.7,284.8 1132.8,284 1133.5,285.5 1134.3,286 1135,286.8 1135.8,287.8 1136.5,288.6 1136.7,289.8 1136.8,290.3 1137,291.9 1137.2,292.3 1137.3,294.5 1137.5,295.2 1137.7,295.1 1137.8,297.5 1138,297.5 1138.2,299 1138.3,300.1 1138.5,300.7 1138.6,301.6 1138.8,302.9 1139,303.3 1139.1,305.6 1139.3,305.3 1139.5,307.5 1139.6,307.4 1139.8,308.6 1140,309.7 1140.1,310.1 1140.3,311.2 1140.6,312.6 1140.9,313.8 1141.2,315.6 1141.5,316.8 1141.8,316.1 1142.1,318 1142.4,318.2 1142.7,320.4 1143,320.6 1143.3,322.6 1143.6,323 1143.9,323.2 1144.2,324 1144.5,325.4 1144.8,327.6 1145.1,327.3 1145.4,328.9 1145.7,329.7 1146,330.6 1146.5,332.4 1147,332.3 1147.4,334.1 1147.9,335 1148.4,336.4 1148.8,336.6 1149.3,338.3 1149.8,338.3 1150.3,339.5 1150.8,340.6 1151.2,341.9 1151.7,342.9 1152.2,342.5 1152.6,343.5 1153.1,345.1 1153.6,346.6 1153.9,347.1 1154.2,347.7 1154.4,349.8 1154.7,349.7 1155,350.3 1155.3,351.2 1155.6,352.2 1155.9,354.5 1156.1,354.3 1156.4,356.4 1156.7,357.7 1157,359 1157.3,359.6 1157.6,359.9 1157.8,361.3 1158.1,362.7 1158.4,363.5 1158.9,363.7 1159.3,365.5 1159.8,365.2 1160.3,366.6 1160.8,368.7 1161.2,368.7 1161.7,369.3 1162.2,371.2 1162.6,371.6 1163.1,371.7 1163.4,372.7 1163.8,374.1 1164.1,375.1 1164.4,377.2 1164.8,376.9 1165.1,378.9 1165.4,379.9 1165.8,380 1166.1,382 1166.5,382.5 1166.8,383 1167.1,383.5 1167.5,384.8 1167.8,386.6 1168.1,386.9 1168.5,387.2 1168.8,388.5 1169.5,387.8 1170.2,386.5 1170.8,386.4 1171.5,384.6 1172.2,385.2 1172.9,383.3 1173.5,382.3 1174.2,382.4 1174.9,381.1 1175.6,381.3 1176.3,379.8 1176.9,379.1 1177.6,378.8 1178.3,376.9 1179.1,377.2 1179.9,376.4 1180.7,375.4 1181.5,375.8 1182.3,373.5 1183.1,374.4 1183.9,372.5 1184.8,373.1 1185.6,371.2 1186.4,370.5 1187.2,370.6 1188,370.8 1188.8,369 1189.6,368.8 1190.5,368.6 1191.5,367.6 1192.4,367.7 1193.4,366.4 1194.3,366.8 1195.2,367 1196.2,365.9 1197.1,365.3 1198.1,364.6 1199,365.4 1199.5,365.8 1200,367.6 1200.5,368.3 1201,368.1 1201.2,368.5 1201.4,367.5 1201.6,366.2 1201.8,365.2 1202.1,363.8 1202.3,362.9 1202.5,361.7 1202.7,360.5 1202.9,358.9 1203,357.6 1203,357.6 1203.1,356.4 1203.1,354.3 1203.2,354.4 1203.2,353.3 1203.2,352 1203.3,351.5 1203.4,350.6 1203.4,348.7 1203.5,348.4 1203.5,346.8 1203.6,345.9 1203.6,344.6 1203.7,344.5 1203.7,342.6 1203.8,342.4 1203.8,340.3 1203.9,339.9 1203.9,339.2 1204.6,338 1205.2,336.6 1205.9,335.3 1206.6,335.2 1207.3,334.3 1207.9,334.2 1208.6,333.3 1209.5,333.3 1210.5,331.9 1211.4,331.5 1212.4,331.4 1213.3,331.3 1214.3,329.8 1215.2,329.6 1216.2,329.1 1217.1,329.1 1218.1,328.6 1219.1,329.8 1220.1,328.5 1221.1,329.8 1222.1,328.6 1223.1,328.5 1224.1,329.9 1225.1,328.3 1226.1,328.3 1227.2,328.3 1228.2,328.2 1229.2,328.8 1230.2,328.5 1231.2,328.4 1232.2,328.1 1233.2,329.4 1234.2,328.2 1235.2,328.5 1235.5,327.9 1235.8,327.2 1236.1,325.5 1236.1,326.6 1236.1,327.6 1236.1,328.8 1236.1,329.9 1236.1,329.7 1236.1,330.5 1236.1,332.5 1236.1,333.3 1236.1,334.4 1236.1,335.9 1236.1,335.8 1236.1,337.7 1236.1,338.3 1236.1,339.3 1236.1,340 1236.1,341 1236.1,342.6 1236.1,343.6 1236.1,345.2 1236.1,345.1 1236.1,346.9 1236.1,346.8 1236.1,348.8 1236.1,348.9 1236.1,351.2 1236.1,352.4 1236.1,352.1 1236.1,354.2 1236.4,354.1 1236.7,355.3 1237,355.9 1237.4,357.5 1237.7,358 1238,360 1238.3,360.8 1238.6,361.6 1238.9,363.1 1239.2,363.3 1239.5,364.4 1239.9,365.5 1240.2,365.9 1240.5,368.5 1240.8,368.1 1241,369.1 1241.2,371.3 1241.5,372.4 1241.7,372.7 1241.9,373.7 1242.1,374.2 1242.4,374.9 1242.6,376.8 1242.8,377.3 1243,378.2 1243.3,380.5 1243.5,379.9 1243.7,381.6 1243.9,383.3 1244.2,384.2 1244.4,384.1 1244.6,386.2 1244.9,386.9 1245.2,387.9 1245.5,389.4 1245.9,390.1 1246.2,390.7 1246.5,392 1246.8,392.4 1247.1,393.5 1247.5,394.9 1247.8,395.5 1248.1,396 1248.4,396.3 1248.8,396.8 1249.1,395 1249.5,394.2 1249.8,393 1250.2,392.5 1250.5,391.3 1250.9,391.2 1251.2,389.8 1252.3,389.3 1253.3,389.3 1254.4,388.4 1255.4,388.1 1256.5,388.2 1257.5,387.6 1258.4,387.1 1259.4,386.8 1260.3,385.6 1261.3,385.1 1262.2,383.9 1263.2,383.4 1263.3,382.8 1263.3,381.9 1263.4,381.6 1263.4,379.1 1263.5,378.6 1263.6,378.3 1263.6,376.8 1263.7,376.5 1263.7,374.2 1263.8,374.3 1263.9,372.7 1263.9,371.9 1264,370 1264,369.6 1264.1,369.3 1264.2,368.2 1264.2,366.9 1264.3,365.6 1264.4,363.9 1264.4,364.1 1264.5,362.6 1264.5,362.1 1264.6,360.9 1264.7,359.5 1264.7,359.3 1264.8,357 1264.9,357.5 1264.9,354.9 1265,355.5 1265,353.8 1265.1,352.5 1265.2,352.4 1265.2,350.6 1265.3,349.6 1265.4,347.7 1265.4,348.1 1265.5,346.8 1265.6,345 1265.6,343.8 1265.7,343.3 1265.7,343.2 1265.8,342.1 1265.9,340.4 1265.9,338.6 1266,339 1266.1,336.8 1266.1,336.8 1266.2,335.4 1266.3,335.2 1266.3,332.7 1266.4,332.8 1266.5,331.7 1266.5,329.4 1266.6,329.4 1266.7,327.9 1266.7,327.6 1266.8,327.1 1266.9,325.5 1267,324.2 1267,323.4 1267.1,321.7 1267.2,321.1 1267.2,319.5 1267.3,319.5 1267.4,317.3 1267.4,317.1 1267.5,315.5 1267.6,315.2 1267.6,313.3 1267.7,312.2 1267.8,312.3 1267.8,311.4 1267.9,310.7 1268.4,309.4 1268.9,309 1269.3,306.5 1269.8,306.4 1270.3,305.5 1270.8,303.7 1271.2,302.7 1271.7,301.9 1272.7,302.1 1273.6,302.2 1274.5,301.7 1275.5,301.1 1276.5,299.9 1277.4,300.7 1278.3,300 1279.3,299 1280.2,299.5 1281.2,298.4 1282.2,298.2 1283.1,298.1 1284,298.2 1285,296.7 1286,297 1286.9,296.2 1287.8,297.5 1288.8,298.2 1289.7,297.7 1290.6,299 1291.6,299.1 1292.5,299.1 1293.7,299.2 1294.9,299.7 1296.1,300.2 1297.3,299.8 1297.7,299.6 1298.1,302 1298.5,302.6 1298.9,303.2 1299.3,303.8 1299.7,305.2 1300.1,306.5 1300.2,306.8 1300.3,307.7 1300.4,310 1300.5,310.3 1300.7,310.7 1300.8,313.2 1300.9,312.9 1301,314.4 1301.1,315.9 1301.9,316.6 1302.7,317.7 1303.4,317 1304.2,318.4 1305,319.5 1305.8,319.4 1307.1,319.9 1308.3,319.4 1309.6,319.9 1310.1,321.3 1310.5,321.1 1311,322.7 1311.5,323 1311.9,324.9 1312.4,325.6 1312.8,324.8 1313.1,323.9 1313.5,322.5 1313.8,322.2 1314.2,319.8 1314.6,319.6 1314.9,317.8 1315.3,317.7 1315.9,317.1 1316.6,315.5 1317.2,315.6 1317.8,314.1 1318.5,312.8 1319.1,312 1319.7,311.8 1320.4,310.6 1321,309.2 1322,310 1322.9,311.5 1323.8,310.9 1324.8,311.6 1325.8,311.5 1326.7,311.1 1326.8,311 1327,309.2 1327.1,308 1327.2,307.8 1327.3,306.8 1327.5,304.5 1327.6,305.1 1328.3,302.7 1328.9,302.2 1329.6,301.7 1330.2,301.8 1330.9,300.9 1331.6,300.2 1332.2,298.9 1332.9,299 1333.5,296.8 1334.2,297.5 1334.9,295.2 1335.7,294.6 1336.4,295 1337.1,294.3 1337.9,293.4 1338.6,291.9 1339.3,292.2 1340,290.9 1340.8,289.6 1341.5,288.7 1342.2,289.5 1343,287.1 1343.7,286.7 1344.8,286.7 1345.8,287.5 1346.9,287.2 1347.9,287 1349,286.4 1350,285.1 1351.1,286.2 1352.1,285 1353.2,286.1 1354.1,285.6 1354.9,283.5 1355.8,284.2 1356.7,282.8 1357.5,282 1358.4,282.9 1359.2,281.6 1360.1,280.9 1361,280.8 1361.8,279.4 1362.7,279.6 1363.8,280.2 1364.8,280.8 1365.9,279.7 1366.9,281.3 1368,280 1369,280.4 1370.1,280.9 1371.1,280.8 1372.2,280.9 1372.9,282.8 1373.7,283.3 1374.4,283.9 1375.2,285.4 1375.9,285.6 1376.9,286.3 1377.8,286.5 1378.8,285.3 1379.7,284.9 1380.6,284.5 1381.6,284.2 1382.5,284.7 1383.5,284.8 1384.5,285.5 1385.4,286.6 1386.3,286.7 1387.3,286.5 1388.2,287.1 1389.2,288.8 1390.2,287.5 1391.1,288 1392,287.2 1393,286.9 1394,286 1394.9,286 1395.8,285.3 1396.8,285.1 1397.8,285.5 1398.7,283.6 1399.6,283.4 1400.6,284.2 1401.7,284 1402.8,283.5 1403.9,283.3 1404.9,281.7 1406,282.5 1407.1,281.2 1408.2,282.2 1409.2,281.1 1410.3,280.9 1411.3,280.6 1412.3,279.7 1413.3,280 1414.4,280.2 1415.4,279.1 1416.4,278.7 1417.4,278.3 1418.5,277.6 1419.5,277.4 1420.5,278.7 1421.4,279.3 1422.3,278.5 1423.3,278.7 1424.2,279.1 1425.2,280.4 1426.2,279.6 1427.1,279.8 1428.1,280.3 1429,280.2 1430,280.6 1430.9,281.1 1431.9,282.3 1432.8,283.2 1433.8,282.3 1434.7,282.8 1435.7,283.7 1436.6,283.1 1437.5,283.6 1438.5,284.9 1439.5,285.1 1440.4,285.2 1441.3,285.8 1442.3,285.4 1443.3,286 1444.4,286.1 1445.4,286.3 1446.4,286.2 1447.5,287.7 1448.5,286.5 1449.6,287.4 1450.6,287.1 1451.6,287.3 1452.7,288.5 1453.7,289 1454.7,288.5 1455.6,286.7 1456.5,286.5 1457.5,285.7 1458.5,284.5 1459.4,284.5 1460.3,284.3 1461.3,283.3 1462.3,283.7 1463.4,282.7 1464.4,282.1 1465.4,282.8 1466.4,281.9 1467.5,281 1468.5,281.8 1469.5,280.7 1470.5,280.6 1471.6,280 1472.6,280.3 1473.6,280 1474.6,279.4 1475.7,279.2 1476.7,279.9 1477.7,279.9 1478.7,279.4 1479.8,279.8 1480.8,279.1 1481.8,278.9 1482.8,278.6 1483.9,278.4 1484.9,278.2 1485.9,279.5 1486.9,279 1487.9,278.4 1488.9,278.8 1489.9,279.5 1490.9,280.4 1491.9,280.7 1492.9,280.7 1493.9,280.1 1494.9,280.6 1495.9,281.7 1496.9,281 1497.9,281.7 1498.9,280.8 1499.9,281.8 1500.9,282.1 1501.9,283 1502.9,283.3 1504,282.7 1505,281.8 1506.1,282.5 1507.2,282.4 1508.2,280.7 1509.3,281.1 1510.4,281.1 1511.4,280.5 1512.5,280.6" fill="none" stroke="#e3a335" stroke-width="2.5" stroke-linejoin="round"/><path d="M1005.6 283.9L1006.6 285M1006.6 285L1007.7 285M1007.7 285L1008.7 285.6M1008.7 285.6L1009.8 284.4M1009.8 284.4L1010.8 284.4M1010.8 284.4L1011.9 285.4M1011.9 285.4L1012.9 285.3M1012.9 285.3L1014 284.7M1014 284.7L1015 285.4M1015 285.4L1016 285M1016 285L1017 285.8M1017 285.8L1018 284.7M1018 284.7L1019 285M1019 285L1020 286.3M1020 286.3L1021 285.4M1021 285.4L1022 285.4M1022 285.4L1023 286.4M1023 286.4L1024 286.2M1024 286.2L1025 285.5M1025 285.5L1026 286M1026 286L1027 286.1M1027 286.1L1028 285M1028 285L1029 285.8M1029 285.8L1030 284.7M1030 284.7L1031 284.9M1031 284.9L1032 284.3M1032 284.3L1033 284.4M1033 284.4L1034 285.6M1034 285.6L1035 284.4M1035 284.4L1036 285.4M1036 285.4L1037 284.4M1037 284.4L1038 284.7M1038 284.7L1039 285.1M1039 285.1L1040 284.8M1040 284.8L1041 283.7M1041 283.7L1042 284.5M1042 284.5L1043 284.6M1043 284.6L1044 283.7M1044 283.7L1045 283.5M1045 283.5L1046 284.9M1046 284.9L1047 284.2M1047 284.2L1048 283.6M1048 283.6L1049 284M1049 284L1050 283.6M1050 283.6L1051 284.5M1051 284.5L1052 283.9M1052 283.9L1053 283.1M1053 283.1L1054 284.3M1054 284.3L1055 282.9M1055 282.9L1056 283.1M1056 283.1L1057 282.6M1057 282.6L1058 283.7M1058 283.7L1059 282.5M1059 282.5L1060 283.1M1060 283.1L1061 282.5M1061 282.5L1062 283.3M1062 283.3L1063 283.7M1063 283.7L1064 283.6M1064 283.6L1065 283.5M1065 283.5L1066 283.7M1066 283.7L1067 283.7M1067 283.7L1068 284.1M1068 284.1L1069 283.3M1069 283.3L1070 284.1M1070 284.1L1071 283.7M1071 283.7L1072 285M1072 285L1073 285.2M1073 285.2L1074 283.7M1074 283.7L1075 284M1075 284L1076 284.9M1076 284.9L1077 284.6M1077 284.6L1078 283.5M1078 283.5L1079 284.7M1079 284.7L1080 285.1M1080 285.1L1081 284.1M1081 284.1L1082 283.9M1082 283.9L1083 284.2M1083 284.2L1084 284.8M1084 284.8L1085 283.5M1085 283.5L1086 283.5M1086 283.5L1087 283.2M1087 283.2L1088 284M1088 284L1089 283.6M1089 283.6L1090 283.2M1090 283.2L1091 283.3M1091 283.3L1092 282.5M1092 282.5L1093 282.9M1093 282.9L1094 284M1094 284L1095 283.2M1095 283.2L1096 282.5M1096 282.5L1097 283.6M1097 283.6L1098 282.4M1098 282.4L1099 282.1M1099 282.1L1100 281.6M1100 281.6L1101 281.7M1101 281.7L1102 281.7M1102 281.7L1103 281.6M1103 281.6L1104 282.9M1104 282.9L1105 281.8M1105 281.8L1106 281.9M1106 281.9L1107 282.6M1107 282.6L1108 283.3M1108 283.3L1109 282.2M1109 282.2L1110 283.2M1110 283.2L1111 282.5M1111 282.5L1112 283M1112 283L1113 283.1M1113 283.1L1114 283.8M1114 283.8L1115 283.6M1115 283.6L1116 283.1M1116 283.1L1117.1 283.8M1117.1 283.8L1118.1 282.9M1118.1 282.9L1119.2 283M1119.2 283L1120.2 284M1120.2 284L1121.3 283.3M1121.3 283.3L1122.3 283.8M1122.3 283.8L1123.4 283M1123.4 283L1124.4 284.1M1124.4 284.1L1125.5 283.5M1125.5 283.5L1126.5 282.9M1126.5 282.9L1127.6 284.2M1127.6 284.2L1128.6 283.3M1128.6 283.3L1129.7 283.1M1129.7 283.1L1130.7 283M1130.7 283L1131.8 282.8M1131.8 282.8L1132.8 283M1132.8 283L1133.7 284.5M1133.7 284.5L1134.7 284.1M1134.7 284.1L1135.6 285M1135.6 285L1136.5 285.9M1136.5 285.9L1137.5 286.7M1137.5 286.7L1138.4 287.1M1138.4 287.1L1139.5 287.6M1139.5 287.6L1140.5 286.5M1140.5 286.5L1141.6 286.5M1141.6 286.5L1142.6 286.4M1142.6 286.4L1143.7 285.6M1143.7 285.6L1144.7 285.6M1144.7 285.6L1145.8 285.3M1145.8 285.3L1146.8 286.1M1146.8 286.1L1147.9 284.9M1147.9 284.9L1148.9 285.6M1148.9 285.6L1150 284.6M1150 284.6L1151 285.2M1151 285.2L1152 285.1M1152 285.1L1153 284.4M1153 284.4L1154 285.3M1154 285.3L1155 284.6M1155 284.6L1156 284.3M1156 284.3L1157 283.2M1157 283.2L1158 283.7M1158 283.7L1159 283.3M1159 283.3L1160 283.5M1160 283.5L1161 284.2M1161 284.2L1162 283.9M1162 283.9L1163 282.2M1163 282.2L1164 283.1M1164 283.1L1165 283.4M1165 283.4L1165.8 282M1165.8 282L1166.6 280.6M1166.6 280.6L1167.3 281.3M1167.3 281.3L1168.1 279.9M1168.1 279.9L1168.9 280.2M1168.9 280.2L1169.7 279.4M1169.7 279.4L1169.8 280.3M1169.8 280.3L1169.9 281.6M1169.9 281.6L1170 281.1M1170 281.1L1170.1 283.4M1170.1 283.4L1170.2 283.6M1170.2 283.6L1170.3 284.3M1170.3 284.3L1170.4 285.8M1170.4 285.8L1170.5 287.2M1170.5 287.2L1170.6 287.2M1170.6 287.2L1170.7 289.1M1170.7 289.1L1170.8 290.7M1170.8 290.7L1170.9 291.3M1170.9 291.3L1171 292.4M1171 292.4L1171.1 293M1171.1 293L1171.2 295.3M1171.2 295.3L1171.3 295M1171.3 295L1171.4 296.8M1171.4 296.8L1171.5 297.8M1171.5 297.8L1171.6 297.7M1171.6 297.7L1172.4 300.3M1172.4 300.3L1173.2 299.7M1173.2 299.7L1174 301.9M1174 301.9L1174.8 302.6M1174.8 302.6L1175.6 303.3M1175.6 303.3L1176.4 304M1176.4 304L1176.9 304.1M1176.9 304.1L1177.5 305.1M1177.5 305.1L1178 305.8M1178 305.8L1178.5 307.8M1178.5 307.8L1179 307M1179 307L1179.6 308.1M1179.6 308.1L1180.1 310.5M1180.1 310.5L1180.6 311.1M1180.6 311.1L1181.2 311.8M1181.2 311.8L1181.7 313.2M1181.7 313.2L1182.2 313.3M1182.2 313.3L1182.7 314.7M1182.7 314.7L1183.3 314.9M1183.3 314.9L1183.8 316.6M1183.8 316.6L1184.3 316M1184.3 316L1184.8 317.6M1184.8 317.6L1185.4 318.7M1185.4 318.7L1185.9 320M1185.9 320L1186.3 320.3M1186.3 320.3L1186.8 321.6M1186.8 321.6L1187.2 323.1M1187.2 323.1L1187.7 323M1187.7 323L1188.1 323.5M1188.1 323.5L1188.6 324.1M1188.6 324.1L1189 326.5M1189 326.5L1189.5 326.7M1189.5 326.7L1189.9 327.4M1189.9 327.4L1190.4 328.6M1190.4 328.6L1190.8 328.8M1190.8 328.8L1191.3 329.9M1191.3 329.9L1191.7 330.8M1191.7 330.8L1192.2 331.7M1192.2 331.7L1192.6 333.7M1192.6 333.7L1193.1 333.5M1193.1 333.5L1193.5 334.1M1193.5 334.1L1194 336.4M1194 336.4L1194.4 336.8M1194.4 336.8L1194.9 336.7M1194.9 336.7L1195.3 338.8M1195.3 338.8L1195.6 339.8M1195.6 339.8L1196 340.8M1196 340.8L1196.3 342M1196.3 342L1196.6 342.4M1196.6 342.4L1197 343M1197 343L1197.3 344.9M1197.3 344.9L1197.6 345.7M1197.6 345.7L1198 346.9M1198 346.9L1198.3 346.9M1198.3 346.9L1198.7 348.3M1198.7 348.3L1199 349.8M1199 349.8L1199.3 350.3M1199.3 350.3L1199.7 351.7M1199.7 351.7L1200 352.5M1200 352.5L1200.3 354M1200.3 354L1200.7 354.2M1200.7 354.2L1201 355.5M1201 355.5L1201.2 357.1M1201.2 357.1L1201.5 357.2M1201.5 357.2L1201.7 357.9M1201.7 357.9L1202 359.8M1202 359.8L1202.2 359.9M1202.2 359.9L1202.5 362.2M1202.5 362.2L1202.7 362.2M1202.7 362.2L1202.9 364.3M1202.9 364.3L1203.2 364.6M1203.2 364.6L1203.4 365M1203.4 365L1203.7 366.6M1203.7 366.6L1203.9 367.9M1203.9 367.9L1203.9 368.6M1203.9 368.6L1203.9 369.8M1203.9 369.8L1203.9 370.4M1203.9 370.4L1203.9 372.4M1203.9 372.4L1203.9 372M1203.9 372L1203.9 374.1M1203.9 374.1L1203.9 373.7M1203.9 373.7L1203.9 375.6M1203.9 375.6L1203.9 375.8M1203.9 375.8L1203.9 376.9M1203.9 376.9L1203.9 378.8M1203.9 378.8L1203.9 380.3M1203.9 380.3L1203.9 380.3M1203.9 380.3L1203.9 381.4M1203.9 381.4L1203.9 382.6M1203.9 382.6L1203.9 383.8M1203.9 383.8L1203.9 384.3M1203.9 384.3L1203.9 385.3M1203.9 385.3L1203.9 387.2M1203.9 387.2L1203.9 387.7M1203.9 387.7L1203.9 388.3M1203.9 388.3L1203.9 390.2M1203.9 390.2L1203.9 391.5M1203.9 391.5L1203.9 391.5M1203.9 391.5L1204.1 391.7M1204.1 391.7L1204.3 393.2M1204.3 393.2L1204.6 395.3M1204.6 395.3L1204.8 395M1204.8 395L1205 396M1205 396L1205.2 398.1M1205.2 398.1L1205.5 397.8M1205.5 397.8L1205.7 400.2M1205.7 400.2L1205.9 400M1205.9 400L1206.1 401.3M1206.1 401.3L1206.4 402.7M1206.4 402.7L1206.6 402.8M1206.6 402.8L1206.8 405M1206.8 405L1207 405.4M1207 405.4L1207.3 406.9M1207.3 406.9L1207.5 407.9M1207.5 407.9L1207.7 407.7M1207.7 407.7L1207.9 410M1207.9 410L1208.2 411M1208.2 411L1208.4 410.9M1208.4 410.9L1208.6 412.6M1208.6 412.6L1208.9 412.9M1208.9 412.9L1209.1 414.5M1209.1 414.5L1209.4 415.8M1209.4 415.8L1209.7 416.2M1209.7 416.2L1210 417.4M1210 417.4L1210.2 417.7M1210.2 417.7L1210.5 420M1210.5 420L1210.8 420.6M1210.8 420.6L1211 422M1211 422L1211.3 421.6M1211.3 421.6L1211.6 423.8M1211.6 423.8L1211.9 423.6M1211.9 423.6L1212.1 425.4M1212.1 425.4L1212.4 425.8M1212.4 425.8L1212.7 428.1M1212.7 428.1L1212.9 427.6M1212.9 427.6L1213.2 429.3M1213.2 429.3L1213.5 430.3M1213.5 430.3L1213.8 431.1M1213.8 431.1L1214 431.5M1214 431.5L1214.3 433.6M1214.3 433.6L1215.2 434.7M1215.2 434.7L1216.2 434.1M1216.2 434.1L1217.2 435.7M1217.2 435.7L1218.1 435.2M1218.1 435.2L1219 435.6M1219 435.6L1220 436.5M1220 436.5L1221 438M1221 438L1221.9 438.2M1221.9 438.2L1222.8 438.5M1222.8 438.5L1223.8 437.9M1223.8 437.9L1224.8 439.2M1224.8 439.2L1225.7 439M1225.7 439L1226.6 439.6M1226.6 439.6L1227.6 440.7M1227.6 440.7L1228.4 439.8M1228.4 439.8L1229.2 438.9M1229.2 438.9L1230 438.9M1230 438.9L1230.3 438.4M1230.3 438.4L1230.5 437.6M1230.5 437.6L1230.8 436.6M1230.8 436.6L1231 434.7M1231 434.7L1231.3 433.2M1231.3 433.2L1231.5 433.6M1231.5 433.6L1231.8 431.6M1231.8 431.6L1232 430.4M1232 430.4L1232.3 430.2M1232.3 430.2L1232.5 428.7M1232.5 428.7L1232.8 428.4M1232.8 428.4L1232.8 427M1232.8 427L1232.8 426.4M1232.8 426.4L1232.8 424M1232.8 424L1232.9 424.4M1232.9 424.4L1232.9 422.7M1232.9 422.7L1232.9 422M1232.9 422L1232.9 420.2M1232.9 420.2L1232.9 419.1M1232.9 419.1L1232.9 418.2M1232.9 418.2L1232.9 417M1232.9 417L1232.9 417.4M1232.9 417.4L1233 414.9M1233 414.9L1233 414.1M1233 414.1L1233 413.8M1233 413.8L1233 412.1M1233 412.1L1233 411.1M1233 411.1L1233 410.2M1233 410.2L1233 409.1M1233 409.1L1233.1 407.7M1233.1 407.7L1233.1 408M1233.1 408L1233.1 406.9M1233.1 406.9L1233.1 405.3M1233.1 405.3L1233.1 405.3M1233.1 405.3L1233.1 403.7M1233.1 403.7L1233.1 402.1M1233.1 402.1L1233.2 402.4M1233.2 402.4L1233.2 400.1M1233.2 400.1L1233.2 400.2M1233.2 400.2L1233.2 399.2M1233.2 399.2L1233.2 396.7M1233.2 396.7L1233.2 397.2M1233.2 397.2L1233.2 395.5M1233.2 395.5L1233.2 394.6M1233.2 394.6L1233.3 394.4M1233.3 394.4L1233.3 392.5M1233.3 392.5L1233.3 391.1M1233.3 391.1L1233.3 389.8M1233.3 389.8L1233.3 390.3M1233.3 390.3L1233.3 388.5M1233.3 388.5L1233.3 388M1233.3 388L1233.4 386.9M1233.4 386.9L1233.4 386.5M1233.4 386.5L1233.4 385.4M1233.4 385.4L1233.4 384.4M1233.4 384.4L1233.4 382.6M1233.4 382.6L1233.4 382.3M1233.4 382.3L1233.4 380.3M1233.4 380.3L1233.4 378.9M1233.4 378.9L1233.5 378.9M1233.5 378.9L1233.5 376.8M1233.5 376.8L1233.5 377.5M1233.5 377.5L1233.5 375.3M1233.5 375.3L1233.5 374.5M1233.5 374.5L1233.5 373.2M1233.5 373.2L1233.5 372.3M1233.5 372.3L1233.6 371.7M1233.6 371.7L1233.6 371.1M1233.6 371.1L1233.6 368.7M1233.6 368.7L1233.6 368.3M1233.6 368.3L1233.6 367.1M1233.6 367.1L1233.6 367.4M1233.6 367.4L1233.6 365.5M1233.6 365.5L1233.7 364.5M1233.7 364.5L1233.7 364.4M1233.7 364.4L1233.7 362.4M1233.7 362.4L1233.7 361.4M1233.7 361.4L1233.7 360.4M1233.7 360.4L1233.7 359.1M1233.7 359.1L1233.7 359M1233.7 359L1233.7 357.2M1233.7 357.2L1233.8 356.6M1233.8 356.6L1233.8 355.7M1233.8 355.7L1233.8 355.1M1233.8 355.1L1233.8 354M1233.8 354L1233.9 352.6M1233.9 352.6L1233.9 352.4M1233.9 352.4L1234 351.4M1234 351.4L1234 350.4M1234 350.4L1234.1 349M1234.1 349L1234.1 347.5M1234.1 347.5L1234.2 346.3M1234.2 346.3L1234.2 346.2M1234.2 346.2L1234.3 344.5M1234.3 344.5L1234.4 344M1234.4 344L1234.4 342.4M1234.4 342.4L1234.5 341.3M1234.5 341.3L1234.5 339.7M1234.5 339.7L1234.6 340M1234.6 340L1234.6 338.2M1234.6 338.2L1234.7 337.5M1234.7 337.5L1234.8 337M1234.8 337L1234.8 336.1M1234.8 336.1L1234.9 335.3M1234.9 335.3L1234.9 333.8M1234.9 333.8L1235 332.1M1235 332.1L1235 332.3M1235 332.3L1235.1 329.7M1235.1 329.7L1235.1 329.4M1235.1 329.4L1235.2 329.3M1235.2 329.3L1235.3 328.1M1235.3 328.1L1235.3 326.7M1235.3 326.7L1235.4 326.2M1235.4 326.2L1235.4 323.9M1235.4 323.9L1235.5 322.7M1235.5 322.7L1235.5 322.1M1235.5 322.1L1235.6 322.3M1235.6 322.3L1235.6 319.7M1235.6 319.7L1235.7 319.2M1235.7 319.2L1236.2 318.6M1236.2 318.6L1236.7 317.1M1236.7 317.1L1237.1 317.3M1237.1 317.3L1237.6 315M1237.6 315L1238.1 314M1238.1 314L1238.5 314.7M1238.5 314.7L1239 312M1239 312L1239.5 311.4M1239.5 311.4L1240.4 311.3M1240.4 311.3L1241.4 311.6M1241.4 311.6L1242.3 310.2M1242.3 310.2L1243.2 310.1M1243.2 310.1L1244.2 310.1M1244.2 310.1L1245.1 309.3M1245.1 309.3L1246.1 309.2M1246.1 309.2L1247 307.2M1247 307.2L1247.9 307.7M1247.9 307.7L1248.7 306.2M1248.7 306.2L1249.6 307.2M1249.6 307.2L1250.5 305.2M1250.5 305.2L1251.3 304.8M1251.3 304.8L1252.2 304.9M1252.2 304.9L1253 304.7M1253 304.7L1253.9 303.1M1253.9 303.1L1254.8 303.7M1254.8 303.7L1255.6 302.2M1255.6 302.2L1256.5 302.1M1256.5 302.1L1257.6 301.7M1257.6 301.7L1258.7 303.1M1258.7 303.1L1259.8 303.5M1259.8 303.5L1261 303.6M1261 303.6L1262.1 302.9M1262.1 302.9L1263.2 302.9M1263.2 302.9L1263.4 305.3M1263.4 305.3L1263.7 306M1263.7 306L1263.9 307.3M1263.9 307.3L1264.1 307.3M1264.1 307.3L1264.3 309.2M1264.3 309.2L1264.5 309.9M1264.5 309.9L1264.8 311.1M1264.8 311.1L1265 311.6M1265 311.6L1265.1 313.1M1265.1 313.1L1265.2 313.7M1265.2 313.7L1265.2 314.3M1265.2 314.3L1265.3 315.7M1265.3 315.7L1265.4 316M1265.4 316L1265.5 318.1M1265.5 318.1L1265.6 318.6M1265.6 318.6L1265.7 319.3M1265.7 319.3L1265.8 321.5M1265.8 321.5L1265.8 322M1265.8 322L1265.9 322.7M1265.9 322.7L1266 324.8M1266 324.8L1266.1 325.9M1266.1 325.9L1266.2 326M1266.2 326L1266.2 327.2M1266.2 327.2L1266.3 327.3M1266.3 327.3L1266.4 329M1266.4 329L1266.5 331.2M1266.5 331.2L1266.6 331.3M1266.6 331.3L1266.7 333.2M1266.7 333.2L1266.8 332.5M1266.8 332.5L1266.8 333.6M1266.8 333.6L1266.9 334.7M1266.9 334.7L1267 335.7M1267 335.7L1267.5 337.8M1267.5 337.8L1268 339.1M1268 339.1L1268.5 339.6M1268.5 339.6L1269 340.2M1269 340.2L1269.5 340.7M1269.5 340.7L1270 341.5M1270 341.5L1270.6 342M1270.6 342L1271.1 343.3M1271.1 343.3L1271.6 343.7M1271.6 343.7L1272.1 345.8M1272.1 345.8L1272.6 346.2M1272.6 346.2L1273.1 346.8M1273.1 346.8L1273.6 348.5M1273.6 348.5L1274.5 348.3M1274.5 348.3L1275.5 350M1275.5 350L1276.4 350.5M1276.4 350.5L1277.4 351.1M1277.4 351.1L1278.3 351.8M1278.3 351.8L1278.6 352.9M1278.6 352.9L1278.9 354.5M1278.9 354.5L1279.1 355.7M1279.1 355.7L1279.4 356M1279.4 356L1279.7 357.8M1279.7 357.8L1280 357.5M1280 357.5L1280.2 359.8M1280.2 359.8L1280.5 360.8M1280.5 360.8L1280.8 361.4M1280.8 361.4L1280.9 359.5M1280.9 359.5L1281 359.8M1281 359.8L1281 357.9M1281 357.9L1281.1 356.7M1281.1 356.7L1281.2 356.8M1281.2 356.8L1281.3 354.2M1281.3 354.2L1281.4 354.2M1281.4 354.2L1281.4 352.4M1281.4 352.4L1281.5 352.5M1281.5 352.5L1281.6 350.3M1281.6 350.3L1281.7 349.1M1281.7 349.1L1281.8 348.7M1281.8 348.7L1281.8 347.6M1281.8 347.6L1281.9 347.1M1281.9 347.1L1282 345.2M1282 345.2L1282.6 344.4M1282.6 344.4L1283.2 343.6M1283.2 343.6L1283.9 343.2M1283.9 343.2L1284.5 341.6M1284.5 341.6L1285.1 341.6M1285.1 341.6L1285.7 341.2M1285.7 341.2L1286.3 340.1M1286.3 340.1L1286.9 338.5M1286.9 338.5L1287.6 338.1M1287.6 338.1L1288.2 336.6M1288.2 336.6L1288.8 336.4M1288.8 336.4L1289.9 336.7M1289.9 336.7L1291 335M1291 335L1292.1 335.8M1292.1 335.8L1293.2 336M1293.2 336L1294.3 334.5M1294.3 334.5L1295.4 334.3M1295.4 334.3L1295.6 333.9M1295.6 333.9L1295.8 332M1295.8 332L1296 331.2M1296 331.2L1296.1 330.8M1296.1 330.8L1296.3 329.6M1296.3 329.6L1296.5 328M1296.5 328L1296.7 327M1296.7 327L1296.9 326.5M1296.9 326.5L1297.1 326.2M1297.1 326.2L1297.3 324M1297.3 324L1297.5 323.9M1297.5 323.9L1297.6 322.6M1297.6 322.6L1297.8 321.1M1297.8 321.1L1298 320.4M1298 320.4L1298.2 320.1M1298.2 320.1L1298.4 317.8M1298.4 317.8L1298.6 317.5M1298.6 317.5L1298.9 316.4M1298.9 316.4L1299.1 314.7M1299.1 314.7L1299.3 314.2M1299.3 314.2L1299.5 312.8M1299.5 312.8L1299.8 312.2M1299.8 312.2L1300 310.5M1300 310.5L1300.2 310.4M1300.2 310.4L1300.4 309.8M1300.4 309.8L1300.7 308.9M1300.7 308.9L1300.9 308M1300.9 308L1301.1 305.8M1301.1 305.8L1301.8 305.9M1301.8 305.9L1302.4 304.3M1302.4 304.3L1303.1 304.1M1303.1 304.1L1303.8 302.9M1303.8 302.9L1304.5 302.6M1304.5 302.6L1305.1 301.1M1305.1 301.1L1305.8 301.3M1305.8 301.3L1306.8 300M1306.8 300L1307.7 300.1M1307.7 300.1L1308.7 298.5M1308.7 298.5L1309.6 299M1309.6 299L1310.5 297.6M1310.5 297.6L1311.5 297.5M1311.5 297.5L1312.5 297M1312.5 297L1313.4 297M1313.4 297L1314.3 296.4M1314.3 296.4L1315.3 295.3M1315.3 295.3L1316.2 296.1M1316.2 296.1L1317.2 294M1317.2 294L1318.2 294.3M1318.2 294.3L1319.1 293.2M1319.1 293.2L1320 292.7M1320 292.7L1321 292.4M1321 292.4L1322 293.2M1322 293.2L1322.9 291.1M1322.9 291.1L1323.8 291.9M1323.8 291.9L1324.8 291.1M1324.8 291.1L1325.8 291.1M1325.8 291.1L1326.7 290.7M1326.7 290.7L1327.6 288.9M1327.6 288.9L1328.6 289.9M1328.6 289.9L1329.5 289.2M1329.5 289.2L1330.4 289.8M1330.4 289.8L1331.2 290.7M1331.2 290.7L1332.1 292.3M1332.1 292.3L1333 292.7M1333 292.7L1334 293.2M1334 293.2L1335 292.7M1335 292.7L1336 293.4M1336 293.4L1337 293.4M1337 293.4L1338 294.9M1338 294.9L1339 294.4M1339 294.4L1340 295M1340 295L1340.6 295.3M1340.6 295.3L1341.2 295.6M1341.2 295.6L1341.8 296.4M1341.8 296.4L1342.5 297.4M1342.5 297.4L1343.1 299.2M1343.1 299.2L1343.7 299.1M1343.7 299.1L1344.3 298.6M1344.3 298.6L1345 297.4M1345 297.4L1345.6 296.1M1345.6 296.1L1346.2 295.6M1346.2 295.6L1346.9 294.8M1346.9 294.8L1347.5 294.7M1347.5 294.7L1348.5 294.1M1348.5 294.1L1349.6 293.3M1349.6 293.3L1350.6 292.7M1350.6 292.7L1351.6 292.4M1351.6 292.4L1352.7 292.3M1352.7 292.3L1353.7 292.4M1353.7 292.4L1354.8 292.9M1354.8 292.9L1355.8 291M1355.8 291L1356.8 291M1356.8 291L1357.9 291.1M1357.9 291.1L1358.9 291.1M1358.9 291.1L1359.7 289.5M1359.7 289.5L1360.4 288.6M1360.4 288.6L1361.2 288.8M1361.2 288.8L1361.9 287.1M1361.9 287.1L1362.7 287.8M1362.7 287.8L1363.7 287.3M1363.7 287.3L1364.8 286.6M1364.8 286.6L1365.8 287.3M1365.8 287.3L1366.8 286.2M1366.8 286.2L1367.8 286.7M1367.8 286.7L1368.9 285.2M1368.9 285.2L1369.9 284.7M1369.9 284.7L1370.9 285M1370.9 285L1371.9 285M1371.9 285L1373 285M1373 285L1374 283.7M1374 283.7L1375 284.5M1375 284.5L1376 283.5M1376 283.5L1377 284.4M1377 284.4L1378 283.8M1378 283.8L1379 283.5M1379 283.5L1380 281.9M1380 281.9L1381 281.7M1381 281.7L1382 281.3M1382 281.3L1383.1 281.8M1383.1 281.8L1384.1 280.8M1384.1 280.8L1385.1 280.7M1385.1 280.7L1386.1 280.3M1386.1 280.3L1387.1 281.7M1387.1 281.7L1388.1 280.5M1388.1 280.5L1389.1 279.8M1389.1 279.8L1390.1 279.3M1390.1 279.3L1391.1 279.3M1391.1 279.3L1392.1 279.2M1392.1 279.2L1393.1 280.7M1393.1 280.7L1394.1 281.2M1394.1 281.2L1395.2 281.3M1395.2 281.3L1396.2 280.2M1396.2 280.2L1397.2 281.4M1397.2 281.4L1398.2 282.1M1398.2 282.1L1399.2 281.5M1399.2 281.5L1400.2 282.5M1400.2 282.5L1401.2 281.4M1401.2 281.4L1402.2 282.5M1402.2 282.5L1403.3 283.2M1403.3 283.2L1404.3 282.9M1404.3 282.9L1405.3 282.5M1405.3 282.5L1406.3 284.3M1406.3 284.3L1407.3 284.3M1407.3 284.3L1408.4 283.5M1408.4 283.5L1409.4 284.5M1409.4 284.5L1410.5 283.7M1410.5 283.7L1411.5 284.7M1411.5 284.7L1412.6 285.1M1412.6 285.1L1413.6 285.1M1413.6 285.1L1414.7 285M1414.7 285L1415.7 285.9M1415.7 285.9L1416.7 285.8M1416.7 285.8L1417.6 285.8M1417.6 285.8L1418.6 286.6M1418.6 286.6L1419.5 287.2M1419.5 287.2L1420.5 289M1420.5 289L1421.4 288.3M1421.4 288.3L1422.4 289.5M1422.4 289.5L1423.3 288.3M1423.3 288.3L1424.2 286.9M1424.2 286.9L1425.2 288M1425.2 288L1426.2 287.6M1426.2 287.6L1427.1 285.8M1427.1 285.8L1428.1 285.9M1428.1 285.9L1429 284.9M1429 284.9L1430 284.2M1430 284.2L1430.9 283.6M1430.9 283.6L1431.9 284.7M1431.9 284.7L1432.8 283.1M1432.8 283.1L1433.8 282.7M1433.8 282.7L1434.7 282.3M1434.7 282.3L1435.7 282.1M1435.7 282.1L1436.6 282.9M1436.6 282.9L1437.6 281.2M1437.6 281.2L1438.5 280.8M1438.5 280.8L1439.5 280.2M1439.5 280.2L1440.4 281M1440.4 281L1441.4 279.7M1441.4 279.7L1442.4 280.7M1442.4 280.7L1443.5 280.7M1443.5 280.7L1444.5 279.3M1444.5 279.3L1445.5 279.5M1445.5 279.5L1446.5 279.9M1446.5 279.9L1447.6 279.1M1447.6 279.1L1448.6 278.5M1448.6 278.5L1449.6 279.4M1449.6 279.4L1450.6 279.3M1450.6 279.3L1451.7 277.8M1451.7 277.8L1452.7 278.6M1452.7 278.6L1453.7 277M1453.7 277L1454.7 278.5M1454.7 278.5L1455.7 277.8M1455.7 277.8L1456.7 279.1M1456.7 279.1L1457.8 277.5M1457.8 277.5L1458.8 278M1458.8 278L1459.8 278.5M1459.8 278.5L1460.8 278.8M1460.8 278.8L1461.8 279.5M1461.8 279.5L1462.8 278.5M1462.8 278.5L1463.9 278.5M1463.9 278.5L1464.9 278.9M1464.9 278.9L1465.9 278.8M1465.9 278.8L1466.9 280.5M1466.9 280.5L1467.7 280.4M1467.7 280.4L1468.5 280.5M1468.5 280.5L1469.3 281.4M1469.3 281.4L1470.2 282M1470.2 282L1471 283M1471 283L1471.8 283.4M1471.8 283.4L1472.6 284.6M1472.6 284.6L1473.6 283.7M1473.6 283.7L1474.6 284.3M1474.6 284.3L1475.7 284.5M1475.7 284.5L1476.7 284M1476.7 284L1477.7 282.6M1477.7 282.6L1478.7 283.1M1478.7 283.1L1479.8 283.5M1479.8 283.5L1480.8 281.9M1480.8 281.9L1481.8 283.3M1481.8 283.3L1482.8 281.5M1482.8 281.5L1483.9 281.3M1483.9 281.3L1484.9 280.9M1484.9 280.9L1485.9 282.2M1485.9 282.2L1486.9 280.6M1486.9 280.6L1487.9 281.2M1487.9 281.2L1488.9 281.2M1488.9 281.2L1489.9 280.9M1489.9 280.9L1490.9 281.6M1490.9 281.6L1491.9 280.8M1491.9 280.8L1492.9 279.5M1492.9 279.5L1493.9 280M1493.9 280L1494.9 279.4M1494.9 279.4L1495.9 280.6M1495.9 280.6L1496.9 279.2M1496.9 279.2L1497.9 279.8M1497.9 279.8L1498.9 279.3M1498.9 279.3L1499.9 279.1M1499.9 279.1L1500.9 279.1M1500.9 279.1L1501.9 278.4M1501.9 278.4L1502.9 279M1502.9 279L1504 279.1M1504 279.1L1505 279.7M1505 279.7L1506.1 279.9M1506.1 279.9L1507.2 278.8M1507.2 278.8L1508.2 280.3M1508.2 280.3L1509.3 279.6M1509.3 279.6L1510.4 281M1510.4 281L1511.4 280.5M1511.4 280.5L1512.5 280.6" fill="none" stroke="#7d2a9a" stroke-width="2.6" stroke-dasharray="4.2 2.2"/>
<rect x="151.5" y="600.3" width="602.6" height="449.1" fill="none" stroke="#3a3a3a" stroke-width="1.9"/>
<path d="M151.5 1049.1h7M754.1 1049.1h-7M151.5 960.3h7M754.1 960.3h-7M151.5 871.6h7M754.1 871.6h-7M151.5 782.8h7M754.1 782.8h-7M151.5 694.1h7M754.1 694.1h-7M151.5 605.3h7M754.1 605.3h-7M452.7 1049.4v-7M452.7 600.3v7" stroke="#3a3a3a" stroke-width="1.5" fill="none"/>
<polyline points="157.5,1045.5 163.5,1042.1 169.6,1037.8 175.6,1033.8 181.6,1031.8 187.6,1028.9 193.7,1026.4 199.7,1024.3 205.7,1021.8 211.7,1019.7 217.8,1017 223.8,1015.5 229.8,1013.1 235.8,1011.4 241.9,1009.6 247.9,1007.1 253.9,1004.8 259.9,1002.3 266,999.5 272,997.6 278,995.2 284,992.8 290.1,990.8 296.1,990 302.1,988.3 308.1,986.4 314.1,984.6 320.2,983.3 326.2,981.2 332.2,978.3 338.2,975.9 344.3,973.9 350.3,972 356.3,968.6 362.3,966.7 368.4,964.9 374.4,962.8 380.4,960.5 386.4,958.9 392.5,956.4 398.5,953.7 404.5,951.1 410.5,949.7 416.6,947.9 422.6,947 428.6,945 434.6,942.7 440.7,940.3 446.7,938.1 452.7,936 458.7,933.3 464.7,931.6 470.8,930.1 476.8,928.3 482.8,926.9 488.8,925.3 494.9,923.5 500.9,921.8 506.9,919.9 512.9,917.9 519,916.6 525,914.4 531,912.4 537,910.4 543.1,908.7 549.1,906.7 555.1,904.3 561.1,901.5 567.2,898.5 573.2,896.1 579.2,892.9 585.2,890.3 591.3,887.3 597.3,884.5 603.3,881.7 609.3,878.7 615.3,875.1 621.4,871.9 627.4,870.4 633.4,868.7 639.4,866.7 645.5,865.1 651.5,862.9 657.5,861.2 663.5,859.6 669.6,857.8 675.6,855.6 681.6,854 687.6,851.3 693.7,848.7 699.7,846.1 705.7,843.7 711.7,840.9 717.8,838 723.8,835.5 729.8,833 735.8,830.9 741.9,829.2 747.9,827.3 753.5,825.3" fill="none" stroke="#3273b3" stroke-width="4.8" stroke-linejoin="round"/>
<polyline points="157.5,1048 163.5,1045.6 169.6,1043.5 175.6,1041.4 181.6,1038.8 187.6,1037 193.7,1035.2 199.7,1033.7 205.7,1032 211.7,1030.5 217.8,1029 223.8,1026.7 229.8,1024.8 235.8,1022.4 241.9,1020.3 247.9,1018.3 253.9,1015.8 259.9,1013.4 266,1011.2 272,1008.7 278,1006.5 284,1004.9 290.1,1002.3 296.1,998.1 302.1,994.7 308.1,992.9 314.1,990.5 320.2,988.5 326.2,985.8 332.2,983.6 338.2,982.2 344.3,980.4 350.3,978.8 356.3,977.2 362.3,975.4 368.4,973.3 374.4,970.9 380.4,968.6 386.4,966 392.5,963.9 398.5,961.9 404.5,960 410.5,956.9 416.6,953.8 422.6,950.8 428.6,947.9 434.6,945.6 440.7,943.3 446.7,941.2 452.7,938.7 458.7,936.5 464.7,932.7 470.8,928.7 476.8,926.4 482.8,923.8 488.8,921.2 494.9,918.7 500.9,917 506.9,914.8 512.9,912.8 519,910.5 525,908.7 531,907 537,904.9 543.1,903.1 549.1,900.6 555.1,899 561.1,896.3 567.2,894.4 573.2,892.1 579.2,890.4 585.2,888.2 591.3,886.3 597.3,884.2 603.3,882.2 609.3,879.9 615.3,878.7 621.4,877.3 627.4,875.5 633.4,873.8 639.4,871.3 645.5,869 651.5,866.8 657.5,864.2 663.5,861.1 669.6,858.6 675.6,855.7 681.6,852.3 687.6,849.3 693.7,847.3 699.7,844.9 705.7,843.1 711.7,841.4 717.8,839.7 723.8,838.5 729.8,837 735.8,833.9 741.9,831 747.9,828.5 753.5,825.6" fill="none" stroke="#cd4d1b" stroke-width="4.8" stroke-linejoin="round"/>
<polyline points="157.5,1043.5 163.5,1038.4 169.6,1033.6 175.6,1028.4 181.6,1023.5 187.6,1018.5 193.7,1014.3 199.7,1010.4 205.7,1006.3 211.7,1002 217.8,996.9 223.8,991.8 229.8,988.3 235.8,984.8 241.9,980.9 247.9,976.4 253.9,970.9 259.9,965.7 266,960.5 272,956.7 278,952.9 284,949.4 290.1,945.6 296.1,941.3 302.1,934.3 308.1,930.3 314.1,926.1 320.2,923.3 326.2,919.6 332.2,912.5 338.2,909.7 344.3,906 350.3,902.2 356.3,896.6 362.3,893.4 368.4,889.9 374.4,885 380.4,879.8 386.4,874.4 392.5,869.6 398.5,865.7 404.5,862.5 410.5,858.1 416.6,853.5 422.6,848.5 428.6,845.1 434.6,840.9 440.7,835.4 446.7,830 452.7,824.8 458.7,821 464.7,817.2 470.8,812.4 476.8,808.3 482.8,804.1 488.8,799.7 494.9,795.7 500.9,791.1 506.9,786.4 512.9,782.9 519,779.2 525,775.4 531,771.5 537,768 543.1,763.7 549.1,758.5 555.1,754.8 561.1,750.8 567.2,745.2 573.2,739.1 579.2,734.8 585.2,731.3 591.3,727.5 597.3,722 603.3,716.7 609.3,711.6 615.3,707 621.4,701.9 627.4,698.4 633.4,694.5 639.4,690.4 645.5,685.8 651.5,681.7 657.5,676.9 663.5,671.7 669.6,667 675.6,662.2 681.6,657.4 687.6,652.7 693.7,647.7 699.7,643.4 705.7,638.8 711.7,634 717.8,630.3 723.8,626.2 729.8,622 735.8,616.9 741.9,612.3 747.9,606.7 753.6,601.9" fill="none" stroke="#111" stroke-width="5.6" stroke-linejoin="round"/>
<circle cx="753.6" cy="601.9" r="4.9" fill="#111"/>
<circle cx="753.5" cy="825.6" r="4.3" fill="#e2302a" stroke="#111" stroke-width="1.1"/>
<rect x="905.9" y="604.7" width="602.3" height="445.1" fill="none" stroke="#3a3a3a" stroke-width="1.9"/>
<path d="M905.9 1012.7h7M1508.2 1012.7h-7M905.9 938.6h7M1508.2 938.6h-7M905.9 864.5h7M1508.2 864.5h-7M905.9 790.3h7M1508.2 790.3h-7M905.9 716.2h7M1508.2 716.2h-7M905.9 642.1h7M1508.2 642.1h-7M1207 1049.8v-7M1207 604.7v7" stroke="#3a3a3a" stroke-width="1.5" fill="none"/>
<line x1="911.9" y1="1013" x2="1508.2" y2="1013" stroke="#3273b3" stroke-width="5.4"/>
<text x="-3.76" y="37.3" font-size="52" font-weight="bold">a)</text>
<text transform="translate(37.75 369.85) rotate(-90)" font-size="44.45" font-weight="bold" textLength="222.25" lengthAdjust="spacingAndGlyphs">Short-term</text>
<text transform="translate(84.75 494.3) rotate(-90)" font-size="42.93" font-weight="bold" textLength="466.74" lengthAdjust="spacingAndGlyphs">cross-correlation value</text>
<text x="108.8" y="63.03" font-size="35.19"><tspan class="j1" stroke="#000" font-size="33.72">1</tspan></text>
<text x="108.22" y="156.85" font-size="37.61">0</text>
<text x="88.92" y="249.23" font-size="36.56">−<tspan class="j1" stroke="#000" font-size="35.02">1</tspan></text>
<text x="109.04" y="294.43" font-size="35.22"><tspan class="j1" stroke="#000" font-size="33.74">1</tspan></text>
<text x="108.08" y="394.86" font-size="38.49">0</text>
<text x="89.01" y="478.63" font-size="36.69">−<tspan class="j1" stroke="#000" font-size="35.15">1</tspan></text>
<text x="127.04" y="504.86" font-size="32.39">0</text>
<text x="352.16" y="504.75" font-size="33.31" textLength="49.86" lengthAdjust="spacingAndGlyphs">200</text>
<text x="588.82" y="504.75" font-size="32.48" textLength="48.25" lengthAdjust="spacingAndGlyphs">400</text>
<text x="818.22" y="504.85" font-size="34.49" textLength="49.86" lengthAdjust="spacingAndGlyphs">600</text>
<text x="404.51" y="544.75" font-size="42.01" font-weight="bold" textLength="187.32" lengthAdjust="spacingAndGlyphs">Time [ns]</text>
<text x="392.83" y="193.8" font-size="38.57" fill="#cd4d1b">C</text>
<text x="415.6" y="208.35" font-size="26.5" fill="#cd4d1b" textLength="33.61" lengthAdjust="spacingAndGlyphs"><tspan class="j1" stroke="#cd4d1b" font-size="25.39">1</tspan>B</text>
<text x="556.71" y="179.8" font-size="38.59" fill="#3273b3">C</text>
<text x="579.43" y="193.64" font-size="27.91" fill="#3273b3" textLength="33.74" lengthAdjust="spacingAndGlyphs"><tspan class="j1" stroke="#3273b3" font-size="26.74">1</tspan>A</text>
<text x="214.66" y="419.82" font-size="37.35" fill="#7d2a9a">C</text>
<text x="236.37" y="434.75" font-size="30.64" fill="#7d2a9a" textLength="34.66" lengthAdjust="spacingAndGlyphs">2B</text>
<text x="388.9" y="419.8" font-size="37.57" fill="#e3a335">C</text>
<text x="410.68" y="434.75" font-size="29.73" fill="#e3a335" textLength="34.6" lengthAdjust="spacingAndGlyphs">2A</text>
<text x="859.44" y="37.75" font-size="50" font-weight="bold">b)</text>
<text transform="translate(901.75 365.81) rotate(-90)" font-size="45.23" font-weight="bold" textLength="216.42" lengthAdjust="spacingAndGlyphs">Short-term</text>
<text transform="translate(949.75 491.51) rotate(-90)" font-size="43.64" font-weight="bold" textLength="466.94" lengthAdjust="spacingAndGlyphs">cross-correlation value</text>
<text x="980.35" y="63.13" font-size="35.19"><tspan class="j1" stroke="#000" font-size="33.72">1</tspan></text>
<text x="979.38" y="156.82" font-size="36.8">0</text>
<text x="960.4" y="249.43" font-size="36.56">−<tspan class="j1" stroke="#000" font-size="35.02">1</tspan></text>
<text x="980.07" y="295.13" font-size="37.97"><tspan class="j1" stroke="#000" font-size="36.38">1</tspan></text>
<text x="979.14" y="394.83" font-size="37.7">0</text>
<text x="960.61" y="478.93" font-size="36.63">−<tspan class="j1" stroke="#000" font-size="35.09">1</tspan></text>
<text x="997.02" y="504.77" font-size="33.32" textLength="35.45" lengthAdjust="spacingAndGlyphs">80</text>
<text x="1104.56" y="505.03" font-size="34.78" textLength="53.93" lengthAdjust="spacingAndGlyphs"><tspan class="j1" stroke="#000" font-size="33.32">1</tspan>00</text>
<text x="1235.37" y="502.43" font-size="34.78" textLength="52.93" lengthAdjust="spacingAndGlyphs"><tspan class="j1" stroke="#000" font-size="33.32">1</tspan>20</text>
<text x="1356.01" y="505.23" font-size="34.83" textLength="52.82" lengthAdjust="spacingAndGlyphs"><tspan class="j1" stroke="#000" font-size="33.37">1</tspan>40</text>
<text x="1474.32" y="505.23" font-size="34.83" textLength="53.5" lengthAdjust="spacingAndGlyphs"><tspan class="j1" stroke="#000" font-size="33.37">1</tspan>60</text>
<text x="1164.51" y="545.75" font-size="42.24" font-weight="bold" textLength="187.96" lengthAdjust="spacingAndGlyphs">Time [ns]</text>
<text x="1083.86" y="136.8" font-size="37.73" fill="#cd4d1b">C</text>
<text x="1106.2" y="150.85" font-size="28.11" fill="#cd4d1b" textLength="33.41" lengthAdjust="spacingAndGlyphs"><tspan class="j1" stroke="#cd4d1b" font-size="26.93">1</tspan>B</text>
<text x="1239.27" y="208.82" font-size="37.63" fill="#3273b3">C</text>
<text x="1261.7" y="223.74" font-size="28.03" fill="#3273b3" textLength="33.56" lengthAdjust="spacingAndGlyphs"><tspan class="j1" stroke="#3273b3" font-size="26.85">1</tspan>A</text>
<text x="1094.24" y="372.8" font-size="38.72" fill="#e3a335">C</text>
<text x="1115.88" y="386.75" font-size="30.64" fill="#e3a335" textLength="34.55" lengthAdjust="spacingAndGlyphs">2A</text>
<text x="1239.21" y="447.83" font-size="37.66" fill="#7d2a9a">C</text>
<text x="1260.7" y="461.75" font-size="30.64" fill="#7d2a9a" textLength="33.98" lengthAdjust="spacingAndGlyphs">2B</text>
<text x="-1.08" y="624.75" font-size="48.86" font-weight="bold" textLength="43.24" lengthAdjust="spacingAndGlyphs">c)</text>
<text transform="translate(85.55 1065.66) rotate(-90)" font-size="45.16" font-weight="bold" textLength="475.29" lengthAdjust="spacing">Accumulated Reward</text>
<text x="91.03" y="616.89" font-size="31.64" class="j" textLength="51.21" lengthAdjust="spacingAndGlyphs">100</text>
<text x="107.48" y="706" font-size="32.34" class="j" textLength="34.86" lengthAdjust="spacingAndGlyphs">80</text>
<text x="106.12" y="794.14" font-size="32.07" class="j" textLength="36.66" lengthAdjust="spacingAndGlyphs">60</text>
<text x="108.23" y="883.09" font-size="30.75" class="j" textLength="34.39" lengthAdjust="spacingAndGlyphs">40</text>
<text x="107.1" y="971.82" font-size="32.06" class="j" textLength="35.65" lengthAdjust="spacingAndGlyphs">20</text>
<text x="124.49" y="1061.03" font-size="32.4" class="j" textLength="18.06" lengthAdjust="spacingAndGlyphs">0</text>
<text x="141.31" y="1079.17" font-size="32.48" class="j" textLength="17.9" lengthAdjust="spacingAndGlyphs">0</text>
<text x="437.75" y="1078.75" font-size="32.33" class="j" textLength="30.44" lengthAdjust="spacingAndGlyphs">50</text>
<text x="731" y="1079.69" font-size="31.64" class="j" textLength="52.56" lengthAdjust="spacingAndGlyphs">100</text>
<text x="395.48" y="1123.35" font-size="42.95" font-weight="bold" textLength="99.21" lengthAdjust="spacingAndGlyphs">Play</text>
<text x="549.86" y="652.75" font-size="45.33" font-weight="bold" textLength="107.44" lengthAdjust="spacingAndGlyphs">100.7</text>
<text x="330.47" y="805.75" font-size="46.15" font-weight="bold" textLength="110.63" lengthAdjust="spacingAndGlyphs">Team</text>
<text x="654.36" y="801.75" font-size="45.33" font-weight="bold" fill="#cd4d1b" textLength="82.82" lengthAdjust="spacingAndGlyphs">50.3</text>
<text x="481.98" y="855.75" font-size="43.92" font-weight="bold" fill="#cd4d1b" textLength="168.2" lengthAdjust="spacingAndGlyphs">Player 2</text>
<text x="663.79" y="917.75" font-size="45.61" font-weight="bold" fill="#3273b3" textLength="80.87" lengthAdjust="spacingAndGlyphs">50.4</text>
<text x="484.86" y="971.75" font-size="42.65" font-weight="bold" fill="#3273b3" textLength="162.94" lengthAdjust="spacingAndGlyphs">Player 1</text>
<text x="820.03" y="626.75" font-size="52.27" font-weight="bold" textLength="47.38" lengthAdjust="spacingAndGlyphs">d)</text>
<text transform="translate(838.75 978.61) rotate(-90)" font-size="44.55" font-weight="bold" textLength="259.26" lengthAdjust="spacingAndGlyphs">Conflict  rate</text>
<text x="881.03" y="653.09" font-size="30.59" class="j">1</text>
<text x="855.11" y="728.49" font-size="31.16" class="j" textLength="42.71" lengthAdjust="spacingAndGlyphs">0.8</text>
<text x="855.38" y="802.89" font-size="29.81" class="j" textLength="42.66" lengthAdjust="spacingAndGlyphs">0.6</text>
<text x="855.47" y="876.69" font-size="31.41" class="j" textLength="41.9" lengthAdjust="spacingAndGlyphs">0.4</text>
<text x="855.45" y="950.49" font-size="30.12" class="j" textLength="42.6" lengthAdjust="spacingAndGlyphs">0.2</text>
<text x="880.96" y="1024.42" font-size="30.6" class="j" textLength="16.95" lengthAdjust="spacingAndGlyphs">0</text>
<text x="897.06" y="1081.79" font-size="30.72" class="j" textLength="17.66" lengthAdjust="spacingAndGlyphs">0</text>
<text x="1192.05" y="1079.29" font-size="32.95" class="j" textLength="30.63" lengthAdjust="spacingAndGlyphs">50</text>
<text x="1482.23" y="1081.09" font-size="31.64" class="j" textLength="52.56" lengthAdjust="spacingAndGlyphs">100</text>
<text x="1167.36" y="1124.62" font-size="42.95" font-weight="bold" textLength="97.65" lengthAdjust="spacingAndGlyphs">Play</text>
<text x="1276.96" y="661.56" font-size="41.95" class="j" textLength="210.57" lengthAdjust="spacingAndGlyphs">Average：0</text>
<path d="M1203.6 41.8V245.4M1203.6 269.4V473.3M1235.3 41.8V245.4M1235.3 269.4V473.3M1267 41.8V245.4M1267 269.4V473.3M1298.8 41.8V245.4M1298.8 269.4V473.3M1330.5 41.8V245.4M1330.5 269.4V473.3M1362.2 41.8V245.4M1362.2 269.4V473.3M1393.9 41.8V245.4M1393.9 269.4V473.3M1425.6 41.8V245.4M1425.6 269.4V473.3M1457.4 41.8V245.4M1457.4 269.4V473.3M1489.1 41.8V245.4M1489.1 269.4V473.3" stroke="#000" stroke-width="2" stroke-dasharray="13 5.55" stroke-dashoffset="7.15" fill="none"/>
</svg></body></html>
